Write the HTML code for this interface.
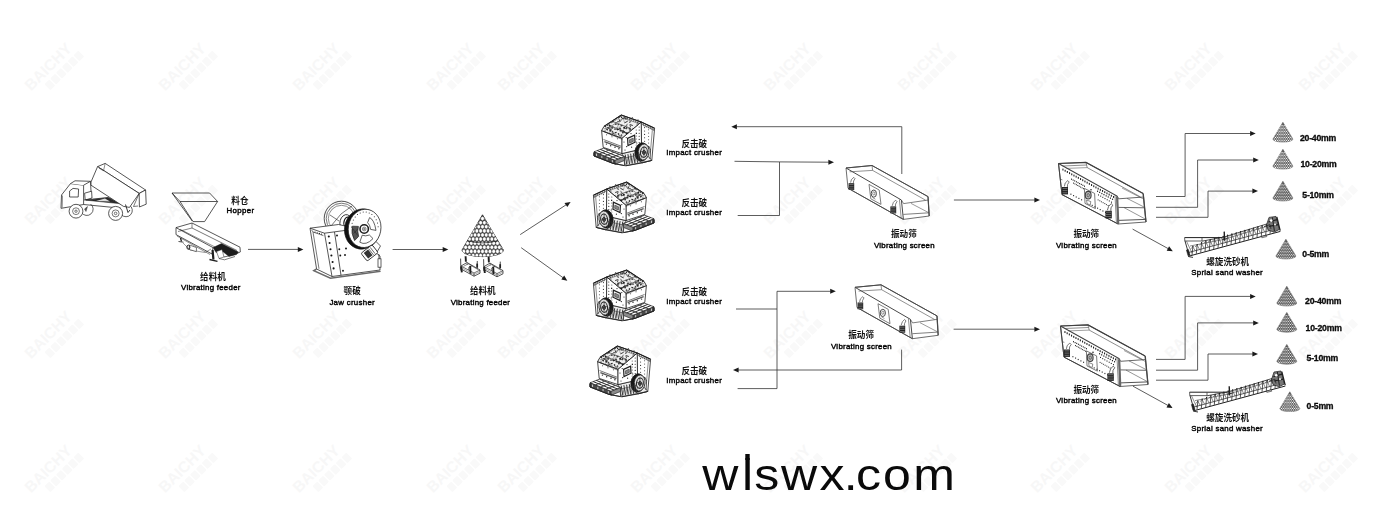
<!DOCTYPE html>
<html><head><meta charset="utf-8"><title>Flow</title>
<style>
html,body{margin:0;padding:0;background:#fff;}
body{width:1400px;height:520px;overflow:hidden;font-family:"Liberation Sans",sans-serif;}
svg{display:block;}
svg text{font-family:"Liberation Sans","Noto Sans CJK SC",sans-serif;fill:#111;}
</style></head><body>
<svg width="1400" height="520" viewBox="0 0 1400 520">
<defs>
</defs>
<g><g transform="translate(54 67) rotate(-45)"><text x="-4" y="1" font-size="15.5" font-weight="700" text-anchor="middle" style="fill:#f7f7f7">BAICHY</text><g fill="#f9f9f9"><rect x="-19.0" y="5.5" width="6.8" height="8.4" rx="1"/><rect x="-10.8" y="5.5" width="6.8" height="8.4" rx="1"/><rect x="-2.6" y="5.5" width="6.8" height="8.4" rx="1"/><rect x="5.6" y="5.5" width="6.8" height="8.4" rx="1"/><rect x="13.8" y="5.5" width="6.8" height="8.4" rx="1"/><rect x="22.0" y="5.5" width="6.8" height="8.4" rx="1"/></g></g><g transform="translate(188 67) rotate(-45)"><text x="-4" y="1" font-size="15.5" font-weight="700" text-anchor="middle" style="fill:#f7f7f7">BAICHY</text><g fill="#f9f9f9"><rect x="-19.0" y="5.5" width="6.8" height="8.4" rx="1"/><rect x="-10.8" y="5.5" width="6.8" height="8.4" rx="1"/><rect x="-2.6" y="5.5" width="6.8" height="8.4" rx="1"/><rect x="5.6" y="5.5" width="6.8" height="8.4" rx="1"/><rect x="13.8" y="5.5" width="6.8" height="8.4" rx="1"/><rect x="22.0" y="5.5" width="6.8" height="8.4" rx="1"/></g></g><g transform="translate(322 67) rotate(-45)"><text x="-4" y="1" font-size="15.5" font-weight="700" text-anchor="middle" style="fill:#f7f7f7">BAICHY</text><g fill="#f9f9f9"><rect x="-19.0" y="5.5" width="6.8" height="8.4" rx="1"/><rect x="-10.8" y="5.5" width="6.8" height="8.4" rx="1"/><rect x="-2.6" y="5.5" width="6.8" height="8.4" rx="1"/><rect x="5.6" y="5.5" width="6.8" height="8.4" rx="1"/><rect x="13.8" y="5.5" width="6.8" height="8.4" rx="1"/><rect x="22.0" y="5.5" width="6.8" height="8.4" rx="1"/></g></g><g transform="translate(456 67) rotate(-45)"><text x="-4" y="1" font-size="15.5" font-weight="700" text-anchor="middle" style="fill:#f7f7f7">BAICHY</text><g fill="#f9f9f9"><rect x="-19.0" y="5.5" width="6.8" height="8.4" rx="1"/><rect x="-10.8" y="5.5" width="6.8" height="8.4" rx="1"/><rect x="-2.6" y="5.5" width="6.8" height="8.4" rx="1"/><rect x="5.6" y="5.5" width="6.8" height="8.4" rx="1"/><rect x="13.8" y="5.5" width="6.8" height="8.4" rx="1"/><rect x="22.0" y="5.5" width="6.8" height="8.4" rx="1"/></g></g><g transform="translate(527 67) rotate(-45)"><text x="-4" y="1" font-size="15.5" font-weight="700" text-anchor="middle" style="fill:#f7f7f7">BAICHY</text><g fill="#f9f9f9"><rect x="-19.0" y="5.5" width="6.8" height="8.4" rx="1"/><rect x="-10.8" y="5.5" width="6.8" height="8.4" rx="1"/><rect x="-2.6" y="5.5" width="6.8" height="8.4" rx="1"/><rect x="5.6" y="5.5" width="6.8" height="8.4" rx="1"/><rect x="13.8" y="5.5" width="6.8" height="8.4" rx="1"/><rect x="22.0" y="5.5" width="6.8" height="8.4" rx="1"/></g></g><g transform="translate(660 67) rotate(-45)"><text x="-4" y="1" font-size="15.5" font-weight="700" text-anchor="middle" style="fill:#f7f7f7">BAICHY</text><g fill="#f9f9f9"><rect x="-19.0" y="5.5" width="6.8" height="8.4" rx="1"/><rect x="-10.8" y="5.5" width="6.8" height="8.4" rx="1"/><rect x="-2.6" y="5.5" width="6.8" height="8.4" rx="1"/><rect x="5.6" y="5.5" width="6.8" height="8.4" rx="1"/><rect x="13.8" y="5.5" width="6.8" height="8.4" rx="1"/><rect x="22.0" y="5.5" width="6.8" height="8.4" rx="1"/></g></g><g transform="translate(793 67) rotate(-45)"><text x="-4" y="1" font-size="15.5" font-weight="700" text-anchor="middle" style="fill:#f7f7f7">BAICHY</text><g fill="#f9f9f9"><rect x="-19.0" y="5.5" width="6.8" height="8.4" rx="1"/><rect x="-10.8" y="5.5" width="6.8" height="8.4" rx="1"/><rect x="-2.6" y="5.5" width="6.8" height="8.4" rx="1"/><rect x="5.6" y="5.5" width="6.8" height="8.4" rx="1"/><rect x="13.8" y="5.5" width="6.8" height="8.4" rx="1"/><rect x="22.0" y="5.5" width="6.8" height="8.4" rx="1"/></g></g><g transform="translate(927 67) rotate(-45)"><text x="-4" y="1" font-size="15.5" font-weight="700" text-anchor="middle" style="fill:#f7f7f7">BAICHY</text><g fill="#f9f9f9"><rect x="-19.0" y="5.5" width="6.8" height="8.4" rx="1"/><rect x="-10.8" y="5.5" width="6.8" height="8.4" rx="1"/><rect x="-2.6" y="5.5" width="6.8" height="8.4" rx="1"/><rect x="5.6" y="5.5" width="6.8" height="8.4" rx="1"/><rect x="13.8" y="5.5" width="6.8" height="8.4" rx="1"/><rect x="22.0" y="5.5" width="6.8" height="8.4" rx="1"/></g></g><g transform="translate(1060 67) rotate(-45)"><text x="-4" y="1" font-size="15.5" font-weight="700" text-anchor="middle" style="fill:#f7f7f7">BAICHY</text><g fill="#f9f9f9"><rect x="-19.0" y="5.5" width="6.8" height="8.4" rx="1"/><rect x="-10.8" y="5.5" width="6.8" height="8.4" rx="1"/><rect x="-2.6" y="5.5" width="6.8" height="8.4" rx="1"/><rect x="5.6" y="5.5" width="6.8" height="8.4" rx="1"/><rect x="13.8" y="5.5" width="6.8" height="8.4" rx="1"/><rect x="22.0" y="5.5" width="6.8" height="8.4" rx="1"/></g></g><g transform="translate(1194 67) rotate(-45)"><text x="-4" y="1" font-size="15.5" font-weight="700" text-anchor="middle" style="fill:#f7f7f7">BAICHY</text><g fill="#f9f9f9"><rect x="-19.0" y="5.5" width="6.8" height="8.4" rx="1"/><rect x="-10.8" y="5.5" width="6.8" height="8.4" rx="1"/><rect x="-2.6" y="5.5" width="6.8" height="8.4" rx="1"/><rect x="5.6" y="5.5" width="6.8" height="8.4" rx="1"/><rect x="13.8" y="5.5" width="6.8" height="8.4" rx="1"/><rect x="22.0" y="5.5" width="6.8" height="8.4" rx="1"/></g></g><g transform="translate(1328 67) rotate(-45)"><text x="-4" y="1" font-size="15.5" font-weight="700" text-anchor="middle" style="fill:#f7f7f7">BAICHY</text><g fill="#f9f9f9"><rect x="-19.0" y="5.5" width="6.8" height="8.4" rx="1"/><rect x="-10.8" y="5.5" width="6.8" height="8.4" rx="1"/><rect x="-2.6" y="5.5" width="6.8" height="8.4" rx="1"/><rect x="5.6" y="5.5" width="6.8" height="8.4" rx="1"/><rect x="13.8" y="5.5" width="6.8" height="8.4" rx="1"/><rect x="22.0" y="5.5" width="6.8" height="8.4" rx="1"/></g></g><g transform="translate(54 201) rotate(-45)"><text x="-4" y="1" font-size="15.5" font-weight="700" text-anchor="middle" style="fill:#f7f7f7">BAICHY</text><g fill="#f9f9f9"><rect x="-19.0" y="5.5" width="6.8" height="8.4" rx="1"/><rect x="-10.8" y="5.5" width="6.8" height="8.4" rx="1"/><rect x="-2.6" y="5.5" width="6.8" height="8.4" rx="1"/><rect x="5.6" y="5.5" width="6.8" height="8.4" rx="1"/><rect x="13.8" y="5.5" width="6.8" height="8.4" rx="1"/><rect x="22.0" y="5.5" width="6.8" height="8.4" rx="1"/></g></g><g transform="translate(188 201) rotate(-45)"><text x="-4" y="1" font-size="15.5" font-weight="700" text-anchor="middle" style="fill:#f7f7f7">BAICHY</text><g fill="#f9f9f9"><rect x="-19.0" y="5.5" width="6.8" height="8.4" rx="1"/><rect x="-10.8" y="5.5" width="6.8" height="8.4" rx="1"/><rect x="-2.6" y="5.5" width="6.8" height="8.4" rx="1"/><rect x="5.6" y="5.5" width="6.8" height="8.4" rx="1"/><rect x="13.8" y="5.5" width="6.8" height="8.4" rx="1"/><rect x="22.0" y="5.5" width="6.8" height="8.4" rx="1"/></g></g><g transform="translate(322 201) rotate(-45)"><text x="-4" y="1" font-size="15.5" font-weight="700" text-anchor="middle" style="fill:#f7f7f7">BAICHY</text><g fill="#f9f9f9"><rect x="-19.0" y="5.5" width="6.8" height="8.4" rx="1"/><rect x="-10.8" y="5.5" width="6.8" height="8.4" rx="1"/><rect x="-2.6" y="5.5" width="6.8" height="8.4" rx="1"/><rect x="5.6" y="5.5" width="6.8" height="8.4" rx="1"/><rect x="13.8" y="5.5" width="6.8" height="8.4" rx="1"/><rect x="22.0" y="5.5" width="6.8" height="8.4" rx="1"/></g></g><g transform="translate(456 201) rotate(-45)"><text x="-4" y="1" font-size="15.5" font-weight="700" text-anchor="middle" style="fill:#f7f7f7">BAICHY</text><g fill="#f9f9f9"><rect x="-19.0" y="5.5" width="6.8" height="8.4" rx="1"/><rect x="-10.8" y="5.5" width="6.8" height="8.4" rx="1"/><rect x="-2.6" y="5.5" width="6.8" height="8.4" rx="1"/><rect x="5.6" y="5.5" width="6.8" height="8.4" rx="1"/><rect x="13.8" y="5.5" width="6.8" height="8.4" rx="1"/><rect x="22.0" y="5.5" width="6.8" height="8.4" rx="1"/></g></g><g transform="translate(527 201) rotate(-45)"><text x="-4" y="1" font-size="15.5" font-weight="700" text-anchor="middle" style="fill:#f7f7f7">BAICHY</text><g fill="#f9f9f9"><rect x="-19.0" y="5.5" width="6.8" height="8.4" rx="1"/><rect x="-10.8" y="5.5" width="6.8" height="8.4" rx="1"/><rect x="-2.6" y="5.5" width="6.8" height="8.4" rx="1"/><rect x="5.6" y="5.5" width="6.8" height="8.4" rx="1"/><rect x="13.8" y="5.5" width="6.8" height="8.4" rx="1"/><rect x="22.0" y="5.5" width="6.8" height="8.4" rx="1"/></g></g><g transform="translate(660 201) rotate(-45)"><text x="-4" y="1" font-size="15.5" font-weight="700" text-anchor="middle" style="fill:#f7f7f7">BAICHY</text><g fill="#f9f9f9"><rect x="-19.0" y="5.5" width="6.8" height="8.4" rx="1"/><rect x="-10.8" y="5.5" width="6.8" height="8.4" rx="1"/><rect x="-2.6" y="5.5" width="6.8" height="8.4" rx="1"/><rect x="5.6" y="5.5" width="6.8" height="8.4" rx="1"/><rect x="13.8" y="5.5" width="6.8" height="8.4" rx="1"/><rect x="22.0" y="5.5" width="6.8" height="8.4" rx="1"/></g></g><g transform="translate(793 201) rotate(-45)"><text x="-4" y="1" font-size="15.5" font-weight="700" text-anchor="middle" style="fill:#f7f7f7">BAICHY</text><g fill="#f9f9f9"><rect x="-19.0" y="5.5" width="6.8" height="8.4" rx="1"/><rect x="-10.8" y="5.5" width="6.8" height="8.4" rx="1"/><rect x="-2.6" y="5.5" width="6.8" height="8.4" rx="1"/><rect x="5.6" y="5.5" width="6.8" height="8.4" rx="1"/><rect x="13.8" y="5.5" width="6.8" height="8.4" rx="1"/><rect x="22.0" y="5.5" width="6.8" height="8.4" rx="1"/></g></g><g transform="translate(927 201) rotate(-45)"><text x="-4" y="1" font-size="15.5" font-weight="700" text-anchor="middle" style="fill:#f7f7f7">BAICHY</text><g fill="#f9f9f9"><rect x="-19.0" y="5.5" width="6.8" height="8.4" rx="1"/><rect x="-10.8" y="5.5" width="6.8" height="8.4" rx="1"/><rect x="-2.6" y="5.5" width="6.8" height="8.4" rx="1"/><rect x="5.6" y="5.5" width="6.8" height="8.4" rx="1"/><rect x="13.8" y="5.5" width="6.8" height="8.4" rx="1"/><rect x="22.0" y="5.5" width="6.8" height="8.4" rx="1"/></g></g><g transform="translate(1060 201) rotate(-45)"><text x="-4" y="1" font-size="15.5" font-weight="700" text-anchor="middle" style="fill:#f7f7f7">BAICHY</text><g fill="#f9f9f9"><rect x="-19.0" y="5.5" width="6.8" height="8.4" rx="1"/><rect x="-10.8" y="5.5" width="6.8" height="8.4" rx="1"/><rect x="-2.6" y="5.5" width="6.8" height="8.4" rx="1"/><rect x="5.6" y="5.5" width="6.8" height="8.4" rx="1"/><rect x="13.8" y="5.5" width="6.8" height="8.4" rx="1"/><rect x="22.0" y="5.5" width="6.8" height="8.4" rx="1"/></g></g><g transform="translate(1194 201) rotate(-45)"><text x="-4" y="1" font-size="15.5" font-weight="700" text-anchor="middle" style="fill:#f7f7f7">BAICHY</text><g fill="#f9f9f9"><rect x="-19.0" y="5.5" width="6.8" height="8.4" rx="1"/><rect x="-10.8" y="5.5" width="6.8" height="8.4" rx="1"/><rect x="-2.6" y="5.5" width="6.8" height="8.4" rx="1"/><rect x="5.6" y="5.5" width="6.8" height="8.4" rx="1"/><rect x="13.8" y="5.5" width="6.8" height="8.4" rx="1"/><rect x="22.0" y="5.5" width="6.8" height="8.4" rx="1"/></g></g><g transform="translate(1328 201) rotate(-45)"><text x="-4" y="1" font-size="15.5" font-weight="700" text-anchor="middle" style="fill:#f7f7f7">BAICHY</text><g fill="#f9f9f9"><rect x="-19.0" y="5.5" width="6.8" height="8.4" rx="1"/><rect x="-10.8" y="5.5" width="6.8" height="8.4" rx="1"/><rect x="-2.6" y="5.5" width="6.8" height="8.4" rx="1"/><rect x="5.6" y="5.5" width="6.8" height="8.4" rx="1"/><rect x="13.8" y="5.5" width="6.8" height="8.4" rx="1"/><rect x="22.0" y="5.5" width="6.8" height="8.4" rx="1"/></g></g><g transform="translate(54 335) rotate(-45)"><text x="-4" y="1" font-size="15.5" font-weight="700" text-anchor="middle" style="fill:#f7f7f7">BAICHY</text><g fill="#f9f9f9"><rect x="-19.0" y="5.5" width="6.8" height="8.4" rx="1"/><rect x="-10.8" y="5.5" width="6.8" height="8.4" rx="1"/><rect x="-2.6" y="5.5" width="6.8" height="8.4" rx="1"/><rect x="5.6" y="5.5" width="6.8" height="8.4" rx="1"/><rect x="13.8" y="5.5" width="6.8" height="8.4" rx="1"/><rect x="22.0" y="5.5" width="6.8" height="8.4" rx="1"/></g></g><g transform="translate(188 335) rotate(-45)"><text x="-4" y="1" font-size="15.5" font-weight="700" text-anchor="middle" style="fill:#f7f7f7">BAICHY</text><g fill="#f9f9f9"><rect x="-19.0" y="5.5" width="6.8" height="8.4" rx="1"/><rect x="-10.8" y="5.5" width="6.8" height="8.4" rx="1"/><rect x="-2.6" y="5.5" width="6.8" height="8.4" rx="1"/><rect x="5.6" y="5.5" width="6.8" height="8.4" rx="1"/><rect x="13.8" y="5.5" width="6.8" height="8.4" rx="1"/><rect x="22.0" y="5.5" width="6.8" height="8.4" rx="1"/></g></g><g transform="translate(322 335) rotate(-45)"><text x="-4" y="1" font-size="15.5" font-weight="700" text-anchor="middle" style="fill:#f7f7f7">BAICHY</text><g fill="#f9f9f9"><rect x="-19.0" y="5.5" width="6.8" height="8.4" rx="1"/><rect x="-10.8" y="5.5" width="6.8" height="8.4" rx="1"/><rect x="-2.6" y="5.5" width="6.8" height="8.4" rx="1"/><rect x="5.6" y="5.5" width="6.8" height="8.4" rx="1"/><rect x="13.8" y="5.5" width="6.8" height="8.4" rx="1"/><rect x="22.0" y="5.5" width="6.8" height="8.4" rx="1"/></g></g><g transform="translate(456 335) rotate(-45)"><text x="-4" y="1" font-size="15.5" font-weight="700" text-anchor="middle" style="fill:#f7f7f7">BAICHY</text><g fill="#f9f9f9"><rect x="-19.0" y="5.5" width="6.8" height="8.4" rx="1"/><rect x="-10.8" y="5.5" width="6.8" height="8.4" rx="1"/><rect x="-2.6" y="5.5" width="6.8" height="8.4" rx="1"/><rect x="5.6" y="5.5" width="6.8" height="8.4" rx="1"/><rect x="13.8" y="5.5" width="6.8" height="8.4" rx="1"/><rect x="22.0" y="5.5" width="6.8" height="8.4" rx="1"/></g></g><g transform="translate(527 335) rotate(-45)"><text x="-4" y="1" font-size="15.5" font-weight="700" text-anchor="middle" style="fill:#f7f7f7">BAICHY</text><g fill="#f9f9f9"><rect x="-19.0" y="5.5" width="6.8" height="8.4" rx="1"/><rect x="-10.8" y="5.5" width="6.8" height="8.4" rx="1"/><rect x="-2.6" y="5.5" width="6.8" height="8.4" rx="1"/><rect x="5.6" y="5.5" width="6.8" height="8.4" rx="1"/><rect x="13.8" y="5.5" width="6.8" height="8.4" rx="1"/><rect x="22.0" y="5.5" width="6.8" height="8.4" rx="1"/></g></g><g transform="translate(660 335) rotate(-45)"><text x="-4" y="1" font-size="15.5" font-weight="700" text-anchor="middle" style="fill:#f7f7f7">BAICHY</text><g fill="#f9f9f9"><rect x="-19.0" y="5.5" width="6.8" height="8.4" rx="1"/><rect x="-10.8" y="5.5" width="6.8" height="8.4" rx="1"/><rect x="-2.6" y="5.5" width="6.8" height="8.4" rx="1"/><rect x="5.6" y="5.5" width="6.8" height="8.4" rx="1"/><rect x="13.8" y="5.5" width="6.8" height="8.4" rx="1"/><rect x="22.0" y="5.5" width="6.8" height="8.4" rx="1"/></g></g><g transform="translate(793 335) rotate(-45)"><text x="-4" y="1" font-size="15.5" font-weight="700" text-anchor="middle" style="fill:#f7f7f7">BAICHY</text><g fill="#f9f9f9"><rect x="-19.0" y="5.5" width="6.8" height="8.4" rx="1"/><rect x="-10.8" y="5.5" width="6.8" height="8.4" rx="1"/><rect x="-2.6" y="5.5" width="6.8" height="8.4" rx="1"/><rect x="5.6" y="5.5" width="6.8" height="8.4" rx="1"/><rect x="13.8" y="5.5" width="6.8" height="8.4" rx="1"/><rect x="22.0" y="5.5" width="6.8" height="8.4" rx="1"/></g></g><g transform="translate(927 335) rotate(-45)"><text x="-4" y="1" font-size="15.5" font-weight="700" text-anchor="middle" style="fill:#f7f7f7">BAICHY</text><g fill="#f9f9f9"><rect x="-19.0" y="5.5" width="6.8" height="8.4" rx="1"/><rect x="-10.8" y="5.5" width="6.8" height="8.4" rx="1"/><rect x="-2.6" y="5.5" width="6.8" height="8.4" rx="1"/><rect x="5.6" y="5.5" width="6.8" height="8.4" rx="1"/><rect x="13.8" y="5.5" width="6.8" height="8.4" rx="1"/><rect x="22.0" y="5.5" width="6.8" height="8.4" rx="1"/></g></g><g transform="translate(1060 335) rotate(-45)"><text x="-4" y="1" font-size="15.5" font-weight="700" text-anchor="middle" style="fill:#f7f7f7">BAICHY</text><g fill="#f9f9f9"><rect x="-19.0" y="5.5" width="6.8" height="8.4" rx="1"/><rect x="-10.8" y="5.5" width="6.8" height="8.4" rx="1"/><rect x="-2.6" y="5.5" width="6.8" height="8.4" rx="1"/><rect x="5.6" y="5.5" width="6.8" height="8.4" rx="1"/><rect x="13.8" y="5.5" width="6.8" height="8.4" rx="1"/><rect x="22.0" y="5.5" width="6.8" height="8.4" rx="1"/></g></g><g transform="translate(1194 335) rotate(-45)"><text x="-4" y="1" font-size="15.5" font-weight="700" text-anchor="middle" style="fill:#f7f7f7">BAICHY</text><g fill="#f9f9f9"><rect x="-19.0" y="5.5" width="6.8" height="8.4" rx="1"/><rect x="-10.8" y="5.5" width="6.8" height="8.4" rx="1"/><rect x="-2.6" y="5.5" width="6.8" height="8.4" rx="1"/><rect x="5.6" y="5.5" width="6.8" height="8.4" rx="1"/><rect x="13.8" y="5.5" width="6.8" height="8.4" rx="1"/><rect x="22.0" y="5.5" width="6.8" height="8.4" rx="1"/></g></g><g transform="translate(1328 335) rotate(-45)"><text x="-4" y="1" font-size="15.5" font-weight="700" text-anchor="middle" style="fill:#f7f7f7">BAICHY</text><g fill="#f9f9f9"><rect x="-19.0" y="5.5" width="6.8" height="8.4" rx="1"/><rect x="-10.8" y="5.5" width="6.8" height="8.4" rx="1"/><rect x="-2.6" y="5.5" width="6.8" height="8.4" rx="1"/><rect x="5.6" y="5.5" width="6.8" height="8.4" rx="1"/><rect x="13.8" y="5.5" width="6.8" height="8.4" rx="1"/><rect x="22.0" y="5.5" width="6.8" height="8.4" rx="1"/></g></g><g transform="translate(54 469) rotate(-45)"><text x="-4" y="1" font-size="15.5" font-weight="700" text-anchor="middle" style="fill:#f7f7f7">BAICHY</text><g fill="#f9f9f9"><rect x="-19.0" y="5.5" width="6.8" height="8.4" rx="1"/><rect x="-10.8" y="5.5" width="6.8" height="8.4" rx="1"/><rect x="-2.6" y="5.5" width="6.8" height="8.4" rx="1"/><rect x="5.6" y="5.5" width="6.8" height="8.4" rx="1"/><rect x="13.8" y="5.5" width="6.8" height="8.4" rx="1"/><rect x="22.0" y="5.5" width="6.8" height="8.4" rx="1"/></g></g><g transform="translate(188 469) rotate(-45)"><text x="-4" y="1" font-size="15.5" font-weight="700" text-anchor="middle" style="fill:#f7f7f7">BAICHY</text><g fill="#f9f9f9"><rect x="-19.0" y="5.5" width="6.8" height="8.4" rx="1"/><rect x="-10.8" y="5.5" width="6.8" height="8.4" rx="1"/><rect x="-2.6" y="5.5" width="6.8" height="8.4" rx="1"/><rect x="5.6" y="5.5" width="6.8" height="8.4" rx="1"/><rect x="13.8" y="5.5" width="6.8" height="8.4" rx="1"/><rect x="22.0" y="5.5" width="6.8" height="8.4" rx="1"/></g></g><g transform="translate(322 469) rotate(-45)"><text x="-4" y="1" font-size="15.5" font-weight="700" text-anchor="middle" style="fill:#f7f7f7">BAICHY</text><g fill="#f9f9f9"><rect x="-19.0" y="5.5" width="6.8" height="8.4" rx="1"/><rect x="-10.8" y="5.5" width="6.8" height="8.4" rx="1"/><rect x="-2.6" y="5.5" width="6.8" height="8.4" rx="1"/><rect x="5.6" y="5.5" width="6.8" height="8.4" rx="1"/><rect x="13.8" y="5.5" width="6.8" height="8.4" rx="1"/><rect x="22.0" y="5.5" width="6.8" height="8.4" rx="1"/></g></g><g transform="translate(456 469) rotate(-45)"><text x="-4" y="1" font-size="15.5" font-weight="700" text-anchor="middle" style="fill:#f7f7f7">BAICHY</text><g fill="#f9f9f9"><rect x="-19.0" y="5.5" width="6.8" height="8.4" rx="1"/><rect x="-10.8" y="5.5" width="6.8" height="8.4" rx="1"/><rect x="-2.6" y="5.5" width="6.8" height="8.4" rx="1"/><rect x="5.6" y="5.5" width="6.8" height="8.4" rx="1"/><rect x="13.8" y="5.5" width="6.8" height="8.4" rx="1"/><rect x="22.0" y="5.5" width="6.8" height="8.4" rx="1"/></g></g><g transform="translate(527 469) rotate(-45)"><text x="-4" y="1" font-size="15.5" font-weight="700" text-anchor="middle" style="fill:#f7f7f7">BAICHY</text><g fill="#f9f9f9"><rect x="-19.0" y="5.5" width="6.8" height="8.4" rx="1"/><rect x="-10.8" y="5.5" width="6.8" height="8.4" rx="1"/><rect x="-2.6" y="5.5" width="6.8" height="8.4" rx="1"/><rect x="5.6" y="5.5" width="6.8" height="8.4" rx="1"/><rect x="13.8" y="5.5" width="6.8" height="8.4" rx="1"/><rect x="22.0" y="5.5" width="6.8" height="8.4" rx="1"/></g></g><g transform="translate(660 469) rotate(-45)"><text x="-4" y="1" font-size="15.5" font-weight="700" text-anchor="middle" style="fill:#f7f7f7">BAICHY</text><g fill="#f9f9f9"><rect x="-19.0" y="5.5" width="6.8" height="8.4" rx="1"/><rect x="-10.8" y="5.5" width="6.8" height="8.4" rx="1"/><rect x="-2.6" y="5.5" width="6.8" height="8.4" rx="1"/><rect x="5.6" y="5.5" width="6.8" height="8.4" rx="1"/><rect x="13.8" y="5.5" width="6.8" height="8.4" rx="1"/><rect x="22.0" y="5.5" width="6.8" height="8.4" rx="1"/></g></g><g transform="translate(793 469) rotate(-45)"><text x="-4" y="1" font-size="15.5" font-weight="700" text-anchor="middle" style="fill:#f7f7f7">BAICHY</text><g fill="#f9f9f9"><rect x="-19.0" y="5.5" width="6.8" height="8.4" rx="1"/><rect x="-10.8" y="5.5" width="6.8" height="8.4" rx="1"/><rect x="-2.6" y="5.5" width="6.8" height="8.4" rx="1"/><rect x="5.6" y="5.5" width="6.8" height="8.4" rx="1"/><rect x="13.8" y="5.5" width="6.8" height="8.4" rx="1"/><rect x="22.0" y="5.5" width="6.8" height="8.4" rx="1"/></g></g><g transform="translate(927 469) rotate(-45)"><text x="-4" y="1" font-size="15.5" font-weight="700" text-anchor="middle" style="fill:#f7f7f7">BAICHY</text><g fill="#f9f9f9"><rect x="-19.0" y="5.5" width="6.8" height="8.4" rx="1"/><rect x="-10.8" y="5.5" width="6.8" height="8.4" rx="1"/><rect x="-2.6" y="5.5" width="6.8" height="8.4" rx="1"/><rect x="5.6" y="5.5" width="6.8" height="8.4" rx="1"/><rect x="13.8" y="5.5" width="6.8" height="8.4" rx="1"/><rect x="22.0" y="5.5" width="6.8" height="8.4" rx="1"/></g></g><g transform="translate(1060 469) rotate(-45)"><text x="-4" y="1" font-size="15.5" font-weight="700" text-anchor="middle" style="fill:#f7f7f7">BAICHY</text><g fill="#f9f9f9"><rect x="-19.0" y="5.5" width="6.8" height="8.4" rx="1"/><rect x="-10.8" y="5.5" width="6.8" height="8.4" rx="1"/><rect x="-2.6" y="5.5" width="6.8" height="8.4" rx="1"/><rect x="5.6" y="5.5" width="6.8" height="8.4" rx="1"/><rect x="13.8" y="5.5" width="6.8" height="8.4" rx="1"/><rect x="22.0" y="5.5" width="6.8" height="8.4" rx="1"/></g></g><g transform="translate(1194 469) rotate(-45)"><text x="-4" y="1" font-size="15.5" font-weight="700" text-anchor="middle" style="fill:#f7f7f7">BAICHY</text><g fill="#f9f9f9"><rect x="-19.0" y="5.5" width="6.8" height="8.4" rx="1"/><rect x="-10.8" y="5.5" width="6.8" height="8.4" rx="1"/><rect x="-2.6" y="5.5" width="6.8" height="8.4" rx="1"/><rect x="5.6" y="5.5" width="6.8" height="8.4" rx="1"/><rect x="13.8" y="5.5" width="6.8" height="8.4" rx="1"/><rect x="22.0" y="5.5" width="6.8" height="8.4" rx="1"/></g></g><g transform="translate(1328 469) rotate(-45)"><text x="-4" y="1" font-size="15.5" font-weight="700" text-anchor="middle" style="fill:#f7f7f7">BAICHY</text><g fill="#f9f9f9"><rect x="-19.0" y="5.5" width="6.8" height="8.4" rx="1"/><rect x="-10.8" y="5.5" width="6.8" height="8.4" rx="1"/><rect x="-2.6" y="5.5" width="6.8" height="8.4" rx="1"/><rect x="5.6" y="5.5" width="6.8" height="8.4" rx="1"/><rect x="13.8" y="5.5" width="6.8" height="8.4" rx="1"/><rect x="22.0" y="5.5" width="6.8" height="8.4" rx="1"/></g></g></g>
<g id="arrows">
<path d="M248.0 249.4 L298.3 249.4" fill="none" stroke="#333" stroke-width="0.8" stroke-linejoin="miter"/><path d="M303.4 249.4 L297.8 251.9 L297.8 246.9 Z" fill="#1a1a1a"/>
<path d="M392.6 249.5 L443.2 249.5" fill="none" stroke="#333" stroke-width="0.8" stroke-linejoin="miter"/><path d="M448.3 249.5 L442.7 252.0 L442.7 247.0 Z" fill="#1a1a1a"/>
<path d="M520.2 234.6 L566.3 204.7" fill="none" stroke="#333" stroke-width="0.8" stroke-linejoin="miter"/><path d="M570.6 201.9 L567.3 207.0 L564.5 202.9 Z" fill="#1a1a1a"/>
<path d="M521.2 247.7 L563.2 277.8" fill="none" stroke="#333" stroke-width="0.8" stroke-linejoin="miter"/><path d="M567.3 280.8 L561.3 279.6 L564.2 275.5 Z" fill="#1a1a1a"/>
<path d="M734.5 161.3 L779.5 161.9 L828.9 162.2" fill="none" stroke="#333" stroke-width="0.8" stroke-linejoin="miter"/><path d="M834.0 162.2 L828.4 164.7 L828.4 159.7 Z" fill="#1a1a1a"/>
<path d="M737.7 215.5 L779.5 215.5 L779.5 161.9" fill="none" stroke="#333" stroke-width="0.8" stroke-linejoin="miter"/>
<path d="M901.8 174.0 L901.8 126.7 L736.4 126.7" fill="none" stroke="#333" stroke-width="0.8" stroke-linejoin="miter"/><path d="M731.3 126.7 L736.9 124.2 L736.9 129.2 Z" fill="#1a1a1a"/>
<path d="M736.0 309.0 L777.0 309.0" fill="none" stroke="#333" stroke-width="0.8" stroke-linejoin="miter"/>
<path d="M737.6 388.6 L777.0 388.6 L777.0 291.3 L830.7 291.3" fill="none" stroke="#333" stroke-width="0.8" stroke-linejoin="miter"/><path d="M835.8 291.3 L830.2 293.8 L830.2 288.8 Z" fill="#1a1a1a"/>
<path d="M901.6 349.6 L901.6 370.0 L738.1 370.0" fill="none" stroke="#333" stroke-width="0.8" stroke-linejoin="miter"/><path d="M733.0 370.0 L738.6 367.5 L738.6 372.5 Z" fill="#1a1a1a"/>
<path d="M953.9 200.0 L1034.9 200.0" fill="none" stroke="#333" stroke-width="0.8" stroke-linejoin="miter"/><path d="M1040.0 200.0 L1034.4 202.5 L1034.4 197.5 Z" fill="#1a1a1a"/>
<path d="M953.6 329.2 L1034.9 329.2" fill="none" stroke="#333" stroke-width="0.8" stroke-linejoin="miter"/><path d="M1040.0 329.2 L1034.4 331.7 L1034.4 326.7 Z" fill="#1a1a1a"/>
<path d="M1156.0 196.5 L1185.1 196.5 L1185.1 133.5 L1250.6 133.5" fill="none" stroke="#333" stroke-width="0.8" stroke-linejoin="miter"/><path d="M1255.7 133.5 L1250.1 136.0 L1250.1 131.0 Z" fill="#1a1a1a"/>
<path d="M1156.0 207.3 L1197.6 207.3 L1197.6 160.0 L1253.7 160.0" fill="none" stroke="#333" stroke-width="0.8" stroke-linejoin="miter"/><path d="M1258.8 160.0 L1253.2 162.5 L1253.2 157.5 Z" fill="#1a1a1a"/>
<path d="M1156.0 217.3 L1208.0 217.3 L1208.0 191.1 L1252.9 191.1" fill="none" stroke="#333" stroke-width="0.8" stroke-linejoin="miter"/><path d="M1258.0 191.1 L1252.4 193.6 L1252.4 188.6 Z" fill="#1a1a1a"/>
<path d="M1156.0 359.4 L1185.1 359.4 L1185.1 296.4 L1250.6 296.4" fill="none" stroke="#333" stroke-width="0.8" stroke-linejoin="miter"/><path d="M1255.7 296.4 L1250.1 298.9 L1250.1 293.9 Z" fill="#1a1a1a"/>
<path d="M1156.0 370.2 L1197.6 370.2 L1197.6 322.9 L1253.7 322.9" fill="none" stroke="#333" stroke-width="0.8" stroke-linejoin="miter"/><path d="M1258.8 322.9 L1253.2 325.4 L1253.2 320.4 Z" fill="#1a1a1a"/>
<path d="M1156.0 380.2 L1208.0 380.2 L1208.0 354.0 L1252.9 354.0" fill="none" stroke="#333" stroke-width="0.8" stroke-linejoin="miter"/><path d="M1258.0 354.0 L1252.4 356.5 L1252.4 351.5 Z" fill="#1a1a1a"/>
<path d="M1132.6 229.1 L1168.3 248.7" fill="none" stroke="#333" stroke-width="0.8" stroke-linejoin="miter"/><path d="M1172.8 251.2 L1166.7 250.7 L1169.1 246.3 Z" fill="#1a1a1a"/>
<path d="M1133.0 386.2 L1168.1 405.5" fill="none" stroke="#333" stroke-width="0.8" stroke-linejoin="miter"/><path d="M1172.6 408.0 L1166.5 407.5 L1168.9 403.1 Z" fill="#1a1a1a"/>
</g>
<g id="labels" style="opacity:0.999">
<text x="231.3" y="204.4" font-size="8.6" font-weight="700">料仓</text>
<text x="226.5" y="213.2" font-size="7.9" stroke="#000" stroke-width="0.42" textLength="27.6" lengthAdjust="spacing">Hopper</text>
<text x="200.1" y="280.4" font-size="8.6" font-weight="700">给料机</text>
<text x="181.1" y="290.0" font-size="7.9" stroke="#000" stroke-width="0.42" textLength="59.3" lengthAdjust="spacing">Vibrating feeder</text>
<text x="343.6" y="294.2" font-size="8.6" font-weight="700">颚破</text>
<text x="329.4" y="305.2" font-size="7.9" stroke="#000" stroke-width="0.42" textLength="45.3" lengthAdjust="spacing">Jaw crusher</text>
<text x="469.9" y="294.2" font-size="8.6" font-weight="700">给料机</text>
<text x="450.7" y="305.2" font-size="7.9" stroke="#000" stroke-width="0.42" textLength="59.3" lengthAdjust="spacing">Vibrating feeder</text>
<text x="681.4" y="146.6" font-size="8.6" font-weight="700">反击破</text>
<text x="666.2" y="155.0" font-size="7.9" stroke="#000" stroke-width="0.42" textLength="55.6" lengthAdjust="spacing">Impact crusher</text>
<text x="681.4" y="205.6" font-size="8.6" font-weight="700">反击破</text>
<text x="666.2" y="214.5" font-size="7.9" stroke="#000" stroke-width="0.42" textLength="55.6" lengthAdjust="spacing">Impact crusher</text>
<text x="681.4" y="294.6" font-size="8.6" font-weight="700">反击破</text>
<text x="666.2" y="303.5" font-size="7.9" stroke="#000" stroke-width="0.42" textLength="55.6" lengthAdjust="spacing">Impact crusher</text>
<text x="681.4" y="373.6" font-size="8.6" font-weight="700">反击破</text>
<text x="666.2" y="382.5" font-size="7.9" stroke="#000" stroke-width="0.42" textLength="55.6" lengthAdjust="spacing">Impact crusher</text>
<text x="891.0" y="237.0" font-size="8.6" font-weight="700">振动筛</text>
<text x="873.9" y="248.0" font-size="7.9" stroke="#000" stroke-width="0.42" textLength="60.7" lengthAdjust="spacing">Vibrating screen</text>
<text x="848.2" y="338.2" font-size="8.6" font-weight="700">振动筛</text>
<text x="831.0" y="349.0" font-size="7.9" stroke="#000" stroke-width="0.42" textLength="60.7" lengthAdjust="spacing">Vibrating screen</text>
<text x="1073.4" y="237.4" font-size="8.6" font-weight="700">振动筛</text>
<text x="1056.0" y="247.5" font-size="7.9" stroke="#000" stroke-width="0.42" textLength="60.7" lengthAdjust="spacing">Vibrating screen</text>
<text x="1073.4" y="392.6" font-size="8.6" font-weight="700">振动筛</text>
<text x="1056.0" y="403.2" font-size="7.9" stroke="#000" stroke-width="0.42" textLength="60.7" lengthAdjust="spacing">Vibrating screen</text>
<text x="1206.2" y="265.4" font-size="8.6" font-weight="700">螺旋洗砂机</text>
<text x="1191.3" y="274.6" font-size="7.9" stroke="#000" stroke-width="0.42" textLength="71.4" lengthAdjust="spacing">Sprial sand washer</text>
<text x="1206.2" y="420.8" font-size="8.6" font-weight="700">螺旋洗砂机</text>
<text x="1191.3" y="430.5" font-size="7.9" stroke="#000" stroke-width="0.42" textLength="71.4" lengthAdjust="spacing">Sprial sand washer</text>
<text x="1300.0" y="141.1" font-size="8.7" font-weight="700" stroke="#000" stroke-width="0.3" textLength="36.3" lengthAdjust="spacing">20-40mm</text>
<text x="1300.5" y="166.7" font-size="8.7" font-weight="700" stroke="#000" stroke-width="0.3" textLength="36.3" lengthAdjust="spacing">10-20mm</text>
<text x="1302.3" y="198.0" font-size="8.7" font-weight="700" stroke="#000" stroke-width="0.3" textLength="31.6" lengthAdjust="spacing">5-10mm</text>
<text x="1302.3" y="256.5" font-size="8.7" font-weight="700" stroke="#000" stroke-width="0.3" textLength="27.0" lengthAdjust="spacing">0-5mm</text>
<text x="1305.1" y="303.9" font-size="8.7" font-weight="700" stroke="#000" stroke-width="0.3" textLength="36.3" lengthAdjust="spacing">20-40mm</text>
<text x="1305.6" y="331.0" font-size="8.7" font-weight="700" stroke="#000" stroke-width="0.3" textLength="36.3" lengthAdjust="spacing">10-20mm</text>
<text x="1306.6" y="360.6" font-size="8.7" font-weight="700" stroke="#000" stroke-width="0.3" textLength="31.6" lengthAdjust="spacing">5-10mm</text>
<text x="1306.6" y="409.4" font-size="8.7" font-weight="700" stroke="#000" stroke-width="0.3" textLength="27.0" lengthAdjust="spacing">0-5mm</text>
<text transform="translate(0 489.5) scale(1 0.87)" x="702.2 741.9 754.2 780.9 819.5 843.8 856.1 883.1 913.2" y="0" font-size="50" style="fill:#0a0a0a">wlswx.com</text>
<rect x="745.3" y="454" width="4.4" height="6" fill="#0a0a0a"/>
</g>
<g id="truck">
<path d="M90.6 204.1 A6.3 6.3 0 1 1 81.5 212.5" fill="none" stroke="#1f1f1f" stroke-width="0.7"/>
<path d="M129.2 205.0 A6.3 6.3 0 1 1 121.2 214.5" fill="none" stroke="#1f1f1f" stroke-width="0.7"/>
<path d="M61.0 208.3 L61.5 195.0 L70.5 183.6 L83.6 185.2 L83.6 204.5 L61.0 208.3" fill="#fff" stroke="#1f1f1f" stroke-width="0.75" />
<path d="M70.5 183.6 L75.0 180.8 L90.5 181.3 L83.6 185.2" fill="#fff" stroke="#1f1f1f" stroke-width="0.75" />
<path d="M90.5 181.3 L91.0 191.5" fill="none" stroke="#1f1f1f" stroke-width="0.75" />
<path d="M69.6 191.0 L73.0 188.4 L78.6 189.0 L78.2 197.0 L69.6 197.0 Z" fill="none" stroke="#1f1f1f" stroke-width="0.75" />
<path d="M62.5 195.5 L62.2 207.5" fill="none" stroke="#1f1f1f" stroke-width="0.5" />
<path d="M84.6 193.2 L91.6 191.2 L92.0 198.0 L85.2 200.0 Z" fill="#fff" stroke="#1f1f1f" stroke-width="0.75" />
<path d="M84.0 200.0 L108.0 197.5 L126.5 205.5" fill="none" stroke="#1f1f1f" stroke-width="0.75" />
<path d="M83.6 204.5 L121.0 208.2" fill="none" stroke="#1f1f1f" stroke-width="0.75" />
<path d="M86.0 200.2 L108.0 197.8 L121.0 203.8 Z" fill="#2a2a2a" stroke="#1f1f1f" stroke-width="0.5" />
<path d="M96.0 201.0 L105.0 198.5 L110.0 201.5 Z" fill="#ddd" stroke="none" stroke-width="0" />
<path d="M97.6 166.6 L105.2 163.4 L145.6 190.0 L139.2 193.4 L97.6 166.6" fill="#fff" stroke="#1f1f1f" stroke-width="0.75" />
<path d="M97.6 166.6 L91.0 182.0 L91.0 185.2 L123.5 206.4 L129.5 207.4 L139.2 193.4 L97.6 166.6" fill="#fff" stroke="#1f1f1f" stroke-width="0.75" />
<path d="M99.0 168.2 L103.5 170.8 L105.2 163.4" fill="none" stroke="#1f1f1f" stroke-width="0.5" />
<path d="M139.2 193.4 L145.6 190.0 L146.2 204.2 L139.4 207.0 L139.2 193.4" fill="#fff" stroke="#1f1f1f" stroke-width="0.75" />
<path d="M139.2 193.4 L133.5 206.5 L138.0 206.0" fill="none" stroke="#1f1f1f" stroke-width="0.6" />
<path d="M125.5 204.5 L128.0 212.5 L130.0 210.0" fill="none" stroke="#1f1f1f" stroke-width="0.9" />
<circle cx="76.0" cy="211.2" r="6.9" fill="#fff" stroke="#1f1f1f" stroke-width="0.75"/>
<circle cx="76.0" cy="211.2" r="3.4" fill="none" stroke="#1f1f1f" stroke-width="0.6"/>
<circle cx="76.0" cy="211.2" r="1.2" fill="none" stroke="#1f1f1f" stroke-width="0.6"/>
<circle cx="115.6" cy="213.4" r="7" fill="#fff" stroke="#1f1f1f" stroke-width="0.75"/>
<circle cx="115.6" cy="213.4" r="3.5" fill="none" stroke="#1f1f1f" stroke-width="0.6"/>
<circle cx="115.6" cy="213.4" r="1.3" fill="none" stroke="#1f1f1f" stroke-width="0.6"/>
<path d="M84.5 209.0 L87.5 206.5 L86.0 211.5 Z" fill="#555" stroke="#1f1f1f" stroke-width="0.4" />
</g>
<g id="hopper">
<path d="M172.0 193.0 L209.6 193.0 L217.6 201.5 L180.0 201.5 Z" fill="none" stroke="#1f1f1f" stroke-width="0.75" />
<path d="M180.0 201.5 L193.0 221.6 L204.6 221.6 L217.6 201.5" fill="none" stroke="#1f1f1f" stroke-width="0.75" />
<path d="M172.0 193.0 L192.2 221.0" fill="none" stroke="#1f1f1f" stroke-width="0.75" />
</g>
<g id="feeder1">
<path d="M176.0 227.6 L192.0 223.0 L240.0 247.2 L240.3 252.0" fill="none" stroke="#1f1f1f" stroke-width="0.75" />
<path d="M176.0 227.6 L176.0 234.6 L212.0 254.0 L213.0 247.6 L176.0 227.6" fill="none" stroke="#1f1f1f" stroke-width="0.75" />
<path d="M192.0 223.0 L192.0 228.0 L178.0 231.5" fill="none" stroke="#1f1f1f" stroke-width="0.55" />
<path d="M192.0 228.0 L237.0 250.5" fill="none" stroke="#1f1f1f" stroke-width="0.6" />
<path d="M180.0 229.2 L215.0 247.0" fill="none" stroke="#1f1f1f" stroke-width="0.5" />
<path d="M177.0 236.0 L210.0 254.5" fill="none" stroke="#1f1f1f" stroke-width="0.5" />
<path d="M213.0 247.6 L221.5 243.6 L238.5 252.0 L236.5 254.5 L229.0 256.5 L222.0 251.0 L216.0 252.5 Z" fill="#1c1c1c" stroke="#1f1f1f" stroke-width="0.4" />
<path d="M216.5 251.5 L222.0 249.5 L224.0 257.0 L219.0 258.5 Z" fill="#fff" stroke="#1f1f1f" stroke-width="0.5" />
<path d="M224.0 257.0 L234.5 254.5 L240.3 252.0" fill="none" stroke="#1f1f1f" stroke-width="0.7" />
<path d="M219.0 258.5 L224.5 259.8 L235.0 256.5" fill="none" stroke="#1f1f1f" stroke-width="0.6" />
<path d="M180.5 238.0 L181.5 241.5" fill="none" stroke="#1f1f1f" stroke-width="1.3" />
<path d="M178.5 241.5 L183.5 242.2" fill="none" stroke="#1f1f1f" stroke-width="0.8" />
<path d="M212.6 250.0 L213.4 259.5" fill="none" stroke="#1f1f1f" stroke-width="2.2" />
<path d="M209.5 259.5 L217.5 261.3" fill="none" stroke="#1f1f1f" stroke-width="1.3" />
<path d="M183.0 243.0 L190.0 250.0 L205.0 252.5 L211.0 249.0" fill="none" stroke="#1f1f1f" stroke-width="0.45" />
<path d="M189.5 245.0 L196.5 247.6 L196.3 251.6 L189.0 249.4 Z" fill="#fff" stroke="#1f1f1f" stroke-width="0.6" />
<ellipse cx="188.4" cy="247.2" rx="1.5" ry="2.1" fill="none" stroke="#1f1f1f" stroke-width="1.0"/>
</g>
<g id="jaw">
<circle cx="341.5" cy="218.5" r="17.3" fill="none" stroke="#1f1f1f" stroke-width="0.8"/>
<circle cx="341.5" cy="218.5" r="15.3" fill="none" stroke="#1f1f1f" stroke-width="0.6"/>
<circle cx="341.5" cy="218.5" r="13.2" fill="none" stroke="#1f1f1f" stroke-width="0.5"/>
<path d="M331.0 226.0 L341.0 214.0 L352.0 206.0" fill="none" stroke="#1f1f1f" stroke-width="0.6" />
<path d="M330.0 215.0 L339.0 221.0" fill="none" stroke="#1f1f1f" stroke-width="0.6" />
<ellipse cx="345.5" cy="222.0" rx="5.5" ry="7.5" fill="#fff" stroke="#1f1f1f" stroke-width="0.8" transform="rotate(15 345.5 222.0)"/>
<ellipse cx="347.0" cy="222.0" rx="3" ry="5" fill="none" stroke="#1f1f1f" stroke-width="1.2" transform="rotate(15 347.0 222.0)"/>
<path d="M310.0 228.2 L338.5 224.5 L352.0 227.5 L352.0 233.0 L380.0 256.0 L380.0 270.0 L332.0 276.5 L316.6 269.0 L310.0 228.2" fill="#fff" stroke="#1f1f1f" stroke-width="0.75" />
<path d="M310.0 228.2 L324.5 233.2 L352.0 229.5" fill="none" stroke="#1f1f1f" stroke-width="0.75" />
<path d="M311.5 229.8 L313.0 232.0 L323.4 235.6" fill="none" stroke="#1f1f1f" stroke-width="0.6" />
<path d="M313.0 232.0 L319.0 268.8" fill="none" stroke="#1f1f1f" stroke-width="0.6" />
<path d="M324.5 233.2 L332.0 276.5" fill="none" stroke="#1f1f1f" stroke-width="0.75" />
<path d="M334.5 232.0 L341.0 275.2" fill="none" stroke="#1f1f1f" stroke-width="0.75" />
<path d="M316.6 269.0 L313.8 270.6 L330.5 278.2 L380.6 271.2" fill="none" stroke="#6a6a6a" stroke-width="1.5" />
<circle cx="328.8" cy="236.5" r="1.05" fill="#111" stroke="none" stroke-width="0"/>
<circle cx="329.6" cy="243.0" r="1.05" fill="#111" stroke="none" stroke-width="0"/>
<circle cx="330.5" cy="249.2" r="1.05" fill="#111" stroke="none" stroke-width="0"/>
<circle cx="331.4" cy="255.5" r="1.05" fill="#111" stroke="none" stroke-width="0"/>
<circle cx="332.6" cy="262.0" r="1.05" fill="#111" stroke="none" stroke-width="0"/>
<circle cx="333.6" cy="268.4" r="1.05" fill="#111" stroke="none" stroke-width="0"/>
<circle cx="337.0" cy="235.5" r="0.95" fill="#111" stroke="none" stroke-width="0"/>
<circle cx="339.3" cy="249.2" r="0.95" fill="#111" stroke="none" stroke-width="0"/>
<circle cx="346.0" cy="248.5" r="0.95" fill="#111" stroke="none" stroke-width="0"/>
<circle cx="340.3" cy="255.5" r="0.95" fill="#111" stroke="none" stroke-width="0"/>
<circle cx="345.0" cy="255.0" r="0.95" fill="#111" stroke="none" stroke-width="0"/>
<circle cx="343.0" cy="270.8" r="0.95" fill="#111" stroke="none" stroke-width="0"/>
<circle cx="315.0" cy="232.0" r="0.55" fill="#111" stroke="none" stroke-width="0"/>
<circle cx="317.2" cy="232.7" r="0.55" fill="#111" stroke="none" stroke-width="0"/>
<circle cx="319.4" cy="233.4" r="0.55" fill="#111" stroke="none" stroke-width="0"/>
<circle cx="321.6" cy="234.1" r="0.55" fill="#111" stroke="none" stroke-width="0"/>
<ellipse cx="362.3" cy="229.0" rx="17.8" ry="20.2" fill="#111" stroke="#111" stroke-width="0.6" transform="rotate(10 362.3 229.0)"/>
<ellipse cx="364.6" cy="228.4" rx="16.3" ry="19.2" fill="#fff" stroke="#1f1f1f" stroke-width="0.7" transform="rotate(10 364.6 228.4)"/>
<ellipse cx="364.9" cy="228.4" rx="13.6" ry="16.4" fill="none" stroke="none" stroke-width="0.0" transform="rotate(10 364.9 228.4)"/>
<circle cx="364.2" cy="229.0" r="4.2" fill="none" stroke="#1f1f1f" stroke-width="1.6"/>
<circle cx="364.2" cy="229.0" r="1.9" fill="none" stroke="#1f1f1f" stroke-width="0.5"/>
<path d="M362.9 229.0 L365.5 229.0" stroke="#1f1f1f" stroke-width="0.5" fill="none"/>
<path d="M364.2 227.7 L364.2 230.3" stroke="#1f1f1f" stroke-width="0.5" fill="none"/>
<path d="M352.4 226.2 Q350.6 233 354.6 240.6 L358.6 236.4 Q357 231 358.4 226.4 Z" fill="#555" stroke="#1f1f1f" stroke-width="0.7"/>
<path d="M353.0 229.0 L357.6 235.4" stroke="#1f1f1f" stroke-width="0.5" fill="none"/>
<path d="M353.6 233.6 L357.4 229.2" stroke="#1f1f1f" stroke-width="0.5" fill="none"/>
<path d="M369.6 217.6 Q374.2 219.6 376 230.4 L370.6 229.4 Q370.2 225.2 367.6 222.6 Z" fill="#fff" stroke="#1f1f1f" stroke-width="0.7"/>
<path d="M359.8 242.2 Q366 246 373 238.6 L369.4 235 Q365.6 236.6 362.2 235.2 Z" fill="#fff" stroke="#1f1f1f" stroke-width="0.7"/>
<circle cx="351.5" cy="227.0" r="0.5" fill="#111" stroke="none" stroke-width="0"/>
<circle cx="352.1" cy="223.3" r="0.5" fill="#111" stroke="none" stroke-width="0"/>
<circle cx="353.3" cy="220.0" r="0.5" fill="#111" stroke="none" stroke-width="0"/>
<circle cx="355.2" cy="217.0" r="0.5" fill="#111" stroke="none" stroke-width="0"/>
<circle cx="357.5" cy="214.6" r="0.5" fill="#111" stroke="none" stroke-width="0"/>
<circle cx="360.2" cy="213.0" r="0.5" fill="#111" stroke="none" stroke-width="0"/>
<circle cx="363.2" cy="212.1" r="0.5" fill="#111" stroke="none" stroke-width="0"/>
<circle cx="366.2" cy="212.1" r="0.5" fill="#111" stroke="none" stroke-width="0"/>
<circle cx="369.2" cy="212.9" r="0.5" fill="#111" stroke="none" stroke-width="0"/>
<circle cx="371.9" cy="214.5" r="0.5" fill="#111" stroke="none" stroke-width="0"/>
<circle cx="374.3" cy="216.8" r="0.5" fill="#111" stroke="none" stroke-width="0"/>
<circle cx="376.2" cy="219.7" r="0.5" fill="#111" stroke="none" stroke-width="0"/>
<circle cx="377.5" cy="223.1" r="0.5" fill="#111" stroke="none" stroke-width="0"/>
<circle cx="378.1" cy="226.7" r="0.5" fill="#111" stroke="none" stroke-width="0"/>
<g transform="rotate(-38 369.5 253)"><rect x="362.6" y="248" width="14" height="10" rx="1.6" fill="#fff" stroke="#1f1f1f" stroke-width="0.8"/><rect x="365" y="249.4" width="5.5" height="7.2" fill="#333"/><path d="M371.5 249 V257 M373.5 249 V257" stroke="#1f1f1f" stroke-width="0.6"/></g>
<path d="M376.0 241.5 L380.5 246.0 L377.0 252.0" fill="none" stroke="#1f1f1f" stroke-width="0.7" />
<rect x="378" y="258.8" width="3" height="8.4" fill="#fff" stroke="#1f1f1f" stroke-width="0.7"/>
<path d="M378.8 254.0 L379.0 258.8" fill="none" stroke="#1f1f1f" stroke-width="0.7" />
</g>
<g id="pile">
<clipPath id="pileclip"><path d="M482.5 214.8 L462 250 A20.6 6.6 0 0 0 503.4 250 Z"/></clipPath>
<path d="M482.5 214.8 L462 250 A20.6 6.6 0 0 0 503.4 250 Z" fill="#4a4a4a" stroke="#1f1f1f" stroke-width="0.8" stroke-linejoin="round"/>
<g clip-path="url(#pileclip)" fill="#fff" stroke="#1a1a1a" stroke-width="0.35"><ellipse cx="478.76" cy="218.60" rx="1.78" ry="2.06"/><ellipse cx="482.50" cy="218.60" rx="1.78" ry="2.06"/><ellipse cx="486.24" cy="218.60" rx="1.78" ry="2.06"/><ellipse cx="476.89" cy="222.70" rx="1.78" ry="2.06"/><ellipse cx="480.63" cy="222.70" rx="1.78" ry="2.06"/><ellipse cx="484.37" cy="222.70" rx="1.78" ry="2.06"/><ellipse cx="488.11" cy="222.70" rx="1.78" ry="2.06"/><ellipse cx="475.02" cy="226.80" rx="1.78" ry="2.06"/><ellipse cx="478.76" cy="226.80" rx="1.78" ry="2.06"/><ellipse cx="482.50" cy="226.80" rx="1.78" ry="2.06"/><ellipse cx="486.24" cy="226.80" rx="1.78" ry="2.06"/><ellipse cx="489.98" cy="226.80" rx="1.78" ry="2.06"/><ellipse cx="473.15" cy="230.90" rx="1.78" ry="2.06"/><ellipse cx="476.89" cy="230.90" rx="1.78" ry="2.06"/><ellipse cx="480.63" cy="230.90" rx="1.78" ry="2.06"/><ellipse cx="484.37" cy="230.90" rx="1.78" ry="2.06"/><ellipse cx="488.11" cy="230.90" rx="1.78" ry="2.06"/><ellipse cx="491.85" cy="230.90" rx="1.78" ry="2.06"/><ellipse cx="471.28" cy="235.00" rx="1.78" ry="2.06"/><ellipse cx="475.02" cy="235.00" rx="1.78" ry="2.06"/><ellipse cx="478.76" cy="235.00" rx="1.78" ry="2.06"/><ellipse cx="482.50" cy="235.00" rx="1.78" ry="2.06"/><ellipse cx="486.24" cy="235.00" rx="1.78" ry="2.06"/><ellipse cx="489.98" cy="235.00" rx="1.78" ry="2.06"/><ellipse cx="493.72" cy="235.00" rx="1.78" ry="2.06"/><ellipse cx="465.67" cy="239.10" rx="1.78" ry="2.06"/><ellipse cx="469.41" cy="239.10" rx="1.78" ry="2.06"/><ellipse cx="473.15" cy="239.10" rx="1.78" ry="2.06"/><ellipse cx="476.89" cy="239.10" rx="1.78" ry="2.06"/><ellipse cx="480.63" cy="239.10" rx="1.78" ry="2.06"/><ellipse cx="484.37" cy="239.10" rx="1.78" ry="2.06"/><ellipse cx="488.11" cy="239.10" rx="1.78" ry="2.06"/><ellipse cx="491.85" cy="239.10" rx="1.78" ry="2.06"/><ellipse cx="495.59" cy="239.10" rx="1.78" ry="2.06"/><ellipse cx="499.33" cy="239.10" rx="1.78" ry="2.06"/><ellipse cx="463.80" cy="243.20" rx="1.78" ry="2.06"/><ellipse cx="467.54" cy="243.20" rx="1.78" ry="2.06"/><ellipse cx="471.28" cy="243.20" rx="1.78" ry="2.06"/><ellipse cx="475.02" cy="243.20" rx="1.78" ry="2.06"/><ellipse cx="478.76" cy="243.20" rx="1.78" ry="2.06"/><ellipse cx="482.50" cy="243.20" rx="1.78" ry="2.06"/><ellipse cx="486.24" cy="243.20" rx="1.78" ry="2.06"/><ellipse cx="489.98" cy="243.20" rx="1.78" ry="2.06"/><ellipse cx="493.72" cy="243.20" rx="1.78" ry="2.06"/><ellipse cx="497.46" cy="243.20" rx="1.78" ry="2.06"/><ellipse cx="501.20" cy="243.20" rx="1.78" ry="2.06"/><ellipse cx="461.93" cy="247.30" rx="1.78" ry="2.06"/><ellipse cx="465.67" cy="247.30" rx="1.78" ry="2.06"/><ellipse cx="469.41" cy="247.30" rx="1.78" ry="2.06"/><ellipse cx="473.15" cy="247.30" rx="1.78" ry="2.06"/><ellipse cx="476.89" cy="247.30" rx="1.78" ry="2.06"/><ellipse cx="480.63" cy="247.30" rx="1.78" ry="2.06"/><ellipse cx="484.37" cy="247.30" rx="1.78" ry="2.06"/><ellipse cx="488.11" cy="247.30" rx="1.78" ry="2.06"/><ellipse cx="491.85" cy="247.30" rx="1.78" ry="2.06"/><ellipse cx="495.59" cy="247.30" rx="1.78" ry="2.06"/><ellipse cx="499.33" cy="247.30" rx="1.78" ry="2.06"/><ellipse cx="503.07" cy="247.30" rx="1.78" ry="2.06"/><ellipse cx="460.06" cy="251.40" rx="1.78" ry="2.06"/><ellipse cx="463.80" cy="251.40" rx="1.78" ry="2.06"/><ellipse cx="467.54" cy="251.40" rx="1.78" ry="2.06"/><ellipse cx="471.28" cy="251.40" rx="1.78" ry="2.06"/><ellipse cx="475.02" cy="251.40" rx="1.78" ry="2.06"/><ellipse cx="478.76" cy="251.40" rx="1.78" ry="2.06"/><ellipse cx="482.50" cy="251.40" rx="1.78" ry="2.06"/><ellipse cx="486.24" cy="251.40" rx="1.78" ry="2.06"/><ellipse cx="489.98" cy="251.40" rx="1.78" ry="2.06"/><ellipse cx="493.72" cy="251.40" rx="1.78" ry="2.06"/><ellipse cx="497.46" cy="251.40" rx="1.78" ry="2.06"/><ellipse cx="501.20" cy="251.40" rx="1.78" ry="2.06"/><ellipse cx="504.94" cy="251.40" rx="1.78" ry="2.06"/><ellipse cx="458.19" cy="255.50" rx="1.78" ry="2.06"/><ellipse cx="461.93" cy="255.50" rx="1.78" ry="2.06"/><ellipse cx="465.67" cy="255.50" rx="1.78" ry="2.06"/><ellipse cx="469.41" cy="255.50" rx="1.78" ry="2.06"/><ellipse cx="473.15" cy="255.50" rx="1.78" ry="2.06"/><ellipse cx="476.89" cy="255.50" rx="1.78" ry="2.06"/><ellipse cx="480.63" cy="255.50" rx="1.78" ry="2.06"/><ellipse cx="484.37" cy="255.50" rx="1.78" ry="2.06"/><ellipse cx="488.11" cy="255.50" rx="1.78" ry="2.06"/><ellipse cx="491.85" cy="255.50" rx="1.78" ry="2.06"/><ellipse cx="495.59" cy="255.50" rx="1.78" ry="2.06"/><ellipse cx="499.33" cy="255.50" rx="1.78" ry="2.06"/><ellipse cx="503.07" cy="255.50" rx="1.78" ry="2.06"/><ellipse cx="506.81" cy="255.50" rx="1.78" ry="2.06"/></g>
<path d="M467.5 240.8 Q482.5 245 497.5 240.8" fill="none" stroke="#1f1f1f" stroke-width="0.7"/>
</g>
<g transform="translate(460 258)"><path d="M1.0 8.0 L7.0 4.5 L20.0 12.0 L20.0 15.2 L14.0 18.2 L1.0 11.0 Z" fill="#fff" stroke="#1f1f1f" stroke-width="0.75" /><path d="M1.0 8.0 L14.0 15.0 L20.0 12.0" fill="none" stroke="#1f1f1f" stroke-width="0.65" /><path d="M14.0 15.0 L14.0 18.2" fill="none" stroke="#1f1f1f" stroke-width="0.65" /><path d="M3.4 8.4 L8.2 5.9 L18.0 11.6" fill="none" stroke="#1f1f1f" stroke-width="0.5" /><path d="M1.2 9.6 L14.0 16.6 L19.8 13.6" fill="none" stroke="#444" stroke-width="0.45" /><path d="M7.0 4.5 L7.2 7.0" fill="none" stroke="#1f1f1f" stroke-width="0.5" /><path d="M8.6 9.4 L12.2 7.6" fill="none" stroke="#1f1f1f" stroke-width="0.5" /><path d="M8.6 12.2 L8.6 9.4" fill="none" stroke="#1f1f1f" stroke-width="0.5" /><path d="M5.6 -1.8 L5.9 3.8" stroke="#1f1f1f" stroke-width="1.9" fill="none"/><path d="M0.6 0.6 L0.9 12.5" stroke="#1f1f1f" stroke-width="0.8" fill="none"/><path d="M1.3 8.6 L1.8 14.4" stroke="#1f1f1f" stroke-width="1.9" fill="none"/><path d="M17.3 3.0 L17.1 9.2" stroke="#1f1f1f" stroke-width="0.8" fill="none"/><path d="M17.2 5.6 L17.2 9.8" stroke="#1f1f1f" stroke-width="1.7" fill="none"/><path d="M10.2 8.0 L10.5 15.8" stroke="#1f1f1f" stroke-width="1.9" fill="none"/></g>
<g transform="translate(483 258.6)"><path d="M1.0 8.0 L7.0 4.5 L20.0 12.0 L20.0 15.2 L14.0 18.2 L1.0 11.0 Z" fill="#fff" stroke="#1f1f1f" stroke-width="0.75" /><path d="M1.0 8.0 L14.0 15.0 L20.0 12.0" fill="none" stroke="#1f1f1f" stroke-width="0.65" /><path d="M14.0 15.0 L14.0 18.2" fill="none" stroke="#1f1f1f" stroke-width="0.65" /><path d="M3.4 8.4 L8.2 5.9 L18.0 11.6" fill="none" stroke="#1f1f1f" stroke-width="0.5" /><path d="M1.2 9.6 L14.0 16.6 L19.8 13.6" fill="none" stroke="#444" stroke-width="0.45" /><path d="M7.0 4.5 L7.2 7.0" fill="none" stroke="#1f1f1f" stroke-width="0.5" /><path d="M8.6 9.4 L12.2 7.6" fill="none" stroke="#1f1f1f" stroke-width="0.5" /><path d="M8.6 12.2 L8.6 9.4" fill="none" stroke="#1f1f1f" stroke-width="0.5" /><path d="M5.6 -1.8 L5.9 3.8" stroke="#1f1f1f" stroke-width="1.9" fill="none"/><path d="M0.6 0.6 L0.9 12.5" stroke="#1f1f1f" stroke-width="0.8" fill="none"/><path d="M1.3 8.6 L1.8 14.4" stroke="#1f1f1f" stroke-width="1.9" fill="none"/><path d="M17.3 3.0 L17.1 9.2" stroke="#1f1f1f" stroke-width="0.8" fill="none"/><path d="M17.2 5.6 L17.2 9.8" stroke="#1f1f1f" stroke-width="1.7" fill="none"/><path d="M10.2 8.0 L10.5 15.8" stroke="#1f1f1f" stroke-width="1.9" fill="none"/></g>
<g><path d="M641.2 122.0 L654.6 128.2 L651.8 160.4 L641.6 163.0 Z" fill="#fff" stroke="#1f1f1f" stroke-width="0.8" /><path d="M622.0 153.6 L641.6 149.0 L651.8 160.4 L625.6 165.8 Z" fill="#ececec" stroke="#1f1f1f" stroke-width="0.7" /><path d="M594.0 152.6 L604.4 148.6 L624.0 156.2 L624.6 165.6 L613.0 163.4 L594.0 156.0 Z" fill="#fff" stroke="#1f1f1f" stroke-width="0.8" /><path d="M601.6 130.6 L622.0 138.2 L622.0 153.6 L603.2 147.4 Z" fill="#fff" stroke="#1f1f1f" stroke-width="0.8" /><path d="M622.0 138.2 L641.2 122.0 L641.6 149.0 L622.0 153.6 Z" fill="#fff" stroke="#1f1f1f" stroke-width="0.8" /><path d="M604.0 126.4 L621.3 115.0 L641.2 122.0 L622.0 138.2 L601.6 130.6 Z" fill="#f0f0f0" stroke="#1f1f1f" stroke-width="0.9" /><path d="M604.0 126.4 L621.3 115.0 L641.2 122.0 L654.6 128.2" fill="none" stroke="#1f1f1f" stroke-width="1.1" /><path d="M619.2 128.3 L621.2 129.0" stroke="#222" stroke-width="1.0" fill="none"/><path d="M609.0 127.3 L609.9 129.5" stroke="#222" stroke-width="0.6" fill="none"/><path d="M619.0 119.1 L620.0 121.7" stroke="#555" stroke-width="1.0" fill="none"/><path d="M625.4 119.5 L627.8 117.9" stroke="#222" stroke-width="0.6" fill="none"/><path d="M624.8 133.1 L626.8 133.8" stroke="#555" stroke-width="0.6" fill="none"/><path d="M610.9 122.5 L613.0 121.1" stroke="#555" stroke-width="0.8" fill="none"/><path d="M628.9 122.9 L630.8 121.7" stroke="#222" stroke-width="0.6" fill="none"/><path d="M623.4 118.4 L625.8 116.8" stroke="#222" stroke-width="0.8" fill="none"/><path d="M604.8 129.8 L605.4 131.5" stroke="#333" stroke-width="0.6" fill="none"/><path d="M630.8 118.6 L633.0 117.2" stroke="#222" stroke-width="0.6" fill="none"/><path d="M619.7 126.7 L620.5 128.9" stroke="#555" stroke-width="0.8" fill="none"/><path d="M609.2 132.1 L611.0 131.0" stroke="#222" stroke-width="0.8" fill="none"/><path d="M624.9 128.7 L627.5 127.0" stroke="#333" stroke-width="0.6" fill="none"/><path d="M611.8 133.0 L614.5 133.9" stroke="#222" stroke-width="0.8" fill="none"/><path d="M616.0 129.7 L618.6 128.0" stroke="#555" stroke-width="0.8" fill="none"/><path d="M607.2 124.5 L607.7 125.9" stroke="#555" stroke-width="0.6" fill="none"/><path d="M618.0 118.3 L619.9 117.1" stroke="#222" stroke-width="0.8" fill="none"/><path d="M630.1 124.6 L632.8 125.5" stroke="#333" stroke-width="1.0" fill="none"/><path d="M610.7 128.3 L611.6 130.6" stroke="#222" stroke-width="0.8" fill="none"/><path d="M636.9 120.5 L638.0 119.8" stroke="#333" stroke-width="0.8" fill="none"/><path d="M612.7 127.7 L613.9 126.9" stroke="#333" stroke-width="0.6" fill="none"/><path d="M628.3 128.9 L630.3 127.6" stroke="#333" stroke-width="0.6" fill="none"/><path d="M626.2 126.6 L626.8 128.3" stroke="#222" stroke-width="0.6" fill="none"/><path d="M604.9 128.0 L605.3 129.2" stroke="#555" stroke-width="1.0" fill="none"/><path d="M636.8 123.7 L637.5 125.7" stroke="#333" stroke-width="0.6" fill="none"/><path d="M621.0 116.3 L621.7 118.2" stroke="#222" stroke-width="1.0" fill="none"/><path d="M625.1 117.8 L625.7 119.1" stroke="#333" stroke-width="0.8" fill="none"/><path d="M629.7 124.5 L630.6 127.0" stroke="#333" stroke-width="0.8" fill="none"/><path d="M619.6 127.9 L620.6 130.4" stroke="#333" stroke-width="0.6" fill="none"/><path d="M624.8 126.6 L627.5 124.9" stroke="#333" stroke-width="0.6" fill="none"/><path d="M620.5 135.7 L622.2 136.3" stroke="#555" stroke-width="1.0" fill="none"/><path d="M618.8 135.6 L620.7 136.3" stroke="#222" stroke-width="0.8" fill="none"/><path d="M626.1 133.7 L628.6 132.1" stroke="#222" stroke-width="0.8" fill="none"/><path d="M624.2 123.0 L625.4 122.2" stroke="#222" stroke-width="0.8" fill="none"/><path d="M619.1 122.1 L621.5 120.5" stroke="#555" stroke-width="0.8" fill="none"/><path d="M621.8 130.8 L622.8 133.5" stroke="#333" stroke-width="1.0" fill="none"/><path d="M614.2 134.2 L617.0 135.2" stroke="#555" stroke-width="0.6" fill="none"/><path d="M628.9 128.6 L631.3 129.4" stroke="#222" stroke-width="1.0" fill="none"/><path d="M626.4 124.9 L627.4 124.2" stroke="#222" stroke-width="0.8" fill="none"/><path d="M606.1 127.8 L607.2 130.4" stroke="#555" stroke-width="0.6" fill="none"/><path d="M611.7 131.7 L613.9 132.4" stroke="#222" stroke-width="0.6" fill="none"/><path d="M610.6 133.1 L611.5 135.5" stroke="#555" stroke-width="1.0" fill="none"/><path d="M625.3 132.6 L628.1 133.6" stroke="#222" stroke-width="1.0" fill="none"/><path d="M629.5 118.9 L631.0 119.4" stroke="#333" stroke-width="0.6" fill="none"/><path d="M622.9 130.4 L623.9 133.0" stroke="#333" stroke-width="0.8" fill="none"/><path d="M637.4 121.8 L638.5 124.5" stroke="#555" stroke-width="0.8" fill="none"/><path d="M605.1 125.7 L605.9 127.6" stroke="#333" stroke-width="0.8" fill="none"/><path d="M637.0 120.8 L638.7 119.7" stroke="#222" stroke-width="0.6" fill="none"/><path d="M622.3 131.1 L624.0 129.9" stroke="#555" stroke-width="1.0" fill="none"/><path d="M621.7 130.9 L624.6 131.9" stroke="#555" stroke-width="0.8" fill="none"/><path d="M610.4 127.6 L613.1 128.5" stroke="#555" stroke-width="1.0" fill="none"/><path d="M608.2 127.3 L608.9 128.9" stroke="#333" stroke-width="1.0" fill="none"/><path d="M625.2 122.7 L627.8 121.0" stroke="#333" stroke-width="1.0" fill="none"/><path d="M623.8 120.4 L624.3 121.8" stroke="#555" stroke-width="0.6" fill="none"/><path d="M616.3 127.8 L618.2 126.6" stroke="#555" stroke-width="0.8" fill="none"/><path d="M632.4 128.4 L633.8 128.8" stroke="#222" stroke-width="0.6" fill="none"/><path d="M617.4 121.4 L618.7 121.9" stroke="#333" stroke-width="0.8" fill="none"/><path d="M621.9 118.4 L624.3 119.2" stroke="#222" stroke-width="0.8" fill="none"/><path d="M629.5 121.4 L630.8 121.8" stroke="#555" stroke-width="1.0" fill="none"/><path d="M606.7 127.2 L609.2 128.1" stroke="#555" stroke-width="1.0" fill="none"/><path d="M608.9 125.7 L610.4 125.9" stroke="#1a1a1a" stroke-width="1.8" fill="none"/><path d="M611.4 127.8 L612.9 127.1" stroke="#444" stroke-width="1.2" fill="none"/><path d="M614.4 129.1 L615.6 129.2" stroke="#1a1a1a" stroke-width="1.5" fill="none"/><path d="M617.0 129.9 L618.8 129.2" stroke="#1a1a1a" stroke-width="1.2" fill="none"/><path d="M619.7 131.1 L621.4 130.4" stroke="#2a2a2a" stroke-width="1.2" fill="none"/><path d="M623.3 132.5 L625.0 131.7" stroke="#444" stroke-width="1.5" fill="none"/><path d="M626.1 133.4 L627.3 133.4" stroke="#1a1a1a" stroke-width="1.5" fill="none"/><path d="M606.6 129.5 L607.9 129.9" stroke="#1a1a1a" stroke-width="1.2" fill="none"/><path d="M609.3 130.2 L611.0 130.1" stroke="#2a2a2a" stroke-width="1.8" fill="none"/><path d="M611.8 131.6 L613.0 131.8" stroke="#444" stroke-width="1.5" fill="none"/><path d="M614.7 132.8 L616.6 132.4" stroke="#2a2a2a" stroke-width="1.2" fill="none"/><path d="M617.9 134.4 L619.2 133.7" stroke="#1a1a1a" stroke-width="1.5" fill="none"/><path d="M621.0 135.3 L622.2 134.9" stroke="#444" stroke-width="1.5" fill="none"/><path d="M611.7 122.2 L613.4 121.6" stroke="#444" stroke-width="1.2" fill="none"/><path d="M614.9 124.3 L616.7 124.1" stroke="#444" stroke-width="1.2" fill="none"/><path d="M617.5 125.0 L619.2 124.4" stroke="#444" stroke-width="1.2" fill="none"/><path d="M620.5 126.1 L622.4 125.3" stroke="#444" stroke-width="1.5" fill="none"/><path d="M623.4 128.0 L625.1 127.6" stroke="#1a1a1a" stroke-width="1.8" fill="none"/><path d="M625.7 128.8 L627.1 127.9" stroke="#444" stroke-width="1.5" fill="none"/><path d="M629.4 129.8 L630.6 130.2" stroke="#2a2a2a" stroke-width="1.5" fill="none"/><circle cx="605.4" cy="126.6" r="0.5" fill="#222" stroke="none" stroke-width="0"/><circle cx="623.0" cy="117.0" r="0.5" fill="#222" stroke="none" stroke-width="0"/><circle cx="607.3" cy="125.3" r="0.5" fill="#222" stroke="none" stroke-width="0"/><circle cx="625.1" cy="117.8" r="0.5" fill="#222" stroke="none" stroke-width="0"/><circle cx="609.2" cy="124.0" r="0.5" fill="#222" stroke="none" stroke-width="0"/><circle cx="627.2" cy="118.5" r="0.5" fill="#222" stroke="none" stroke-width="0"/><circle cx="611.2" cy="122.8" r="0.5" fill="#222" stroke="none" stroke-width="0"/><circle cx="629.4" cy="119.2" r="0.5" fill="#222" stroke="none" stroke-width="0"/><circle cx="613.1" cy="121.5" r="0.5" fill="#222" stroke="none" stroke-width="0"/><circle cx="631.5" cy="120.0" r="0.5" fill="#222" stroke="none" stroke-width="0"/><circle cx="615.0" cy="120.2" r="0.5" fill="#222" stroke="none" stroke-width="0"/><circle cx="633.6" cy="120.8" r="0.5" fill="#222" stroke="none" stroke-width="0"/><circle cx="616.9" cy="118.9" r="0.5" fill="#222" stroke="none" stroke-width="0"/><circle cx="635.8" cy="121.5" r="0.5" fill="#222" stroke="none" stroke-width="0"/><circle cx="618.9" cy="117.7" r="0.5" fill="#222" stroke="none" stroke-width="0"/><circle cx="637.9" cy="122.2" r="0.5" fill="#222" stroke="none" stroke-width="0"/><circle cx="620.8" cy="116.4" r="0.5" fill="#222" stroke="none" stroke-width="0"/><circle cx="640.0" cy="123.0" r="0.5" fill="#222" stroke="none" stroke-width="0"/><path d="M606.0 129.5 L623.5 118.2 L638.5 123.4" fill="none" stroke="#1f1f1f" stroke-width="0.5" /><path d="M603.5 131.6 L622.3 139.4" fill="none" stroke="#1f1f1f" stroke-width="0.5" /><path d="M612.0 121.2 L631.0 128.6" fill="none" stroke="#1f1f1f" stroke-width="0.6" /><path d="M608.0 124.6 L626.5 132.8" fill="none" stroke="#1f1f1f" stroke-width="0.6" /><path d="M603.5 139.5 L621.0 146.2" fill="none" stroke="#1f1f1f" stroke-width="0.6" /><path d="M604.4 141.6 L620.4 147.6" fill="none" stroke="#555" stroke-width="1.3" /><circle cx="606.4" cy="144.1" r="0.7" fill="#222" stroke="none" stroke-width="0"/><circle cx="610.7" cy="145.7" r="0.7" fill="#222" stroke="none" stroke-width="0"/><circle cx="615.0" cy="147.2" r="0.7" fill="#222" stroke="none" stroke-width="0"/><circle cx="618.9" cy="148.7" r="0.7" fill="#222" stroke="none" stroke-width="0"/><circle cx="606.6" cy="134.7" r="0.55" fill="#333" stroke="none" stroke-width="0"/><circle cx="612.0" cy="136.7" r="0.55" fill="#333" stroke="none" stroke-width="0"/><circle cx="617.4" cy="138.7" r="0.55" fill="#333" stroke="none" stroke-width="0"/><circle cx="639.2" cy="127.0" r="0.55" fill="#222" stroke="none" stroke-width="0"/><circle cx="636.2" cy="130.0" r="0.5" fill="#333" stroke="none" stroke-width="0"/><circle cx="639.2" cy="130.1" r="0.55" fill="#222" stroke="none" stroke-width="0"/><circle cx="636.2" cy="133.0" r="0.5" fill="#333" stroke="none" stroke-width="0"/><circle cx="639.2" cy="133.2" r="0.55" fill="#222" stroke="none" stroke-width="0"/><circle cx="636.2" cy="136.0" r="0.5" fill="#333" stroke="none" stroke-width="0"/><circle cx="639.2" cy="136.3" r="0.55" fill="#222" stroke="none" stroke-width="0"/><circle cx="636.2" cy="139.0" r="0.5" fill="#333" stroke="none" stroke-width="0"/><circle cx="639.2" cy="139.4" r="0.55" fill="#222" stroke="none" stroke-width="0"/><circle cx="636.2" cy="142.0" r="0.5" fill="#333" stroke="none" stroke-width="0"/><circle cx="639.2" cy="142.5" r="0.55" fill="#222" stroke="none" stroke-width="0"/><circle cx="636.2" cy="145.0" r="0.5" fill="#333" stroke="none" stroke-width="0"/><circle cx="639.2" cy="145.6" r="0.55" fill="#222" stroke="none" stroke-width="0"/><path d="M627.6 138.4 L634.6 135.2 L635.0 142.2 L628.0 145.6 Z" fill="none" stroke="#1f1f1f" stroke-width="1.2" /><path d="M629.4 139.8 L633.2 138.0 L633.4 141.4 L629.6 143.2 Z" fill="#888" stroke="#1f1f1f" stroke-width="0.5" /><circle cx="626.2" cy="137.6" r="0.6" fill="#222" stroke="none" stroke-width="0"/><circle cx="636.4" cy="133.4" r="0.6" fill="#222" stroke="none" stroke-width="0"/><circle cx="626.6" cy="146.6" r="0.6" fill="#222" stroke="none" stroke-width="0"/><circle cx="636.8" cy="143.0" r="0.6" fill="#222" stroke="none" stroke-width="0"/><circle cx="624.0" cy="142.0" r="0.6" fill="#222" stroke="none" stroke-width="0"/><circle cx="631.0" cy="133.6" r="0.6" fill="#222" stroke="none" stroke-width="0"/><circle cx="631.6" cy="147.2" r="0.6" fill="#222" stroke="none" stroke-width="0"/><circle cx="625.0" cy="150.0" r="0.6" fill="#222" stroke="none" stroke-width="0"/><circle cx="644.6" cy="127.6" r="0.55" fill="#222" stroke="none" stroke-width="0"/><circle cx="648.6" cy="129.8" r="0.5" fill="#333" stroke="none" stroke-width="0"/><circle cx="644.6" cy="131.0" r="0.55" fill="#222" stroke="none" stroke-width="0"/><circle cx="648.6" cy="133.1" r="0.5" fill="#333" stroke="none" stroke-width="0"/><circle cx="644.6" cy="134.4" r="0.55" fill="#222" stroke="none" stroke-width="0"/><circle cx="648.6" cy="136.4" r="0.5" fill="#333" stroke="none" stroke-width="0"/><circle cx="644.6" cy="137.8" r="0.55" fill="#222" stroke="none" stroke-width="0"/><circle cx="648.6" cy="139.7" r="0.5" fill="#333" stroke="none" stroke-width="0"/><circle cx="644.6" cy="141.2" r="0.55" fill="#222" stroke="none" stroke-width="0"/><circle cx="648.6" cy="143.0" r="0.5" fill="#333" stroke="none" stroke-width="0"/><circle cx="644.6" cy="144.6" r="0.55" fill="#222" stroke="none" stroke-width="0"/><circle cx="648.6" cy="146.3" r="0.5" fill="#333" stroke="none" stroke-width="0"/><path d="M642.0 124.4 L653.6 129.8" fill="none" stroke="#1f1f1f" stroke-width="0.5" /><path d="M652.4 129.4 L650.6 150.0" fill="none" stroke="#1f1f1f" stroke-width="0.5" /><path d="M643.0 123.6 L644.2 126.4" stroke="#1f1f1f" stroke-width="0.6" fill="none"/><path d="M645.4 124.7 L646.6 127.5" stroke="#1f1f1f" stroke-width="0.6" fill="none"/><path d="M647.8 125.8 L649.0 128.6" stroke="#1f1f1f" stroke-width="0.6" fill="none"/><path d="M650.2 126.9 L651.4 129.7" stroke="#1f1f1f" stroke-width="0.6" fill="none"/><path d="M652.6 128.0 L653.8 130.8" stroke="#1f1f1f" stroke-width="0.6" fill="none"/><ellipse cx="641.8" cy="152.0" rx="6.9" ry="9.2" fill="#161616" stroke="#161616" stroke-width="0.8" transform="rotate(8 641.8 152.0)"/><ellipse cx="643.6" cy="152.0" rx="5.4" ry="8.0" fill="#ddd" stroke="#1f1f1f" stroke-width="0.7" transform="rotate(8 643.6 152.0)"/><ellipse cx="643.9" cy="152.2" rx="3.4" ry="5.2" fill="none" stroke="#1f1f1f" stroke-width="1.0" transform="rotate(8 643.9 152.2)"/><ellipse cx="644.0" cy="152.4" rx="1.4" ry="2.1" fill="#777" stroke="#1f1f1f" stroke-width="0.9" transform="rotate(8 644.0 152.4)"/><path d="M643.8 146.8 L644.0 157.6" stroke="#1f1f1f" stroke-width="0.6" fill="none"/><path d="M640.6 151.4 L647.2 153.2" stroke="#1f1f1f" stroke-width="0.6" fill="none"/><path d="M648.6 146.0 L650.6 150.0 L650.0 159.0" fill="none" stroke="#1f1f1f" stroke-width="0.8" /><path d="M625.2 154.6 L626.8 164.6" stroke="#222" stroke-width="0.9" fill="none"/><path d="M626.8 164.6 L628.1 157.0" stroke="#444" stroke-width="0.6" fill="none"/><path d="M627.9 154.2 L629.5 164.1" stroke="#222" stroke-width="0.9" fill="none"/><path d="M629.5 164.1 L630.8 156.6" stroke="#444" stroke-width="0.6" fill="none"/><path d="M630.6 153.7 L632.2 163.6" stroke="#222" stroke-width="0.9" fill="none"/><path d="M632.2 163.6 L633.5 156.1" stroke="#444" stroke-width="0.6" fill="none"/><path d="M633.3 153.2 L634.9 163.1" stroke="#222" stroke-width="0.9" fill="none"/><path d="M634.9 163.1 L636.2 155.7" stroke="#444" stroke-width="0.6" fill="none"/><path d="M636.0 152.8 L637.6 162.6" stroke="#222" stroke-width="0.9" fill="none"/><path d="M637.6 162.6 L638.9 155.2" stroke="#444" stroke-width="0.6" fill="none"/><path d="M638.7 152.3 L640.3 162.1" stroke="#222" stroke-width="0.9" fill="none"/><path d="M640.3 162.1 L641.6 154.8" stroke="#444" stroke-width="0.6" fill="none"/><path d="M622.4 158.6 L640.0 154.4" fill="none" stroke="#333" stroke-width="0.6" /><path d="M594.0 151.8 L603.4 148.2 L624.4 156.6 L615.0 160.4 Z" fill="#fff" stroke="#1f1f1f" stroke-width="0.7" /><path d="M594.0 151.8 L615.0 160.4 L615.4 164.2 L594.0 155.6 Z" fill="#4a4a4a" stroke="#1f1f1f" stroke-width="0.6" /><path d="M615.0 160.4 L624.4 156.6 L624.6 160.4 L615.4 164.2 Z" fill="#8a8a8a" stroke="#1f1f1f" stroke-width="0.6" /><path d="M597.2 150.6 L618.2 159.1" fill="none" stroke="#2a2a2a" stroke-width="1.0" /><path d="M600.3 149.4 L621.3 157.9" fill="none" stroke="#2a2a2a" stroke-width="1.0" /><path d="M599.2 154.0 L608.6 150.3" fill="none" stroke="#333" stroke-width="0.9" /><path d="M604.5 156.1 L613.9 152.4" fill="none" stroke="#333" stroke-width="0.9" /><path d="M609.8 158.2 L619.1 154.5" fill="none" stroke="#333" stroke-width="0.9" /><path d="M596.5 153.6 L596.6 156.0" fill="none" stroke="#ddd" stroke-width="0.9" /><path d="M601.8 155.8 L601.9 158.2" fill="none" stroke="#ddd" stroke-width="0.9" /><path d="M607.0 157.9 L607.1 160.3" fill="none" stroke="#ddd" stroke-width="0.9" /><path d="M612.3 160.1 L612.4 162.5" fill="none" stroke="#ddd" stroke-width="0.9" /><path d="M594.0 152.6 L594.0 156.0 L613.0 163.4 L624.6 165.6" fill="none" stroke="#1f1f1f" stroke-width="0.9" /><path d="M651.8 160.4 L641.6 163.0 L625.6 165.8" fill="none" stroke="#1f1f1f" stroke-width="0.9" /></g>
<g transform="translate(1248 67) scale(-1 1)"><path d="M641.2 122.0 L654.6 128.2 L651.8 160.4 L641.6 163.0 Z" fill="#fff" stroke="#1f1f1f" stroke-width="0.8" /><path d="M622.0 153.6 L641.6 149.0 L651.8 160.4 L625.6 165.8 Z" fill="#ececec" stroke="#1f1f1f" stroke-width="0.7" /><path d="M594.0 152.6 L604.4 148.6 L624.0 156.2 L624.6 165.6 L613.0 163.4 L594.0 156.0 Z" fill="#fff" stroke="#1f1f1f" stroke-width="0.8" /><path d="M601.6 130.6 L622.0 138.2 L622.0 153.6 L603.2 147.4 Z" fill="#fff" stroke="#1f1f1f" stroke-width="0.8" /><path d="M622.0 138.2 L641.2 122.0 L641.6 149.0 L622.0 153.6 Z" fill="#fff" stroke="#1f1f1f" stroke-width="0.8" /><path d="M604.0 126.4 L621.3 115.0 L641.2 122.0 L622.0 138.2 L601.6 130.6 Z" fill="#f0f0f0" stroke="#1f1f1f" stroke-width="0.9" /><path d="M604.0 126.4 L621.3 115.0 L641.2 122.0 L654.6 128.2" fill="none" stroke="#1f1f1f" stroke-width="1.1" /><path d="M619.2 128.3 L621.2 129.0" stroke="#222" stroke-width="1.0" fill="none"/><path d="M609.0 127.3 L609.9 129.5" stroke="#222" stroke-width="0.6" fill="none"/><path d="M619.0 119.1 L620.0 121.7" stroke="#555" stroke-width="1.0" fill="none"/><path d="M625.4 119.5 L627.8 117.9" stroke="#222" stroke-width="0.6" fill="none"/><path d="M624.8 133.1 L626.8 133.8" stroke="#555" stroke-width="0.6" fill="none"/><path d="M610.9 122.5 L613.0 121.1" stroke="#555" stroke-width="0.8" fill="none"/><path d="M628.9 122.9 L630.8 121.7" stroke="#222" stroke-width="0.6" fill="none"/><path d="M623.4 118.4 L625.8 116.8" stroke="#222" stroke-width="0.8" fill="none"/><path d="M604.8 129.8 L605.4 131.5" stroke="#333" stroke-width="0.6" fill="none"/><path d="M630.8 118.6 L633.0 117.2" stroke="#222" stroke-width="0.6" fill="none"/><path d="M619.7 126.7 L620.5 128.9" stroke="#555" stroke-width="0.8" fill="none"/><path d="M609.2 132.1 L611.0 131.0" stroke="#222" stroke-width="0.8" fill="none"/><path d="M624.9 128.7 L627.5 127.0" stroke="#333" stroke-width="0.6" fill="none"/><path d="M611.8 133.0 L614.5 133.9" stroke="#222" stroke-width="0.8" fill="none"/><path d="M616.0 129.7 L618.6 128.0" stroke="#555" stroke-width="0.8" fill="none"/><path d="M607.2 124.5 L607.7 125.9" stroke="#555" stroke-width="0.6" fill="none"/><path d="M618.0 118.3 L619.9 117.1" stroke="#222" stroke-width="0.8" fill="none"/><path d="M630.1 124.6 L632.8 125.5" stroke="#333" stroke-width="1.0" fill="none"/><path d="M610.7 128.3 L611.6 130.6" stroke="#222" stroke-width="0.8" fill="none"/><path d="M636.9 120.5 L638.0 119.8" stroke="#333" stroke-width="0.8" fill="none"/><path d="M612.7 127.7 L613.9 126.9" stroke="#333" stroke-width="0.6" fill="none"/><path d="M628.3 128.9 L630.3 127.6" stroke="#333" stroke-width="0.6" fill="none"/><path d="M626.2 126.6 L626.8 128.3" stroke="#222" stroke-width="0.6" fill="none"/><path d="M604.9 128.0 L605.3 129.2" stroke="#555" stroke-width="1.0" fill="none"/><path d="M636.8 123.7 L637.5 125.7" stroke="#333" stroke-width="0.6" fill="none"/><path d="M621.0 116.3 L621.7 118.2" stroke="#222" stroke-width="1.0" fill="none"/><path d="M625.1 117.8 L625.7 119.1" stroke="#333" stroke-width="0.8" fill="none"/><path d="M629.7 124.5 L630.6 127.0" stroke="#333" stroke-width="0.8" fill="none"/><path d="M619.6 127.9 L620.6 130.4" stroke="#333" stroke-width="0.6" fill="none"/><path d="M624.8 126.6 L627.5 124.9" stroke="#333" stroke-width="0.6" fill="none"/><path d="M620.5 135.7 L622.2 136.3" stroke="#555" stroke-width="1.0" fill="none"/><path d="M618.8 135.6 L620.7 136.3" stroke="#222" stroke-width="0.8" fill="none"/><path d="M626.1 133.7 L628.6 132.1" stroke="#222" stroke-width="0.8" fill="none"/><path d="M624.2 123.0 L625.4 122.2" stroke="#222" stroke-width="0.8" fill="none"/><path d="M619.1 122.1 L621.5 120.5" stroke="#555" stroke-width="0.8" fill="none"/><path d="M621.8 130.8 L622.8 133.5" stroke="#333" stroke-width="1.0" fill="none"/><path d="M614.2 134.2 L617.0 135.2" stroke="#555" stroke-width="0.6" fill="none"/><path d="M628.9 128.6 L631.3 129.4" stroke="#222" stroke-width="1.0" fill="none"/><path d="M626.4 124.9 L627.4 124.2" stroke="#222" stroke-width="0.8" fill="none"/><path d="M606.1 127.8 L607.2 130.4" stroke="#555" stroke-width="0.6" fill="none"/><path d="M611.7 131.7 L613.9 132.4" stroke="#222" stroke-width="0.6" fill="none"/><path d="M610.6 133.1 L611.5 135.5" stroke="#555" stroke-width="1.0" fill="none"/><path d="M625.3 132.6 L628.1 133.6" stroke="#222" stroke-width="1.0" fill="none"/><path d="M629.5 118.9 L631.0 119.4" stroke="#333" stroke-width="0.6" fill="none"/><path d="M622.9 130.4 L623.9 133.0" stroke="#333" stroke-width="0.8" fill="none"/><path d="M637.4 121.8 L638.5 124.5" stroke="#555" stroke-width="0.8" fill="none"/><path d="M605.1 125.7 L605.9 127.6" stroke="#333" stroke-width="0.8" fill="none"/><path d="M637.0 120.8 L638.7 119.7" stroke="#222" stroke-width="0.6" fill="none"/><path d="M622.3 131.1 L624.0 129.9" stroke="#555" stroke-width="1.0" fill="none"/><path d="M621.7 130.9 L624.6 131.9" stroke="#555" stroke-width="0.8" fill="none"/><path d="M610.4 127.6 L613.1 128.5" stroke="#555" stroke-width="1.0" fill="none"/><path d="M608.2 127.3 L608.9 128.9" stroke="#333" stroke-width="1.0" fill="none"/><path d="M625.2 122.7 L627.8 121.0" stroke="#333" stroke-width="1.0" fill="none"/><path d="M623.8 120.4 L624.3 121.8" stroke="#555" stroke-width="0.6" fill="none"/><path d="M616.3 127.8 L618.2 126.6" stroke="#555" stroke-width="0.8" fill="none"/><path d="M632.4 128.4 L633.8 128.8" stroke="#222" stroke-width="0.6" fill="none"/><path d="M617.4 121.4 L618.7 121.9" stroke="#333" stroke-width="0.8" fill="none"/><path d="M621.9 118.4 L624.3 119.2" stroke="#222" stroke-width="0.8" fill="none"/><path d="M629.5 121.4 L630.8 121.8" stroke="#555" stroke-width="1.0" fill="none"/><path d="M606.7 127.2 L609.2 128.1" stroke="#555" stroke-width="1.0" fill="none"/><path d="M608.9 125.7 L610.4 125.9" stroke="#1a1a1a" stroke-width="1.8" fill="none"/><path d="M611.4 127.8 L612.9 127.1" stroke="#444" stroke-width="1.2" fill="none"/><path d="M614.4 129.1 L615.6 129.2" stroke="#1a1a1a" stroke-width="1.5" fill="none"/><path d="M617.0 129.9 L618.8 129.2" stroke="#1a1a1a" stroke-width="1.2" fill="none"/><path d="M619.7 131.1 L621.4 130.4" stroke="#2a2a2a" stroke-width="1.2" fill="none"/><path d="M623.3 132.5 L625.0 131.7" stroke="#444" stroke-width="1.5" fill="none"/><path d="M626.1 133.4 L627.3 133.4" stroke="#1a1a1a" stroke-width="1.5" fill="none"/><path d="M606.6 129.5 L607.9 129.9" stroke="#1a1a1a" stroke-width="1.2" fill="none"/><path d="M609.3 130.2 L611.0 130.1" stroke="#2a2a2a" stroke-width="1.8" fill="none"/><path d="M611.8 131.6 L613.0 131.8" stroke="#444" stroke-width="1.5" fill="none"/><path d="M614.7 132.8 L616.6 132.4" stroke="#2a2a2a" stroke-width="1.2" fill="none"/><path d="M617.9 134.4 L619.2 133.7" stroke="#1a1a1a" stroke-width="1.5" fill="none"/><path d="M621.0 135.3 L622.2 134.9" stroke="#444" stroke-width="1.5" fill="none"/><path d="M611.7 122.2 L613.4 121.6" stroke="#444" stroke-width="1.2" fill="none"/><path d="M614.9 124.3 L616.7 124.1" stroke="#444" stroke-width="1.2" fill="none"/><path d="M617.5 125.0 L619.2 124.4" stroke="#444" stroke-width="1.2" fill="none"/><path d="M620.5 126.1 L622.4 125.3" stroke="#444" stroke-width="1.5" fill="none"/><path d="M623.4 128.0 L625.1 127.6" stroke="#1a1a1a" stroke-width="1.8" fill="none"/><path d="M625.7 128.8 L627.1 127.9" stroke="#444" stroke-width="1.5" fill="none"/><path d="M629.4 129.8 L630.6 130.2" stroke="#2a2a2a" stroke-width="1.5" fill="none"/><circle cx="605.4" cy="126.6" r="0.5" fill="#222" stroke="none" stroke-width="0"/><circle cx="623.0" cy="117.0" r="0.5" fill="#222" stroke="none" stroke-width="0"/><circle cx="607.3" cy="125.3" r="0.5" fill="#222" stroke="none" stroke-width="0"/><circle cx="625.1" cy="117.8" r="0.5" fill="#222" stroke="none" stroke-width="0"/><circle cx="609.2" cy="124.0" r="0.5" fill="#222" stroke="none" stroke-width="0"/><circle cx="627.2" cy="118.5" r="0.5" fill="#222" stroke="none" stroke-width="0"/><circle cx="611.2" cy="122.8" r="0.5" fill="#222" stroke="none" stroke-width="0"/><circle cx="629.4" cy="119.2" r="0.5" fill="#222" stroke="none" stroke-width="0"/><circle cx="613.1" cy="121.5" r="0.5" fill="#222" stroke="none" stroke-width="0"/><circle cx="631.5" cy="120.0" r="0.5" fill="#222" stroke="none" stroke-width="0"/><circle cx="615.0" cy="120.2" r="0.5" fill="#222" stroke="none" stroke-width="0"/><circle cx="633.6" cy="120.8" r="0.5" fill="#222" stroke="none" stroke-width="0"/><circle cx="616.9" cy="118.9" r="0.5" fill="#222" stroke="none" stroke-width="0"/><circle cx="635.8" cy="121.5" r="0.5" fill="#222" stroke="none" stroke-width="0"/><circle cx="618.9" cy="117.7" r="0.5" fill="#222" stroke="none" stroke-width="0"/><circle cx="637.9" cy="122.2" r="0.5" fill="#222" stroke="none" stroke-width="0"/><circle cx="620.8" cy="116.4" r="0.5" fill="#222" stroke="none" stroke-width="0"/><circle cx="640.0" cy="123.0" r="0.5" fill="#222" stroke="none" stroke-width="0"/><path d="M606.0 129.5 L623.5 118.2 L638.5 123.4" fill="none" stroke="#1f1f1f" stroke-width="0.5" /><path d="M603.5 131.6 L622.3 139.4" fill="none" stroke="#1f1f1f" stroke-width="0.5" /><path d="M612.0 121.2 L631.0 128.6" fill="none" stroke="#1f1f1f" stroke-width="0.6" /><path d="M608.0 124.6 L626.5 132.8" fill="none" stroke="#1f1f1f" stroke-width="0.6" /><path d="M603.5 139.5 L621.0 146.2" fill="none" stroke="#1f1f1f" stroke-width="0.6" /><path d="M604.4 141.6 L620.4 147.6" fill="none" stroke="#555" stroke-width="1.3" /><circle cx="606.4" cy="144.1" r="0.7" fill="#222" stroke="none" stroke-width="0"/><circle cx="610.7" cy="145.7" r="0.7" fill="#222" stroke="none" stroke-width="0"/><circle cx="615.0" cy="147.2" r="0.7" fill="#222" stroke="none" stroke-width="0"/><circle cx="618.9" cy="148.7" r="0.7" fill="#222" stroke="none" stroke-width="0"/><circle cx="606.6" cy="134.7" r="0.55" fill="#333" stroke="none" stroke-width="0"/><circle cx="612.0" cy="136.7" r="0.55" fill="#333" stroke="none" stroke-width="0"/><circle cx="617.4" cy="138.7" r="0.55" fill="#333" stroke="none" stroke-width="0"/><circle cx="639.2" cy="127.0" r="0.55" fill="#222" stroke="none" stroke-width="0"/><circle cx="636.2" cy="130.0" r="0.5" fill="#333" stroke="none" stroke-width="0"/><circle cx="639.2" cy="130.1" r="0.55" fill="#222" stroke="none" stroke-width="0"/><circle cx="636.2" cy="133.0" r="0.5" fill="#333" stroke="none" stroke-width="0"/><circle cx="639.2" cy="133.2" r="0.55" fill="#222" stroke="none" stroke-width="0"/><circle cx="636.2" cy="136.0" r="0.5" fill="#333" stroke="none" stroke-width="0"/><circle cx="639.2" cy="136.3" r="0.55" fill="#222" stroke="none" stroke-width="0"/><circle cx="636.2" cy="139.0" r="0.5" fill="#333" stroke="none" stroke-width="0"/><circle cx="639.2" cy="139.4" r="0.55" fill="#222" stroke="none" stroke-width="0"/><circle cx="636.2" cy="142.0" r="0.5" fill="#333" stroke="none" stroke-width="0"/><circle cx="639.2" cy="142.5" r="0.55" fill="#222" stroke="none" stroke-width="0"/><circle cx="636.2" cy="145.0" r="0.5" fill="#333" stroke="none" stroke-width="0"/><circle cx="639.2" cy="145.6" r="0.55" fill="#222" stroke="none" stroke-width="0"/><path d="M627.6 138.4 L634.6 135.2 L635.0 142.2 L628.0 145.6 Z" fill="none" stroke="#1f1f1f" stroke-width="1.2" /><path d="M629.4 139.8 L633.2 138.0 L633.4 141.4 L629.6 143.2 Z" fill="#888" stroke="#1f1f1f" stroke-width="0.5" /><circle cx="626.2" cy="137.6" r="0.6" fill="#222" stroke="none" stroke-width="0"/><circle cx="636.4" cy="133.4" r="0.6" fill="#222" stroke="none" stroke-width="0"/><circle cx="626.6" cy="146.6" r="0.6" fill="#222" stroke="none" stroke-width="0"/><circle cx="636.8" cy="143.0" r="0.6" fill="#222" stroke="none" stroke-width="0"/><circle cx="624.0" cy="142.0" r="0.6" fill="#222" stroke="none" stroke-width="0"/><circle cx="631.0" cy="133.6" r="0.6" fill="#222" stroke="none" stroke-width="0"/><circle cx="631.6" cy="147.2" r="0.6" fill="#222" stroke="none" stroke-width="0"/><circle cx="625.0" cy="150.0" r="0.6" fill="#222" stroke="none" stroke-width="0"/><circle cx="644.6" cy="127.6" r="0.55" fill="#222" stroke="none" stroke-width="0"/><circle cx="648.6" cy="129.8" r="0.5" fill="#333" stroke="none" stroke-width="0"/><circle cx="644.6" cy="131.0" r="0.55" fill="#222" stroke="none" stroke-width="0"/><circle cx="648.6" cy="133.1" r="0.5" fill="#333" stroke="none" stroke-width="0"/><circle cx="644.6" cy="134.4" r="0.55" fill="#222" stroke="none" stroke-width="0"/><circle cx="648.6" cy="136.4" r="0.5" fill="#333" stroke="none" stroke-width="0"/><circle cx="644.6" cy="137.8" r="0.55" fill="#222" stroke="none" stroke-width="0"/><circle cx="648.6" cy="139.7" r="0.5" fill="#333" stroke="none" stroke-width="0"/><circle cx="644.6" cy="141.2" r="0.55" fill="#222" stroke="none" stroke-width="0"/><circle cx="648.6" cy="143.0" r="0.5" fill="#333" stroke="none" stroke-width="0"/><circle cx="644.6" cy="144.6" r="0.55" fill="#222" stroke="none" stroke-width="0"/><circle cx="648.6" cy="146.3" r="0.5" fill="#333" stroke="none" stroke-width="0"/><path d="M642.0 124.4 L653.6 129.8" fill="none" stroke="#1f1f1f" stroke-width="0.5" /><path d="M652.4 129.4 L650.6 150.0" fill="none" stroke="#1f1f1f" stroke-width="0.5" /><path d="M643.0 123.6 L644.2 126.4" stroke="#1f1f1f" stroke-width="0.6" fill="none"/><path d="M645.4 124.7 L646.6 127.5" stroke="#1f1f1f" stroke-width="0.6" fill="none"/><path d="M647.8 125.8 L649.0 128.6" stroke="#1f1f1f" stroke-width="0.6" fill="none"/><path d="M650.2 126.9 L651.4 129.7" stroke="#1f1f1f" stroke-width="0.6" fill="none"/><path d="M652.6 128.0 L653.8 130.8" stroke="#1f1f1f" stroke-width="0.6" fill="none"/><ellipse cx="641.8" cy="152.0" rx="6.9" ry="9.2" fill="#161616" stroke="#161616" stroke-width="0.8" transform="rotate(8 641.8 152.0)"/><ellipse cx="643.6" cy="152.0" rx="5.4" ry="8.0" fill="#ddd" stroke="#1f1f1f" stroke-width="0.7" transform="rotate(8 643.6 152.0)"/><ellipse cx="643.9" cy="152.2" rx="3.4" ry="5.2" fill="none" stroke="#1f1f1f" stroke-width="1.0" transform="rotate(8 643.9 152.2)"/><ellipse cx="644.0" cy="152.4" rx="1.4" ry="2.1" fill="#777" stroke="#1f1f1f" stroke-width="0.9" transform="rotate(8 644.0 152.4)"/><path d="M643.8 146.8 L644.0 157.6" stroke="#1f1f1f" stroke-width="0.6" fill="none"/><path d="M640.6 151.4 L647.2 153.2" stroke="#1f1f1f" stroke-width="0.6" fill="none"/><path d="M648.6 146.0 L650.6 150.0 L650.0 159.0" fill="none" stroke="#1f1f1f" stroke-width="0.8" /><path d="M625.2 154.6 L626.8 164.6" stroke="#222" stroke-width="0.9" fill="none"/><path d="M626.8 164.6 L628.1 157.0" stroke="#444" stroke-width="0.6" fill="none"/><path d="M627.9 154.2 L629.5 164.1" stroke="#222" stroke-width="0.9" fill="none"/><path d="M629.5 164.1 L630.8 156.6" stroke="#444" stroke-width="0.6" fill="none"/><path d="M630.6 153.7 L632.2 163.6" stroke="#222" stroke-width="0.9" fill="none"/><path d="M632.2 163.6 L633.5 156.1" stroke="#444" stroke-width="0.6" fill="none"/><path d="M633.3 153.2 L634.9 163.1" stroke="#222" stroke-width="0.9" fill="none"/><path d="M634.9 163.1 L636.2 155.7" stroke="#444" stroke-width="0.6" fill="none"/><path d="M636.0 152.8 L637.6 162.6" stroke="#222" stroke-width="0.9" fill="none"/><path d="M637.6 162.6 L638.9 155.2" stroke="#444" stroke-width="0.6" fill="none"/><path d="M638.7 152.3 L640.3 162.1" stroke="#222" stroke-width="0.9" fill="none"/><path d="M640.3 162.1 L641.6 154.8" stroke="#444" stroke-width="0.6" fill="none"/><path d="M622.4 158.6 L640.0 154.4" fill="none" stroke="#333" stroke-width="0.6" /><path d="M594.0 151.8 L603.4 148.2 L624.4 156.6 L615.0 160.4 Z" fill="#fff" stroke="#1f1f1f" stroke-width="0.7" /><path d="M594.0 151.8 L615.0 160.4 L615.4 164.2 L594.0 155.6 Z" fill="#4a4a4a" stroke="#1f1f1f" stroke-width="0.6" /><path d="M615.0 160.4 L624.4 156.6 L624.6 160.4 L615.4 164.2 Z" fill="#8a8a8a" stroke="#1f1f1f" stroke-width="0.6" /><path d="M597.2 150.6 L618.2 159.1" fill="none" stroke="#2a2a2a" stroke-width="1.0" /><path d="M600.3 149.4 L621.3 157.9" fill="none" stroke="#2a2a2a" stroke-width="1.0" /><path d="M599.2 154.0 L608.6 150.3" fill="none" stroke="#333" stroke-width="0.9" /><path d="M604.5 156.1 L613.9 152.4" fill="none" stroke="#333" stroke-width="0.9" /><path d="M609.8 158.2 L619.1 154.5" fill="none" stroke="#333" stroke-width="0.9" /><path d="M596.5 153.6 L596.6 156.0" fill="none" stroke="#ddd" stroke-width="0.9" /><path d="M601.8 155.8 L601.9 158.2" fill="none" stroke="#ddd" stroke-width="0.9" /><path d="M607.0 157.9 L607.1 160.3" fill="none" stroke="#ddd" stroke-width="0.9" /><path d="M612.3 160.1 L612.4 162.5" fill="none" stroke="#ddd" stroke-width="0.9" /><path d="M594.0 152.6 L594.0 156.0 L613.0 163.4 L624.6 165.6" fill="none" stroke="#1f1f1f" stroke-width="0.9" /><path d="M651.8 160.4 L641.6 163.0 L625.6 165.8" fill="none" stroke="#1f1f1f" stroke-width="0.9" /></g>
<g transform="translate(1248 155) scale(-1 1)"><path d="M641.2 122.0 L654.6 128.2 L651.8 160.4 L641.6 163.0 Z" fill="#fff" stroke="#1f1f1f" stroke-width="0.8" /><path d="M622.0 153.6 L641.6 149.0 L651.8 160.4 L625.6 165.8 Z" fill="#ececec" stroke="#1f1f1f" stroke-width="0.7" /><path d="M594.0 152.6 L604.4 148.6 L624.0 156.2 L624.6 165.6 L613.0 163.4 L594.0 156.0 Z" fill="#fff" stroke="#1f1f1f" stroke-width="0.8" /><path d="M601.6 130.6 L622.0 138.2 L622.0 153.6 L603.2 147.4 Z" fill="#fff" stroke="#1f1f1f" stroke-width="0.8" /><path d="M622.0 138.2 L641.2 122.0 L641.6 149.0 L622.0 153.6 Z" fill="#fff" stroke="#1f1f1f" stroke-width="0.8" /><path d="M604.0 126.4 L621.3 115.0 L641.2 122.0 L622.0 138.2 L601.6 130.6 Z" fill="#f0f0f0" stroke="#1f1f1f" stroke-width="0.9" /><path d="M604.0 126.4 L621.3 115.0 L641.2 122.0 L654.6 128.2" fill="none" stroke="#1f1f1f" stroke-width="1.1" /><path d="M619.2 128.3 L621.2 129.0" stroke="#222" stroke-width="1.0" fill="none"/><path d="M609.0 127.3 L609.9 129.5" stroke="#222" stroke-width="0.6" fill="none"/><path d="M619.0 119.1 L620.0 121.7" stroke="#555" stroke-width="1.0" fill="none"/><path d="M625.4 119.5 L627.8 117.9" stroke="#222" stroke-width="0.6" fill="none"/><path d="M624.8 133.1 L626.8 133.8" stroke="#555" stroke-width="0.6" fill="none"/><path d="M610.9 122.5 L613.0 121.1" stroke="#555" stroke-width="0.8" fill="none"/><path d="M628.9 122.9 L630.8 121.7" stroke="#222" stroke-width="0.6" fill="none"/><path d="M623.4 118.4 L625.8 116.8" stroke="#222" stroke-width="0.8" fill="none"/><path d="M604.8 129.8 L605.4 131.5" stroke="#333" stroke-width="0.6" fill="none"/><path d="M630.8 118.6 L633.0 117.2" stroke="#222" stroke-width="0.6" fill="none"/><path d="M619.7 126.7 L620.5 128.9" stroke="#555" stroke-width="0.8" fill="none"/><path d="M609.2 132.1 L611.0 131.0" stroke="#222" stroke-width="0.8" fill="none"/><path d="M624.9 128.7 L627.5 127.0" stroke="#333" stroke-width="0.6" fill="none"/><path d="M611.8 133.0 L614.5 133.9" stroke="#222" stroke-width="0.8" fill="none"/><path d="M616.0 129.7 L618.6 128.0" stroke="#555" stroke-width="0.8" fill="none"/><path d="M607.2 124.5 L607.7 125.9" stroke="#555" stroke-width="0.6" fill="none"/><path d="M618.0 118.3 L619.9 117.1" stroke="#222" stroke-width="0.8" fill="none"/><path d="M630.1 124.6 L632.8 125.5" stroke="#333" stroke-width="1.0" fill="none"/><path d="M610.7 128.3 L611.6 130.6" stroke="#222" stroke-width="0.8" fill="none"/><path d="M636.9 120.5 L638.0 119.8" stroke="#333" stroke-width="0.8" fill="none"/><path d="M612.7 127.7 L613.9 126.9" stroke="#333" stroke-width="0.6" fill="none"/><path d="M628.3 128.9 L630.3 127.6" stroke="#333" stroke-width="0.6" fill="none"/><path d="M626.2 126.6 L626.8 128.3" stroke="#222" stroke-width="0.6" fill="none"/><path d="M604.9 128.0 L605.3 129.2" stroke="#555" stroke-width="1.0" fill="none"/><path d="M636.8 123.7 L637.5 125.7" stroke="#333" stroke-width="0.6" fill="none"/><path d="M621.0 116.3 L621.7 118.2" stroke="#222" stroke-width="1.0" fill="none"/><path d="M625.1 117.8 L625.7 119.1" stroke="#333" stroke-width="0.8" fill="none"/><path d="M629.7 124.5 L630.6 127.0" stroke="#333" stroke-width="0.8" fill="none"/><path d="M619.6 127.9 L620.6 130.4" stroke="#333" stroke-width="0.6" fill="none"/><path d="M624.8 126.6 L627.5 124.9" stroke="#333" stroke-width="0.6" fill="none"/><path d="M620.5 135.7 L622.2 136.3" stroke="#555" stroke-width="1.0" fill="none"/><path d="M618.8 135.6 L620.7 136.3" stroke="#222" stroke-width="0.8" fill="none"/><path d="M626.1 133.7 L628.6 132.1" stroke="#222" stroke-width="0.8" fill="none"/><path d="M624.2 123.0 L625.4 122.2" stroke="#222" stroke-width="0.8" fill="none"/><path d="M619.1 122.1 L621.5 120.5" stroke="#555" stroke-width="0.8" fill="none"/><path d="M621.8 130.8 L622.8 133.5" stroke="#333" stroke-width="1.0" fill="none"/><path d="M614.2 134.2 L617.0 135.2" stroke="#555" stroke-width="0.6" fill="none"/><path d="M628.9 128.6 L631.3 129.4" stroke="#222" stroke-width="1.0" fill="none"/><path d="M626.4 124.9 L627.4 124.2" stroke="#222" stroke-width="0.8" fill="none"/><path d="M606.1 127.8 L607.2 130.4" stroke="#555" stroke-width="0.6" fill="none"/><path d="M611.7 131.7 L613.9 132.4" stroke="#222" stroke-width="0.6" fill="none"/><path d="M610.6 133.1 L611.5 135.5" stroke="#555" stroke-width="1.0" fill="none"/><path d="M625.3 132.6 L628.1 133.6" stroke="#222" stroke-width="1.0" fill="none"/><path d="M629.5 118.9 L631.0 119.4" stroke="#333" stroke-width="0.6" fill="none"/><path d="M622.9 130.4 L623.9 133.0" stroke="#333" stroke-width="0.8" fill="none"/><path d="M637.4 121.8 L638.5 124.5" stroke="#555" stroke-width="0.8" fill="none"/><path d="M605.1 125.7 L605.9 127.6" stroke="#333" stroke-width="0.8" fill="none"/><path d="M637.0 120.8 L638.7 119.7" stroke="#222" stroke-width="0.6" fill="none"/><path d="M622.3 131.1 L624.0 129.9" stroke="#555" stroke-width="1.0" fill="none"/><path d="M621.7 130.9 L624.6 131.9" stroke="#555" stroke-width="0.8" fill="none"/><path d="M610.4 127.6 L613.1 128.5" stroke="#555" stroke-width="1.0" fill="none"/><path d="M608.2 127.3 L608.9 128.9" stroke="#333" stroke-width="1.0" fill="none"/><path d="M625.2 122.7 L627.8 121.0" stroke="#333" stroke-width="1.0" fill="none"/><path d="M623.8 120.4 L624.3 121.8" stroke="#555" stroke-width="0.6" fill="none"/><path d="M616.3 127.8 L618.2 126.6" stroke="#555" stroke-width="0.8" fill="none"/><path d="M632.4 128.4 L633.8 128.8" stroke="#222" stroke-width="0.6" fill="none"/><path d="M617.4 121.4 L618.7 121.9" stroke="#333" stroke-width="0.8" fill="none"/><path d="M621.9 118.4 L624.3 119.2" stroke="#222" stroke-width="0.8" fill="none"/><path d="M629.5 121.4 L630.8 121.8" stroke="#555" stroke-width="1.0" fill="none"/><path d="M606.7 127.2 L609.2 128.1" stroke="#555" stroke-width="1.0" fill="none"/><path d="M608.9 125.7 L610.4 125.9" stroke="#1a1a1a" stroke-width="1.8" fill="none"/><path d="M611.4 127.8 L612.9 127.1" stroke="#444" stroke-width="1.2" fill="none"/><path d="M614.4 129.1 L615.6 129.2" stroke="#1a1a1a" stroke-width="1.5" fill="none"/><path d="M617.0 129.9 L618.8 129.2" stroke="#1a1a1a" stroke-width="1.2" fill="none"/><path d="M619.7 131.1 L621.4 130.4" stroke="#2a2a2a" stroke-width="1.2" fill="none"/><path d="M623.3 132.5 L625.0 131.7" stroke="#444" stroke-width="1.5" fill="none"/><path d="M626.1 133.4 L627.3 133.4" stroke="#1a1a1a" stroke-width="1.5" fill="none"/><path d="M606.6 129.5 L607.9 129.9" stroke="#1a1a1a" stroke-width="1.2" fill="none"/><path d="M609.3 130.2 L611.0 130.1" stroke="#2a2a2a" stroke-width="1.8" fill="none"/><path d="M611.8 131.6 L613.0 131.8" stroke="#444" stroke-width="1.5" fill="none"/><path d="M614.7 132.8 L616.6 132.4" stroke="#2a2a2a" stroke-width="1.2" fill="none"/><path d="M617.9 134.4 L619.2 133.7" stroke="#1a1a1a" stroke-width="1.5" fill="none"/><path d="M621.0 135.3 L622.2 134.9" stroke="#444" stroke-width="1.5" fill="none"/><path d="M611.7 122.2 L613.4 121.6" stroke="#444" stroke-width="1.2" fill="none"/><path d="M614.9 124.3 L616.7 124.1" stroke="#444" stroke-width="1.2" fill="none"/><path d="M617.5 125.0 L619.2 124.4" stroke="#444" stroke-width="1.2" fill="none"/><path d="M620.5 126.1 L622.4 125.3" stroke="#444" stroke-width="1.5" fill="none"/><path d="M623.4 128.0 L625.1 127.6" stroke="#1a1a1a" stroke-width="1.8" fill="none"/><path d="M625.7 128.8 L627.1 127.9" stroke="#444" stroke-width="1.5" fill="none"/><path d="M629.4 129.8 L630.6 130.2" stroke="#2a2a2a" stroke-width="1.5" fill="none"/><circle cx="605.4" cy="126.6" r="0.5" fill="#222" stroke="none" stroke-width="0"/><circle cx="623.0" cy="117.0" r="0.5" fill="#222" stroke="none" stroke-width="0"/><circle cx="607.3" cy="125.3" r="0.5" fill="#222" stroke="none" stroke-width="0"/><circle cx="625.1" cy="117.8" r="0.5" fill="#222" stroke="none" stroke-width="0"/><circle cx="609.2" cy="124.0" r="0.5" fill="#222" stroke="none" stroke-width="0"/><circle cx="627.2" cy="118.5" r="0.5" fill="#222" stroke="none" stroke-width="0"/><circle cx="611.2" cy="122.8" r="0.5" fill="#222" stroke="none" stroke-width="0"/><circle cx="629.4" cy="119.2" r="0.5" fill="#222" stroke="none" stroke-width="0"/><circle cx="613.1" cy="121.5" r="0.5" fill="#222" stroke="none" stroke-width="0"/><circle cx="631.5" cy="120.0" r="0.5" fill="#222" stroke="none" stroke-width="0"/><circle cx="615.0" cy="120.2" r="0.5" fill="#222" stroke="none" stroke-width="0"/><circle cx="633.6" cy="120.8" r="0.5" fill="#222" stroke="none" stroke-width="0"/><circle cx="616.9" cy="118.9" r="0.5" fill="#222" stroke="none" stroke-width="0"/><circle cx="635.8" cy="121.5" r="0.5" fill="#222" stroke="none" stroke-width="0"/><circle cx="618.9" cy="117.7" r="0.5" fill="#222" stroke="none" stroke-width="0"/><circle cx="637.9" cy="122.2" r="0.5" fill="#222" stroke="none" stroke-width="0"/><circle cx="620.8" cy="116.4" r="0.5" fill="#222" stroke="none" stroke-width="0"/><circle cx="640.0" cy="123.0" r="0.5" fill="#222" stroke="none" stroke-width="0"/><path d="M606.0 129.5 L623.5 118.2 L638.5 123.4" fill="none" stroke="#1f1f1f" stroke-width="0.5" /><path d="M603.5 131.6 L622.3 139.4" fill="none" stroke="#1f1f1f" stroke-width="0.5" /><path d="M612.0 121.2 L631.0 128.6" fill="none" stroke="#1f1f1f" stroke-width="0.6" /><path d="M608.0 124.6 L626.5 132.8" fill="none" stroke="#1f1f1f" stroke-width="0.6" /><path d="M603.5 139.5 L621.0 146.2" fill="none" stroke="#1f1f1f" stroke-width="0.6" /><path d="M604.4 141.6 L620.4 147.6" fill="none" stroke="#555" stroke-width="1.3" /><circle cx="606.4" cy="144.1" r="0.7" fill="#222" stroke="none" stroke-width="0"/><circle cx="610.7" cy="145.7" r="0.7" fill="#222" stroke="none" stroke-width="0"/><circle cx="615.0" cy="147.2" r="0.7" fill="#222" stroke="none" stroke-width="0"/><circle cx="618.9" cy="148.7" r="0.7" fill="#222" stroke="none" stroke-width="0"/><circle cx="606.6" cy="134.7" r="0.55" fill="#333" stroke="none" stroke-width="0"/><circle cx="612.0" cy="136.7" r="0.55" fill="#333" stroke="none" stroke-width="0"/><circle cx="617.4" cy="138.7" r="0.55" fill="#333" stroke="none" stroke-width="0"/><circle cx="639.2" cy="127.0" r="0.55" fill="#222" stroke="none" stroke-width="0"/><circle cx="636.2" cy="130.0" r="0.5" fill="#333" stroke="none" stroke-width="0"/><circle cx="639.2" cy="130.1" r="0.55" fill="#222" stroke="none" stroke-width="0"/><circle cx="636.2" cy="133.0" r="0.5" fill="#333" stroke="none" stroke-width="0"/><circle cx="639.2" cy="133.2" r="0.55" fill="#222" stroke="none" stroke-width="0"/><circle cx="636.2" cy="136.0" r="0.5" fill="#333" stroke="none" stroke-width="0"/><circle cx="639.2" cy="136.3" r="0.55" fill="#222" stroke="none" stroke-width="0"/><circle cx="636.2" cy="139.0" r="0.5" fill="#333" stroke="none" stroke-width="0"/><circle cx="639.2" cy="139.4" r="0.55" fill="#222" stroke="none" stroke-width="0"/><circle cx="636.2" cy="142.0" r="0.5" fill="#333" stroke="none" stroke-width="0"/><circle cx="639.2" cy="142.5" r="0.55" fill="#222" stroke="none" stroke-width="0"/><circle cx="636.2" cy="145.0" r="0.5" fill="#333" stroke="none" stroke-width="0"/><circle cx="639.2" cy="145.6" r="0.55" fill="#222" stroke="none" stroke-width="0"/><path d="M627.6 138.4 L634.6 135.2 L635.0 142.2 L628.0 145.6 Z" fill="none" stroke="#1f1f1f" stroke-width="1.2" /><path d="M629.4 139.8 L633.2 138.0 L633.4 141.4 L629.6 143.2 Z" fill="#888" stroke="#1f1f1f" stroke-width="0.5" /><circle cx="626.2" cy="137.6" r="0.6" fill="#222" stroke="none" stroke-width="0"/><circle cx="636.4" cy="133.4" r="0.6" fill="#222" stroke="none" stroke-width="0"/><circle cx="626.6" cy="146.6" r="0.6" fill="#222" stroke="none" stroke-width="0"/><circle cx="636.8" cy="143.0" r="0.6" fill="#222" stroke="none" stroke-width="0"/><circle cx="624.0" cy="142.0" r="0.6" fill="#222" stroke="none" stroke-width="0"/><circle cx="631.0" cy="133.6" r="0.6" fill="#222" stroke="none" stroke-width="0"/><circle cx="631.6" cy="147.2" r="0.6" fill="#222" stroke="none" stroke-width="0"/><circle cx="625.0" cy="150.0" r="0.6" fill="#222" stroke="none" stroke-width="0"/><circle cx="644.6" cy="127.6" r="0.55" fill="#222" stroke="none" stroke-width="0"/><circle cx="648.6" cy="129.8" r="0.5" fill="#333" stroke="none" stroke-width="0"/><circle cx="644.6" cy="131.0" r="0.55" fill="#222" stroke="none" stroke-width="0"/><circle cx="648.6" cy="133.1" r="0.5" fill="#333" stroke="none" stroke-width="0"/><circle cx="644.6" cy="134.4" r="0.55" fill="#222" stroke="none" stroke-width="0"/><circle cx="648.6" cy="136.4" r="0.5" fill="#333" stroke="none" stroke-width="0"/><circle cx="644.6" cy="137.8" r="0.55" fill="#222" stroke="none" stroke-width="0"/><circle cx="648.6" cy="139.7" r="0.5" fill="#333" stroke="none" stroke-width="0"/><circle cx="644.6" cy="141.2" r="0.55" fill="#222" stroke="none" stroke-width="0"/><circle cx="648.6" cy="143.0" r="0.5" fill="#333" stroke="none" stroke-width="0"/><circle cx="644.6" cy="144.6" r="0.55" fill="#222" stroke="none" stroke-width="0"/><circle cx="648.6" cy="146.3" r="0.5" fill="#333" stroke="none" stroke-width="0"/><path d="M642.0 124.4 L653.6 129.8" fill="none" stroke="#1f1f1f" stroke-width="0.5" /><path d="M652.4 129.4 L650.6 150.0" fill="none" stroke="#1f1f1f" stroke-width="0.5" /><path d="M643.0 123.6 L644.2 126.4" stroke="#1f1f1f" stroke-width="0.6" fill="none"/><path d="M645.4 124.7 L646.6 127.5" stroke="#1f1f1f" stroke-width="0.6" fill="none"/><path d="M647.8 125.8 L649.0 128.6" stroke="#1f1f1f" stroke-width="0.6" fill="none"/><path d="M650.2 126.9 L651.4 129.7" stroke="#1f1f1f" stroke-width="0.6" fill="none"/><path d="M652.6 128.0 L653.8 130.8" stroke="#1f1f1f" stroke-width="0.6" fill="none"/><ellipse cx="641.8" cy="152.0" rx="6.9" ry="9.2" fill="#161616" stroke="#161616" stroke-width="0.8" transform="rotate(8 641.8 152.0)"/><ellipse cx="643.6" cy="152.0" rx="5.4" ry="8.0" fill="#ddd" stroke="#1f1f1f" stroke-width="0.7" transform="rotate(8 643.6 152.0)"/><ellipse cx="643.9" cy="152.2" rx="3.4" ry="5.2" fill="none" stroke="#1f1f1f" stroke-width="1.0" transform="rotate(8 643.9 152.2)"/><ellipse cx="644.0" cy="152.4" rx="1.4" ry="2.1" fill="#777" stroke="#1f1f1f" stroke-width="0.9" transform="rotate(8 644.0 152.4)"/><path d="M643.8 146.8 L644.0 157.6" stroke="#1f1f1f" stroke-width="0.6" fill="none"/><path d="M640.6 151.4 L647.2 153.2" stroke="#1f1f1f" stroke-width="0.6" fill="none"/><path d="M648.6 146.0 L650.6 150.0 L650.0 159.0" fill="none" stroke="#1f1f1f" stroke-width="0.8" /><path d="M625.2 154.6 L626.8 164.6" stroke="#222" stroke-width="0.9" fill="none"/><path d="M626.8 164.6 L628.1 157.0" stroke="#444" stroke-width="0.6" fill="none"/><path d="M627.9 154.2 L629.5 164.1" stroke="#222" stroke-width="0.9" fill="none"/><path d="M629.5 164.1 L630.8 156.6" stroke="#444" stroke-width="0.6" fill="none"/><path d="M630.6 153.7 L632.2 163.6" stroke="#222" stroke-width="0.9" fill="none"/><path d="M632.2 163.6 L633.5 156.1" stroke="#444" stroke-width="0.6" fill="none"/><path d="M633.3 153.2 L634.9 163.1" stroke="#222" stroke-width="0.9" fill="none"/><path d="M634.9 163.1 L636.2 155.7" stroke="#444" stroke-width="0.6" fill="none"/><path d="M636.0 152.8 L637.6 162.6" stroke="#222" stroke-width="0.9" fill="none"/><path d="M637.6 162.6 L638.9 155.2" stroke="#444" stroke-width="0.6" fill="none"/><path d="M638.7 152.3 L640.3 162.1" stroke="#222" stroke-width="0.9" fill="none"/><path d="M640.3 162.1 L641.6 154.8" stroke="#444" stroke-width="0.6" fill="none"/><path d="M622.4 158.6 L640.0 154.4" fill="none" stroke="#333" stroke-width="0.6" /><path d="M594.0 151.8 L603.4 148.2 L624.4 156.6 L615.0 160.4 Z" fill="#fff" stroke="#1f1f1f" stroke-width="0.7" /><path d="M594.0 151.8 L615.0 160.4 L615.4 164.2 L594.0 155.6 Z" fill="#4a4a4a" stroke="#1f1f1f" stroke-width="0.6" /><path d="M615.0 160.4 L624.4 156.6 L624.6 160.4 L615.4 164.2 Z" fill="#8a8a8a" stroke="#1f1f1f" stroke-width="0.6" /><path d="M597.2 150.6 L618.2 159.1" fill="none" stroke="#2a2a2a" stroke-width="1.0" /><path d="M600.3 149.4 L621.3 157.9" fill="none" stroke="#2a2a2a" stroke-width="1.0" /><path d="M599.2 154.0 L608.6 150.3" fill="none" stroke="#333" stroke-width="0.9" /><path d="M604.5 156.1 L613.9 152.4" fill="none" stroke="#333" stroke-width="0.9" /><path d="M609.8 158.2 L619.1 154.5" fill="none" stroke="#333" stroke-width="0.9" /><path d="M596.5 153.6 L596.6 156.0" fill="none" stroke="#ddd" stroke-width="0.9" /><path d="M601.8 155.8 L601.9 158.2" fill="none" stroke="#ddd" stroke-width="0.9" /><path d="M607.0 157.9 L607.1 160.3" fill="none" stroke="#ddd" stroke-width="0.9" /><path d="M612.3 160.1 L612.4 162.5" fill="none" stroke="#ddd" stroke-width="0.9" /><path d="M594.0 152.6 L594.0 156.0 L613.0 163.4 L624.6 165.6" fill="none" stroke="#1f1f1f" stroke-width="0.9" /><path d="M651.8 160.4 L641.6 163.0 L625.6 165.8" fill="none" stroke="#1f1f1f" stroke-width="0.9" /></g>
<g transform="translate(-4 231)"><path d="M641.2 122.0 L654.6 128.2 L651.8 160.4 L641.6 163.0 Z" fill="#fff" stroke="#1f1f1f" stroke-width="0.8" /><path d="M622.0 153.6 L641.6 149.0 L651.8 160.4 L625.6 165.8 Z" fill="#ececec" stroke="#1f1f1f" stroke-width="0.7" /><path d="M594.0 152.6 L604.4 148.6 L624.0 156.2 L624.6 165.6 L613.0 163.4 L594.0 156.0 Z" fill="#fff" stroke="#1f1f1f" stroke-width="0.8" /><path d="M601.6 130.6 L622.0 138.2 L622.0 153.6 L603.2 147.4 Z" fill="#fff" stroke="#1f1f1f" stroke-width="0.8" /><path d="M622.0 138.2 L641.2 122.0 L641.6 149.0 L622.0 153.6 Z" fill="#fff" stroke="#1f1f1f" stroke-width="0.8" /><path d="M604.0 126.4 L621.3 115.0 L641.2 122.0 L622.0 138.2 L601.6 130.6 Z" fill="#f0f0f0" stroke="#1f1f1f" stroke-width="0.9" /><path d="M604.0 126.4 L621.3 115.0 L641.2 122.0 L654.6 128.2" fill="none" stroke="#1f1f1f" stroke-width="1.1" /><path d="M619.2 128.3 L621.2 129.0" stroke="#222" stroke-width="1.0" fill="none"/><path d="M609.0 127.3 L609.9 129.5" stroke="#222" stroke-width="0.6" fill="none"/><path d="M619.0 119.1 L620.0 121.7" stroke="#555" stroke-width="1.0" fill="none"/><path d="M625.4 119.5 L627.8 117.9" stroke="#222" stroke-width="0.6" fill="none"/><path d="M624.8 133.1 L626.8 133.8" stroke="#555" stroke-width="0.6" fill="none"/><path d="M610.9 122.5 L613.0 121.1" stroke="#555" stroke-width="0.8" fill="none"/><path d="M628.9 122.9 L630.8 121.7" stroke="#222" stroke-width="0.6" fill="none"/><path d="M623.4 118.4 L625.8 116.8" stroke="#222" stroke-width="0.8" fill="none"/><path d="M604.8 129.8 L605.4 131.5" stroke="#333" stroke-width="0.6" fill="none"/><path d="M630.8 118.6 L633.0 117.2" stroke="#222" stroke-width="0.6" fill="none"/><path d="M619.7 126.7 L620.5 128.9" stroke="#555" stroke-width="0.8" fill="none"/><path d="M609.2 132.1 L611.0 131.0" stroke="#222" stroke-width="0.8" fill="none"/><path d="M624.9 128.7 L627.5 127.0" stroke="#333" stroke-width="0.6" fill="none"/><path d="M611.8 133.0 L614.5 133.9" stroke="#222" stroke-width="0.8" fill="none"/><path d="M616.0 129.7 L618.6 128.0" stroke="#555" stroke-width="0.8" fill="none"/><path d="M607.2 124.5 L607.7 125.9" stroke="#555" stroke-width="0.6" fill="none"/><path d="M618.0 118.3 L619.9 117.1" stroke="#222" stroke-width="0.8" fill="none"/><path d="M630.1 124.6 L632.8 125.5" stroke="#333" stroke-width="1.0" fill="none"/><path d="M610.7 128.3 L611.6 130.6" stroke="#222" stroke-width="0.8" fill="none"/><path d="M636.9 120.5 L638.0 119.8" stroke="#333" stroke-width="0.8" fill="none"/><path d="M612.7 127.7 L613.9 126.9" stroke="#333" stroke-width="0.6" fill="none"/><path d="M628.3 128.9 L630.3 127.6" stroke="#333" stroke-width="0.6" fill="none"/><path d="M626.2 126.6 L626.8 128.3" stroke="#222" stroke-width="0.6" fill="none"/><path d="M604.9 128.0 L605.3 129.2" stroke="#555" stroke-width="1.0" fill="none"/><path d="M636.8 123.7 L637.5 125.7" stroke="#333" stroke-width="0.6" fill="none"/><path d="M621.0 116.3 L621.7 118.2" stroke="#222" stroke-width="1.0" fill="none"/><path d="M625.1 117.8 L625.7 119.1" stroke="#333" stroke-width="0.8" fill="none"/><path d="M629.7 124.5 L630.6 127.0" stroke="#333" stroke-width="0.8" fill="none"/><path d="M619.6 127.9 L620.6 130.4" stroke="#333" stroke-width="0.6" fill="none"/><path d="M624.8 126.6 L627.5 124.9" stroke="#333" stroke-width="0.6" fill="none"/><path d="M620.5 135.7 L622.2 136.3" stroke="#555" stroke-width="1.0" fill="none"/><path d="M618.8 135.6 L620.7 136.3" stroke="#222" stroke-width="0.8" fill="none"/><path d="M626.1 133.7 L628.6 132.1" stroke="#222" stroke-width="0.8" fill="none"/><path d="M624.2 123.0 L625.4 122.2" stroke="#222" stroke-width="0.8" fill="none"/><path d="M619.1 122.1 L621.5 120.5" stroke="#555" stroke-width="0.8" fill="none"/><path d="M621.8 130.8 L622.8 133.5" stroke="#333" stroke-width="1.0" fill="none"/><path d="M614.2 134.2 L617.0 135.2" stroke="#555" stroke-width="0.6" fill="none"/><path d="M628.9 128.6 L631.3 129.4" stroke="#222" stroke-width="1.0" fill="none"/><path d="M626.4 124.9 L627.4 124.2" stroke="#222" stroke-width="0.8" fill="none"/><path d="M606.1 127.8 L607.2 130.4" stroke="#555" stroke-width="0.6" fill="none"/><path d="M611.7 131.7 L613.9 132.4" stroke="#222" stroke-width="0.6" fill="none"/><path d="M610.6 133.1 L611.5 135.5" stroke="#555" stroke-width="1.0" fill="none"/><path d="M625.3 132.6 L628.1 133.6" stroke="#222" stroke-width="1.0" fill="none"/><path d="M629.5 118.9 L631.0 119.4" stroke="#333" stroke-width="0.6" fill="none"/><path d="M622.9 130.4 L623.9 133.0" stroke="#333" stroke-width="0.8" fill="none"/><path d="M637.4 121.8 L638.5 124.5" stroke="#555" stroke-width="0.8" fill="none"/><path d="M605.1 125.7 L605.9 127.6" stroke="#333" stroke-width="0.8" fill="none"/><path d="M637.0 120.8 L638.7 119.7" stroke="#222" stroke-width="0.6" fill="none"/><path d="M622.3 131.1 L624.0 129.9" stroke="#555" stroke-width="1.0" fill="none"/><path d="M621.7 130.9 L624.6 131.9" stroke="#555" stroke-width="0.8" fill="none"/><path d="M610.4 127.6 L613.1 128.5" stroke="#555" stroke-width="1.0" fill="none"/><path d="M608.2 127.3 L608.9 128.9" stroke="#333" stroke-width="1.0" fill="none"/><path d="M625.2 122.7 L627.8 121.0" stroke="#333" stroke-width="1.0" fill="none"/><path d="M623.8 120.4 L624.3 121.8" stroke="#555" stroke-width="0.6" fill="none"/><path d="M616.3 127.8 L618.2 126.6" stroke="#555" stroke-width="0.8" fill="none"/><path d="M632.4 128.4 L633.8 128.8" stroke="#222" stroke-width="0.6" fill="none"/><path d="M617.4 121.4 L618.7 121.9" stroke="#333" stroke-width="0.8" fill="none"/><path d="M621.9 118.4 L624.3 119.2" stroke="#222" stroke-width="0.8" fill="none"/><path d="M629.5 121.4 L630.8 121.8" stroke="#555" stroke-width="1.0" fill="none"/><path d="M606.7 127.2 L609.2 128.1" stroke="#555" stroke-width="1.0" fill="none"/><path d="M608.9 125.7 L610.4 125.9" stroke="#1a1a1a" stroke-width="1.8" fill="none"/><path d="M611.4 127.8 L612.9 127.1" stroke="#444" stroke-width="1.2" fill="none"/><path d="M614.4 129.1 L615.6 129.2" stroke="#1a1a1a" stroke-width="1.5" fill="none"/><path d="M617.0 129.9 L618.8 129.2" stroke="#1a1a1a" stroke-width="1.2" fill="none"/><path d="M619.7 131.1 L621.4 130.4" stroke="#2a2a2a" stroke-width="1.2" fill="none"/><path d="M623.3 132.5 L625.0 131.7" stroke="#444" stroke-width="1.5" fill="none"/><path d="M626.1 133.4 L627.3 133.4" stroke="#1a1a1a" stroke-width="1.5" fill="none"/><path d="M606.6 129.5 L607.9 129.9" stroke="#1a1a1a" stroke-width="1.2" fill="none"/><path d="M609.3 130.2 L611.0 130.1" stroke="#2a2a2a" stroke-width="1.8" fill="none"/><path d="M611.8 131.6 L613.0 131.8" stroke="#444" stroke-width="1.5" fill="none"/><path d="M614.7 132.8 L616.6 132.4" stroke="#2a2a2a" stroke-width="1.2" fill="none"/><path d="M617.9 134.4 L619.2 133.7" stroke="#1a1a1a" stroke-width="1.5" fill="none"/><path d="M621.0 135.3 L622.2 134.9" stroke="#444" stroke-width="1.5" fill="none"/><path d="M611.7 122.2 L613.4 121.6" stroke="#444" stroke-width="1.2" fill="none"/><path d="M614.9 124.3 L616.7 124.1" stroke="#444" stroke-width="1.2" fill="none"/><path d="M617.5 125.0 L619.2 124.4" stroke="#444" stroke-width="1.2" fill="none"/><path d="M620.5 126.1 L622.4 125.3" stroke="#444" stroke-width="1.5" fill="none"/><path d="M623.4 128.0 L625.1 127.6" stroke="#1a1a1a" stroke-width="1.8" fill="none"/><path d="M625.7 128.8 L627.1 127.9" stroke="#444" stroke-width="1.5" fill="none"/><path d="M629.4 129.8 L630.6 130.2" stroke="#2a2a2a" stroke-width="1.5" fill="none"/><circle cx="605.4" cy="126.6" r="0.5" fill="#222" stroke="none" stroke-width="0"/><circle cx="623.0" cy="117.0" r="0.5" fill="#222" stroke="none" stroke-width="0"/><circle cx="607.3" cy="125.3" r="0.5" fill="#222" stroke="none" stroke-width="0"/><circle cx="625.1" cy="117.8" r="0.5" fill="#222" stroke="none" stroke-width="0"/><circle cx="609.2" cy="124.0" r="0.5" fill="#222" stroke="none" stroke-width="0"/><circle cx="627.2" cy="118.5" r="0.5" fill="#222" stroke="none" stroke-width="0"/><circle cx="611.2" cy="122.8" r="0.5" fill="#222" stroke="none" stroke-width="0"/><circle cx="629.4" cy="119.2" r="0.5" fill="#222" stroke="none" stroke-width="0"/><circle cx="613.1" cy="121.5" r="0.5" fill="#222" stroke="none" stroke-width="0"/><circle cx="631.5" cy="120.0" r="0.5" fill="#222" stroke="none" stroke-width="0"/><circle cx="615.0" cy="120.2" r="0.5" fill="#222" stroke="none" stroke-width="0"/><circle cx="633.6" cy="120.8" r="0.5" fill="#222" stroke="none" stroke-width="0"/><circle cx="616.9" cy="118.9" r="0.5" fill="#222" stroke="none" stroke-width="0"/><circle cx="635.8" cy="121.5" r="0.5" fill="#222" stroke="none" stroke-width="0"/><circle cx="618.9" cy="117.7" r="0.5" fill="#222" stroke="none" stroke-width="0"/><circle cx="637.9" cy="122.2" r="0.5" fill="#222" stroke="none" stroke-width="0"/><circle cx="620.8" cy="116.4" r="0.5" fill="#222" stroke="none" stroke-width="0"/><circle cx="640.0" cy="123.0" r="0.5" fill="#222" stroke="none" stroke-width="0"/><path d="M606.0 129.5 L623.5 118.2 L638.5 123.4" fill="none" stroke="#1f1f1f" stroke-width="0.5" /><path d="M603.5 131.6 L622.3 139.4" fill="none" stroke="#1f1f1f" stroke-width="0.5" /><path d="M612.0 121.2 L631.0 128.6" fill="none" stroke="#1f1f1f" stroke-width="0.6" /><path d="M608.0 124.6 L626.5 132.8" fill="none" stroke="#1f1f1f" stroke-width="0.6" /><path d="M603.5 139.5 L621.0 146.2" fill="none" stroke="#1f1f1f" stroke-width="0.6" /><path d="M604.4 141.6 L620.4 147.6" fill="none" stroke="#555" stroke-width="1.3" /><circle cx="606.4" cy="144.1" r="0.7" fill="#222" stroke="none" stroke-width="0"/><circle cx="610.7" cy="145.7" r="0.7" fill="#222" stroke="none" stroke-width="0"/><circle cx="615.0" cy="147.2" r="0.7" fill="#222" stroke="none" stroke-width="0"/><circle cx="618.9" cy="148.7" r="0.7" fill="#222" stroke="none" stroke-width="0"/><circle cx="606.6" cy="134.7" r="0.55" fill="#333" stroke="none" stroke-width="0"/><circle cx="612.0" cy="136.7" r="0.55" fill="#333" stroke="none" stroke-width="0"/><circle cx="617.4" cy="138.7" r="0.55" fill="#333" stroke="none" stroke-width="0"/><circle cx="639.2" cy="127.0" r="0.55" fill="#222" stroke="none" stroke-width="0"/><circle cx="636.2" cy="130.0" r="0.5" fill="#333" stroke="none" stroke-width="0"/><circle cx="639.2" cy="130.1" r="0.55" fill="#222" stroke="none" stroke-width="0"/><circle cx="636.2" cy="133.0" r="0.5" fill="#333" stroke="none" stroke-width="0"/><circle cx="639.2" cy="133.2" r="0.55" fill="#222" stroke="none" stroke-width="0"/><circle cx="636.2" cy="136.0" r="0.5" fill="#333" stroke="none" stroke-width="0"/><circle cx="639.2" cy="136.3" r="0.55" fill="#222" stroke="none" stroke-width="0"/><circle cx="636.2" cy="139.0" r="0.5" fill="#333" stroke="none" stroke-width="0"/><circle cx="639.2" cy="139.4" r="0.55" fill="#222" stroke="none" stroke-width="0"/><circle cx="636.2" cy="142.0" r="0.5" fill="#333" stroke="none" stroke-width="0"/><circle cx="639.2" cy="142.5" r="0.55" fill="#222" stroke="none" stroke-width="0"/><circle cx="636.2" cy="145.0" r="0.5" fill="#333" stroke="none" stroke-width="0"/><circle cx="639.2" cy="145.6" r="0.55" fill="#222" stroke="none" stroke-width="0"/><path d="M627.6 138.4 L634.6 135.2 L635.0 142.2 L628.0 145.6 Z" fill="none" stroke="#1f1f1f" stroke-width="1.2" /><path d="M629.4 139.8 L633.2 138.0 L633.4 141.4 L629.6 143.2 Z" fill="#888" stroke="#1f1f1f" stroke-width="0.5" /><circle cx="626.2" cy="137.6" r="0.6" fill="#222" stroke="none" stroke-width="0"/><circle cx="636.4" cy="133.4" r="0.6" fill="#222" stroke="none" stroke-width="0"/><circle cx="626.6" cy="146.6" r="0.6" fill="#222" stroke="none" stroke-width="0"/><circle cx="636.8" cy="143.0" r="0.6" fill="#222" stroke="none" stroke-width="0"/><circle cx="624.0" cy="142.0" r="0.6" fill="#222" stroke="none" stroke-width="0"/><circle cx="631.0" cy="133.6" r="0.6" fill="#222" stroke="none" stroke-width="0"/><circle cx="631.6" cy="147.2" r="0.6" fill="#222" stroke="none" stroke-width="0"/><circle cx="625.0" cy="150.0" r="0.6" fill="#222" stroke="none" stroke-width="0"/><circle cx="644.6" cy="127.6" r="0.55" fill="#222" stroke="none" stroke-width="0"/><circle cx="648.6" cy="129.8" r="0.5" fill="#333" stroke="none" stroke-width="0"/><circle cx="644.6" cy="131.0" r="0.55" fill="#222" stroke="none" stroke-width="0"/><circle cx="648.6" cy="133.1" r="0.5" fill="#333" stroke="none" stroke-width="0"/><circle cx="644.6" cy="134.4" r="0.55" fill="#222" stroke="none" stroke-width="0"/><circle cx="648.6" cy="136.4" r="0.5" fill="#333" stroke="none" stroke-width="0"/><circle cx="644.6" cy="137.8" r="0.55" fill="#222" stroke="none" stroke-width="0"/><circle cx="648.6" cy="139.7" r="0.5" fill="#333" stroke="none" stroke-width="0"/><circle cx="644.6" cy="141.2" r="0.55" fill="#222" stroke="none" stroke-width="0"/><circle cx="648.6" cy="143.0" r="0.5" fill="#333" stroke="none" stroke-width="0"/><circle cx="644.6" cy="144.6" r="0.55" fill="#222" stroke="none" stroke-width="0"/><circle cx="648.6" cy="146.3" r="0.5" fill="#333" stroke="none" stroke-width="0"/><path d="M642.0 124.4 L653.6 129.8" fill="none" stroke="#1f1f1f" stroke-width="0.5" /><path d="M652.4 129.4 L650.6 150.0" fill="none" stroke="#1f1f1f" stroke-width="0.5" /><path d="M643.0 123.6 L644.2 126.4" stroke="#1f1f1f" stroke-width="0.6" fill="none"/><path d="M645.4 124.7 L646.6 127.5" stroke="#1f1f1f" stroke-width="0.6" fill="none"/><path d="M647.8 125.8 L649.0 128.6" stroke="#1f1f1f" stroke-width="0.6" fill="none"/><path d="M650.2 126.9 L651.4 129.7" stroke="#1f1f1f" stroke-width="0.6" fill="none"/><path d="M652.6 128.0 L653.8 130.8" stroke="#1f1f1f" stroke-width="0.6" fill="none"/><ellipse cx="641.8" cy="152.0" rx="6.9" ry="9.2" fill="#161616" stroke="#161616" stroke-width="0.8" transform="rotate(8 641.8 152.0)"/><ellipse cx="643.6" cy="152.0" rx="5.4" ry="8.0" fill="#ddd" stroke="#1f1f1f" stroke-width="0.7" transform="rotate(8 643.6 152.0)"/><ellipse cx="643.9" cy="152.2" rx="3.4" ry="5.2" fill="none" stroke="#1f1f1f" stroke-width="1.0" transform="rotate(8 643.9 152.2)"/><ellipse cx="644.0" cy="152.4" rx="1.4" ry="2.1" fill="#777" stroke="#1f1f1f" stroke-width="0.9" transform="rotate(8 644.0 152.4)"/><path d="M643.8 146.8 L644.0 157.6" stroke="#1f1f1f" stroke-width="0.6" fill="none"/><path d="M640.6 151.4 L647.2 153.2" stroke="#1f1f1f" stroke-width="0.6" fill="none"/><path d="M648.6 146.0 L650.6 150.0 L650.0 159.0" fill="none" stroke="#1f1f1f" stroke-width="0.8" /><path d="M625.2 154.6 L626.8 164.6" stroke="#222" stroke-width="0.9" fill="none"/><path d="M626.8 164.6 L628.1 157.0" stroke="#444" stroke-width="0.6" fill="none"/><path d="M627.9 154.2 L629.5 164.1" stroke="#222" stroke-width="0.9" fill="none"/><path d="M629.5 164.1 L630.8 156.6" stroke="#444" stroke-width="0.6" fill="none"/><path d="M630.6 153.7 L632.2 163.6" stroke="#222" stroke-width="0.9" fill="none"/><path d="M632.2 163.6 L633.5 156.1" stroke="#444" stroke-width="0.6" fill="none"/><path d="M633.3 153.2 L634.9 163.1" stroke="#222" stroke-width="0.9" fill="none"/><path d="M634.9 163.1 L636.2 155.7" stroke="#444" stroke-width="0.6" fill="none"/><path d="M636.0 152.8 L637.6 162.6" stroke="#222" stroke-width="0.9" fill="none"/><path d="M637.6 162.6 L638.9 155.2" stroke="#444" stroke-width="0.6" fill="none"/><path d="M638.7 152.3 L640.3 162.1" stroke="#222" stroke-width="0.9" fill="none"/><path d="M640.3 162.1 L641.6 154.8" stroke="#444" stroke-width="0.6" fill="none"/><path d="M622.4 158.6 L640.0 154.4" fill="none" stroke="#333" stroke-width="0.6" /><path d="M594.0 151.8 L603.4 148.2 L624.4 156.6 L615.0 160.4 Z" fill="#fff" stroke="#1f1f1f" stroke-width="0.7" /><path d="M594.0 151.8 L615.0 160.4 L615.4 164.2 L594.0 155.6 Z" fill="#4a4a4a" stroke="#1f1f1f" stroke-width="0.6" /><path d="M615.0 160.4 L624.4 156.6 L624.6 160.4 L615.4 164.2 Z" fill="#8a8a8a" stroke="#1f1f1f" stroke-width="0.6" /><path d="M597.2 150.6 L618.2 159.1" fill="none" stroke="#2a2a2a" stroke-width="1.0" /><path d="M600.3 149.4 L621.3 157.9" fill="none" stroke="#2a2a2a" stroke-width="1.0" /><path d="M599.2 154.0 L608.6 150.3" fill="none" stroke="#333" stroke-width="0.9" /><path d="M604.5 156.1 L613.9 152.4" fill="none" stroke="#333" stroke-width="0.9" /><path d="M609.8 158.2 L619.1 154.5" fill="none" stroke="#333" stroke-width="0.9" /><path d="M596.5 153.6 L596.6 156.0" fill="none" stroke="#ddd" stroke-width="0.9" /><path d="M601.8 155.8 L601.9 158.2" fill="none" stroke="#ddd" stroke-width="0.9" /><path d="M607.0 157.9 L607.1 160.3" fill="none" stroke="#ddd" stroke-width="0.9" /><path d="M612.3 160.1 L612.4 162.5" fill="none" stroke="#ddd" stroke-width="0.9" /><path d="M594.0 152.6 L594.0 156.0 L613.0 163.4 L624.6 165.6" fill="none" stroke="#1f1f1f" stroke-width="0.9" /><path d="M651.8 160.4 L641.6 163.0 L625.6 165.8" fill="none" stroke="#1f1f1f" stroke-width="0.9" /></g>
<g><path d="M846.0 168.0 L872.0 165.5 L928.0 196.6 L929.2 216.0 L903.4 219.4 L848.0 188.2 Z" fill="#fff" stroke="#484848" stroke-width="0.8" /><path d="M846.0 168.0 L901.4 200.0 L903.4 219.4" fill="none" stroke="#484848" stroke-width="1.0" /><path d="M846.0 168.0 L872.0 165.5 L928.0 196.6" fill="none" stroke="#484848" stroke-width="1.0" /><path d="M849.6 171.8 L872.6 170.4 L925.6 200.2" fill="none" stroke="#484848" stroke-width="0.6" /><path d="M872.0 165.5 L872.6 170.4" fill="none" stroke="#484848" stroke-width="0.6" /><path d="M848.0 188.2 L903.4 219.4" fill="none" stroke="#484848" stroke-width="0.9" /><path d="M901.4 200.0 L903.6 203.6 L928.4 200.0" fill="none" stroke="#484848" stroke-width="0.7" /><path d="M903.4 214.4 L929.0 212.8" fill="none" stroke="#484848" stroke-width="0.7" /><path d="M911.0 203.4 L928.6 212.6" fill="none" stroke="#484848" stroke-width="0.55" /><path d="M928.0 196.6 L929.2 216.0" fill="none" stroke="#484848" stroke-width="1.2" /><path d="M899.4 199.4 L901.2 218.0" fill="none" stroke="#484848" stroke-width="0.6" /><path d="M869.0 184.4 L879.2 190.0 L881.0 204.4 L870.8 198.8 Z" fill="none" stroke="#484848" stroke-width="0.7" /><ellipse cx="873.8" cy="193.6" rx="2.6" ry="3.6" fill="none" stroke="#484848" stroke-width="1.0"/><ellipse cx="873.8" cy="193.4" rx="1.1" ry="1.6" fill="none" stroke="#484848" stroke-width="0.6"/><path d="M872.4 197.4 L875.4 199.2" fill="none" stroke="#484848" stroke-width="0.6" /><rect x="848.6" y="183.2" width="5.6" height="6.8" fill="#222"/><path d="M849.2 184.6 L853.6 184.6" stroke="#bbb" stroke-width="0.5" fill="none"/><path d="M849.2 186.8 L853.6 186.8" stroke="#bbb" stroke-width="0.5" fill="none"/><path d="M849.2 189.0 L853.6 189.0" stroke="#bbb" stroke-width="0.5" fill="none"/><rect x="890.4" y="206.4" width="5.8" height="7" fill="#222"/><path d="M891.0 207.8 L895.6 207.8" stroke="#bbb" stroke-width="0.5" fill="none"/><path d="M891.0 210.0 L895.6 210.0" stroke="#bbb" stroke-width="0.5" fill="none"/><path d="M891.0 212.2 L895.6 212.2" stroke="#bbb" stroke-width="0.5" fill="none"/><path d="M850.6 182.6 L851.4 179.6 L853.8 177.4 L855.0 178.6 L853.6 181.0 L853.4 183.0" fill="none" stroke="#484848" stroke-width="0.7" /><path d="M892.2 205.8 L893.4 202.4 L895.6 200.2 L897.0 201.6 L895.6 204.0 L895.4 206.4" fill="none" stroke="#484848" stroke-width="0.7" /></g>
<g transform="translate(9 119.3)"><path d="M846.0 168.0 L872.0 165.5 L928.0 196.6 L929.2 216.0 L903.4 219.4 L848.0 188.2 Z" fill="#fff" stroke="#484848" stroke-width="0.8" /><path d="M846.0 168.0 L901.4 200.0 L903.4 219.4" fill="none" stroke="#484848" stroke-width="1.0" /><path d="M846.0 168.0 L872.0 165.5 L928.0 196.6" fill="none" stroke="#484848" stroke-width="1.0" /><path d="M849.6 171.8 L872.6 170.4 L925.6 200.2" fill="none" stroke="#484848" stroke-width="0.6" /><path d="M872.0 165.5 L872.6 170.4" fill="none" stroke="#484848" stroke-width="0.6" /><path d="M848.0 188.2 L903.4 219.4" fill="none" stroke="#484848" stroke-width="0.9" /><path d="M901.4 200.0 L903.6 203.6 L928.4 200.0" fill="none" stroke="#484848" stroke-width="0.7" /><path d="M903.4 214.4 L929.0 212.8" fill="none" stroke="#484848" stroke-width="0.7" /><path d="M911.0 203.4 L928.6 212.6" fill="none" stroke="#484848" stroke-width="0.55" /><path d="M928.0 196.6 L929.2 216.0" fill="none" stroke="#484848" stroke-width="1.2" /><path d="M899.4 199.4 L901.2 218.0" fill="none" stroke="#484848" stroke-width="0.6" /><path d="M869.0 184.4 L879.2 190.0 L881.0 204.4 L870.8 198.8 Z" fill="none" stroke="#484848" stroke-width="0.7" /><ellipse cx="873.8" cy="193.6" rx="2.6" ry="3.6" fill="none" stroke="#484848" stroke-width="1.0"/><ellipse cx="873.8" cy="193.4" rx="1.1" ry="1.6" fill="none" stroke="#484848" stroke-width="0.6"/><path d="M872.4 197.4 L875.4 199.2" fill="none" stroke="#484848" stroke-width="0.6" /><rect x="848.6" y="183.2" width="5.6" height="6.8" fill="#222"/><path d="M849.2 184.6 L853.6 184.6" stroke="#bbb" stroke-width="0.5" fill="none"/><path d="M849.2 186.8 L853.6 186.8" stroke="#bbb" stroke-width="0.5" fill="none"/><path d="M849.2 189.0 L853.6 189.0" stroke="#bbb" stroke-width="0.5" fill="none"/><rect x="890.4" y="206.4" width="5.8" height="7" fill="#222"/><path d="M891.0 207.8 L895.6 207.8" stroke="#bbb" stroke-width="0.5" fill="none"/><path d="M891.0 210.0 L895.6 210.0" stroke="#bbb" stroke-width="0.5" fill="none"/><path d="M891.0 212.2 L895.6 212.2" stroke="#bbb" stroke-width="0.5" fill="none"/><path d="M850.6 182.6 L851.4 179.6 L853.8 177.4 L855.0 178.6 L853.6 181.0 L853.4 183.0" fill="none" stroke="#484848" stroke-width="0.7" /><path d="M892.2 205.8 L893.4 202.4 L895.6 200.2 L897.0 201.6 L895.6 204.0 L895.4 206.4" fill="none" stroke="#484848" stroke-width="0.7" /></g>
<g><path d="M1058.5 163.5 L1086.0 162.4 L1143.2 193.6 L1146.0 222.0 L1118.0 224.0 L1062.0 194.6 Z" fill="#fff" stroke="#404040" stroke-width="0.8" /><path d="M1058.5 163.5 L1086.0 162.4 L1143.2 193.6" fill="none" stroke="#404040" stroke-width="1.1" /><path d="M1058.5 163.5 L1117.0 196.0 L1118.2 224.0" fill="none" stroke="#404040" stroke-width="1.1" /><path d="M1058.5 163.5 L1062.0 194.6 L1118.2 224.0" fill="none" stroke="#404040" stroke-width="1.0" /><path d="M1062.6 166.0 L1086.6 165.0 L1087.2 167.6 L1140.6 197.0" fill="none" stroke="#404040" stroke-width="0.6" /><path d="M1066.4 168.4 L1087.2 167.6" fill="none" stroke="#404040" stroke-width="0.5" /><path d="M1086.0 162.4 L1086.6 165.0" fill="none" stroke="#404040" stroke-width="0.6" /><path d="M1117.0 196.0 L1118.6 198.8 L1144.0 197.0" fill="none" stroke="#404040" stroke-width="0.8" /><path d="M1118.2 207.4 L1145.0 207.8" fill="none" stroke="#404040" stroke-width="0.8" /><path d="M1118.2 220.4 L1146.0 219.4" fill="none" stroke="#404040" stroke-width="0.9" /><path d="M1143.2 193.6 L1146.0 222.0" fill="none" stroke="#444" stroke-width="1.3" /><path d="M1115.0 195.2 L1116.4 222.6" fill="none" stroke="#404040" stroke-width="0.6" /><path d="M1127.0 198.4 L1144.4 207.2" fill="none" stroke="#404040" stroke-width="0.55" /><path d="M1124.0 207.6 L1145.2 219.0" fill="none" stroke="#404040" stroke-width="0.55" /><path d="M1122.0 188.0 L1143.4 199.0" fill="none" stroke="#404040" stroke-width="0.5" /><rect x="1062.4" y="168.6" width="1.1" height="1.9" fill="#222"/><rect x="1064.6" y="169.8" width="1.1" height="1.9" fill="#222"/><rect x="1066.8" y="171.0" width="1.1" height="1.9" fill="#222"/><rect x="1069.0" y="172.2" width="1.1" height="1.9" fill="#222"/><rect x="1071.2" y="173.4" width="1.1" height="1.9" fill="#222"/><rect x="1073.4" y="174.6" width="1.1" height="1.9" fill="#222"/><rect x="1075.6" y="175.7" width="1.1" height="1.9" fill="#222"/><rect x="1077.8" y="176.9" width="1.1" height="1.9" fill="#222"/><rect x="1080.0" y="178.1" width="1.1" height="1.9" fill="#222"/><rect x="1082.2" y="179.3" width="1.1" height="1.9" fill="#222"/><rect x="1084.4" y="180.5" width="1.1" height="1.9" fill="#222"/><rect x="1086.6" y="181.7" width="1.1" height="1.9" fill="#222"/><rect x="1088.8" y="182.9" width="1.1" height="1.9" fill="#222"/><rect x="1091.0" y="184.1" width="1.1" height="1.9" fill="#222"/><rect x="1093.2" y="185.3" width="1.1" height="1.9" fill="#222"/><rect x="1095.4" y="186.5" width="1.1" height="1.9" fill="#222"/><rect x="1097.6" y="187.7" width="1.1" height="1.9" fill="#222"/><rect x="1099.8" y="188.9" width="1.1" height="1.9" fill="#222"/><rect x="1102.0" y="190.0" width="1.1" height="1.9" fill="#222"/><rect x="1104.2" y="191.2" width="1.1" height="1.9" fill="#222"/><rect x="1106.4" y="192.4" width="1.1" height="1.9" fill="#222"/><rect x="1108.6" y="193.6" width="1.1" height="1.9" fill="#222"/><rect x="1110.8" y="194.8" width="1.1" height="1.9" fill="#222"/><rect x="1113.0" y="196.0" width="1.1" height="1.9" fill="#222"/><rect x="1073.0" y="182.6" width="1" height="1" fill="#222"/><rect x="1074.4" y="183.4" width="1" height="1" fill="#222"/><rect x="1075.9" y="184.2" width="1" height="1" fill="#222"/><rect x="1077.3" y="185.0" width="1" height="1" fill="#222"/><rect x="1078.7" y="185.8" width="1" height="1" fill="#222"/><rect x="1080.1" y="186.6" width="1" height="1" fill="#222"/><rect x="1081.6" y="187.4" width="1" height="1" fill="#222"/><rect x="1083.0" y="188.2" width="1" height="1" fill="#222"/><rect x="1070.4" y="193.6" width="1" height="1.2" fill="#222"/><rect x="1073.1" y="195.0" width="1" height="1.2" fill="#222"/><rect x="1075.7" y="196.4" width="1" height="1.2" fill="#222"/><rect x="1078.4" y="197.8" width="1" height="1.2" fill="#222"/><rect x="1081.1" y="199.2" width="1" height="1.2" fill="#222"/><rect x="1091.7" y="204.8" width="1" height="1.2" fill="#222"/><rect x="1094.4" y="206.2" width="1" height="1.2" fill="#222"/><rect x="1097.1" y="207.6" width="1" height="1.2" fill="#222"/><rect x="1099.7" y="209.0" width="1" height="1.2" fill="#222"/><rect x="1102.4" y="210.4" width="1" height="1.2" fill="#222"/><rect x="1105.1" y="211.8" width="1" height="1.2" fill="#222"/><rect x="1107.7" y="213.2" width="1" height="1.2" fill="#222"/><rect x="1110.4" y="214.6" width="1" height="1.2" fill="#222"/><rect x="1098.0" y="194.4" width="1" height="1.1" fill="#222"/><rect x="1097.6" y="199.4" width="1" height="1" fill="#333"/><rect x="1100.2" y="195.6" width="1" height="1.1" fill="#222"/><rect x="1099.3" y="200.3" width="1" height="1" fill="#333"/><rect x="1102.3" y="196.8" width="1" height="1.1" fill="#222"/><rect x="1100.9" y="201.3" width="1" height="1" fill="#333"/><rect x="1104.5" y="198.0" width="1" height="1.1" fill="#222"/><rect x="1102.6" y="202.2" width="1" height="1" fill="#333"/><rect x="1106.7" y="199.2" width="1" height="1.1" fill="#222"/><rect x="1104.3" y="203.1" width="1" height="1" fill="#333"/><rect x="1108.8" y="200.4" width="1" height="1.1" fill="#222"/><rect x="1105.9" y="204.1" width="1" height="1" fill="#333"/><rect x="1111.0" y="201.6" width="1" height="1.1" fill="#222"/><rect x="1107.6" y="205.0" width="1" height="1" fill="#333"/><rect x="1071.0" y="178.6" width="1" height="1.2" fill="#222"/><rect x="1072.6" y="179.5" width="1" height="1.2" fill="#222"/><rect x="1074.2" y="180.3" width="1" height="1.2" fill="#222"/><rect x="1075.9" y="181.2" width="1" height="1.2" fill="#222"/><rect x="1077.5" y="182.1" width="1" height="1.2" fill="#222"/><rect x="1079.1" y="183.0" width="1" height="1.2" fill="#222"/><rect x="1080.8" y="183.8" width="1" height="1.2" fill="#222"/><rect x="1082.4" y="184.7" width="1" height="1.2" fill="#222"/><rect x="1084.0" y="185.6" width="1" height="1.2" fill="#222"/><rect x="1097.0" y="190.6" width="1.1" height="1.3" fill="#222"/><rect x="1099.1" y="191.7" width="1.1" height="1.3" fill="#222"/><rect x="1101.3" y="192.9" width="1.1" height="1.3" fill="#222"/><rect x="1103.4" y="194.0" width="1.1" height="1.3" fill="#222"/><rect x="1105.6" y="195.2" width="1.1" height="1.3" fill="#222"/><rect x="1107.7" y="196.3" width="1.1" height="1.3" fill="#222"/><rect x="1109.9" y="197.5" width="1.1" height="1.3" fill="#222"/><rect x="1112.0" y="198.6" width="1.1" height="1.3" fill="#222"/><path d="M1117.2 197.0 L1118.2 223.4" fill="none" stroke="#666" stroke-width="2.2" /><path d="M1084.4 188.4 L1094.6 193.4 L1095.4 208.6 L1085.0 203.4 Z" fill="none" stroke="#404040" stroke-width="0.7" /><ellipse cx="1088.2" cy="195.2" rx="2.9" ry="3.8" fill="#bbb" stroke="#404040" stroke-width="1.1"/><ellipse cx="1088.2" cy="195.2" rx="1.2" ry="1.7" fill="none" stroke="#404040" stroke-width="0.7"/><path d="M1086.6 200.0 L1090.8 201.6 L1090.2 205.0 L1087.0 203.6 Z" fill="none" stroke="#404040" stroke-width="0.6" /><circle cx="1091.0" cy="189.8" r="0.8" fill="#222" stroke="none" stroke-width="0"/><rect x="1062" y="187" width="6" height="7.4" fill="#222"/><path d="M1062.6 188.4 L1067.4 188.4" stroke="#bbb" stroke-width="0.5" fill="none"/><path d="M1062.6 190.6 L1067.4 190.6" stroke="#bbb" stroke-width="0.5" fill="none"/><path d="M1062.6 192.8 L1067.4 192.8" stroke="#bbb" stroke-width="0.5" fill="none"/><rect x="1105.4" y="210.8" width="6.4" height="7.6" fill="#222"/><path d="M1106.0 212.2 L1111.2 212.2" stroke="#bbb" stroke-width="0.5" fill="none"/><path d="M1106.0 214.4 L1111.2 214.4" stroke="#bbb" stroke-width="0.5" fill="none"/><path d="M1106.0 216.6 L1111.2 216.6" stroke="#bbb" stroke-width="0.5" fill="none"/><path d="M1064.4 186.4 L1065.2 183.0 L1067.8 180.6 L1069.2 182.0 L1067.6 184.4 L1067.4 187.0" fill="none" stroke="#404040" stroke-width="0.7" /><path d="M1107.4 210.2 L1108.6 206.4 L1111.2 203.6 L1112.8 205.2 L1111.0 207.8 L1110.8 210.8" fill="none" stroke="#404040" stroke-width="0.8" /><path d="M1060.4 179.4 L1062.4 179.8" fill="none" stroke="#404040" stroke-width="0.6" /></g>
<g transform="translate(2 162.5)"><path d="M1058.5 163.5 L1086.0 162.4 L1143.2 193.6 L1146.0 222.0 L1118.0 224.0 L1062.0 194.6 Z" fill="#fff" stroke="#404040" stroke-width="0.8" /><path d="M1058.5 163.5 L1086.0 162.4 L1143.2 193.6" fill="none" stroke="#404040" stroke-width="1.1" /><path d="M1058.5 163.5 L1117.0 196.0 L1118.2 224.0" fill="none" stroke="#404040" stroke-width="1.1" /><path d="M1058.5 163.5 L1062.0 194.6 L1118.2 224.0" fill="none" stroke="#404040" stroke-width="1.0" /><path d="M1062.6 166.0 L1086.6 165.0 L1087.2 167.6 L1140.6 197.0" fill="none" stroke="#404040" stroke-width="0.6" /><path d="M1066.4 168.4 L1087.2 167.6" fill="none" stroke="#404040" stroke-width="0.5" /><path d="M1086.0 162.4 L1086.6 165.0" fill="none" stroke="#404040" stroke-width="0.6" /><path d="M1117.0 196.0 L1118.6 198.8 L1144.0 197.0" fill="none" stroke="#404040" stroke-width="0.8" /><path d="M1118.2 207.4 L1145.0 207.8" fill="none" stroke="#404040" stroke-width="0.8" /><path d="M1118.2 220.4 L1146.0 219.4" fill="none" stroke="#404040" stroke-width="0.9" /><path d="M1143.2 193.6 L1146.0 222.0" fill="none" stroke="#444" stroke-width="1.3" /><path d="M1115.0 195.2 L1116.4 222.6" fill="none" stroke="#404040" stroke-width="0.6" /><path d="M1127.0 198.4 L1144.4 207.2" fill="none" stroke="#404040" stroke-width="0.55" /><path d="M1124.0 207.6 L1145.2 219.0" fill="none" stroke="#404040" stroke-width="0.55" /><path d="M1122.0 188.0 L1143.4 199.0" fill="none" stroke="#404040" stroke-width="0.5" /><rect x="1062.4" y="168.6" width="1.1" height="1.9" fill="#222"/><rect x="1064.6" y="169.8" width="1.1" height="1.9" fill="#222"/><rect x="1066.8" y="171.0" width="1.1" height="1.9" fill="#222"/><rect x="1069.0" y="172.2" width="1.1" height="1.9" fill="#222"/><rect x="1071.2" y="173.4" width="1.1" height="1.9" fill="#222"/><rect x="1073.4" y="174.6" width="1.1" height="1.9" fill="#222"/><rect x="1075.6" y="175.7" width="1.1" height="1.9" fill="#222"/><rect x="1077.8" y="176.9" width="1.1" height="1.9" fill="#222"/><rect x="1080.0" y="178.1" width="1.1" height="1.9" fill="#222"/><rect x="1082.2" y="179.3" width="1.1" height="1.9" fill="#222"/><rect x="1084.4" y="180.5" width="1.1" height="1.9" fill="#222"/><rect x="1086.6" y="181.7" width="1.1" height="1.9" fill="#222"/><rect x="1088.8" y="182.9" width="1.1" height="1.9" fill="#222"/><rect x="1091.0" y="184.1" width="1.1" height="1.9" fill="#222"/><rect x="1093.2" y="185.3" width="1.1" height="1.9" fill="#222"/><rect x="1095.4" y="186.5" width="1.1" height="1.9" fill="#222"/><rect x="1097.6" y="187.7" width="1.1" height="1.9" fill="#222"/><rect x="1099.8" y="188.9" width="1.1" height="1.9" fill="#222"/><rect x="1102.0" y="190.0" width="1.1" height="1.9" fill="#222"/><rect x="1104.2" y="191.2" width="1.1" height="1.9" fill="#222"/><rect x="1106.4" y="192.4" width="1.1" height="1.9" fill="#222"/><rect x="1108.6" y="193.6" width="1.1" height="1.9" fill="#222"/><rect x="1110.8" y="194.8" width="1.1" height="1.9" fill="#222"/><rect x="1113.0" y="196.0" width="1.1" height="1.9" fill="#222"/><rect x="1073.0" y="182.6" width="1" height="1" fill="#222"/><rect x="1074.4" y="183.4" width="1" height="1" fill="#222"/><rect x="1075.9" y="184.2" width="1" height="1" fill="#222"/><rect x="1077.3" y="185.0" width="1" height="1" fill="#222"/><rect x="1078.7" y="185.8" width="1" height="1" fill="#222"/><rect x="1080.1" y="186.6" width="1" height="1" fill="#222"/><rect x="1081.6" y="187.4" width="1" height="1" fill="#222"/><rect x="1083.0" y="188.2" width="1" height="1" fill="#222"/><rect x="1070.4" y="193.6" width="1" height="1.2" fill="#222"/><rect x="1073.1" y="195.0" width="1" height="1.2" fill="#222"/><rect x="1075.7" y="196.4" width="1" height="1.2" fill="#222"/><rect x="1078.4" y="197.8" width="1" height="1.2" fill="#222"/><rect x="1081.1" y="199.2" width="1" height="1.2" fill="#222"/><rect x="1091.7" y="204.8" width="1" height="1.2" fill="#222"/><rect x="1094.4" y="206.2" width="1" height="1.2" fill="#222"/><rect x="1097.1" y="207.6" width="1" height="1.2" fill="#222"/><rect x="1099.7" y="209.0" width="1" height="1.2" fill="#222"/><rect x="1102.4" y="210.4" width="1" height="1.2" fill="#222"/><rect x="1105.1" y="211.8" width="1" height="1.2" fill="#222"/><rect x="1107.7" y="213.2" width="1" height="1.2" fill="#222"/><rect x="1110.4" y="214.6" width="1" height="1.2" fill="#222"/><rect x="1098.0" y="194.4" width="1" height="1.1" fill="#222"/><rect x="1097.6" y="199.4" width="1" height="1" fill="#333"/><rect x="1100.2" y="195.6" width="1" height="1.1" fill="#222"/><rect x="1099.3" y="200.3" width="1" height="1" fill="#333"/><rect x="1102.3" y="196.8" width="1" height="1.1" fill="#222"/><rect x="1100.9" y="201.3" width="1" height="1" fill="#333"/><rect x="1104.5" y="198.0" width="1" height="1.1" fill="#222"/><rect x="1102.6" y="202.2" width="1" height="1" fill="#333"/><rect x="1106.7" y="199.2" width="1" height="1.1" fill="#222"/><rect x="1104.3" y="203.1" width="1" height="1" fill="#333"/><rect x="1108.8" y="200.4" width="1" height="1.1" fill="#222"/><rect x="1105.9" y="204.1" width="1" height="1" fill="#333"/><rect x="1111.0" y="201.6" width="1" height="1.1" fill="#222"/><rect x="1107.6" y="205.0" width="1" height="1" fill="#333"/><rect x="1071.0" y="178.6" width="1" height="1.2" fill="#222"/><rect x="1072.6" y="179.5" width="1" height="1.2" fill="#222"/><rect x="1074.2" y="180.3" width="1" height="1.2" fill="#222"/><rect x="1075.9" y="181.2" width="1" height="1.2" fill="#222"/><rect x="1077.5" y="182.1" width="1" height="1.2" fill="#222"/><rect x="1079.1" y="183.0" width="1" height="1.2" fill="#222"/><rect x="1080.8" y="183.8" width="1" height="1.2" fill="#222"/><rect x="1082.4" y="184.7" width="1" height="1.2" fill="#222"/><rect x="1084.0" y="185.6" width="1" height="1.2" fill="#222"/><rect x="1097.0" y="190.6" width="1.1" height="1.3" fill="#222"/><rect x="1099.1" y="191.7" width="1.1" height="1.3" fill="#222"/><rect x="1101.3" y="192.9" width="1.1" height="1.3" fill="#222"/><rect x="1103.4" y="194.0" width="1.1" height="1.3" fill="#222"/><rect x="1105.6" y="195.2" width="1.1" height="1.3" fill="#222"/><rect x="1107.7" y="196.3" width="1.1" height="1.3" fill="#222"/><rect x="1109.9" y="197.5" width="1.1" height="1.3" fill="#222"/><rect x="1112.0" y="198.6" width="1.1" height="1.3" fill="#222"/><path d="M1117.2 197.0 L1118.2 223.4" fill="none" stroke="#666" stroke-width="2.2" /><path d="M1084.4 188.4 L1094.6 193.4 L1095.4 208.6 L1085.0 203.4 Z" fill="none" stroke="#404040" stroke-width="0.7" /><ellipse cx="1088.2" cy="195.2" rx="2.9" ry="3.8" fill="#bbb" stroke="#404040" stroke-width="1.1"/><ellipse cx="1088.2" cy="195.2" rx="1.2" ry="1.7" fill="none" stroke="#404040" stroke-width="0.7"/><path d="M1086.6 200.0 L1090.8 201.6 L1090.2 205.0 L1087.0 203.6 Z" fill="none" stroke="#404040" stroke-width="0.6" /><circle cx="1091.0" cy="189.8" r="0.8" fill="#222" stroke="none" stroke-width="0"/><rect x="1062" y="187" width="6" height="7.4" fill="#222"/><path d="M1062.6 188.4 L1067.4 188.4" stroke="#bbb" stroke-width="0.5" fill="none"/><path d="M1062.6 190.6 L1067.4 190.6" stroke="#bbb" stroke-width="0.5" fill="none"/><path d="M1062.6 192.8 L1067.4 192.8" stroke="#bbb" stroke-width="0.5" fill="none"/><rect x="1105.4" y="210.8" width="6.4" height="7.6" fill="#222"/><path d="M1106.0 212.2 L1111.2 212.2" stroke="#bbb" stroke-width="0.5" fill="none"/><path d="M1106.0 214.4 L1111.2 214.4" stroke="#bbb" stroke-width="0.5" fill="none"/><path d="M1106.0 216.6 L1111.2 216.6" stroke="#bbb" stroke-width="0.5" fill="none"/><path d="M1064.4 186.4 L1065.2 183.0 L1067.8 180.6 L1069.2 182.0 L1067.6 184.4 L1067.4 187.0" fill="none" stroke="#404040" stroke-width="0.7" /><path d="M1107.4 210.2 L1108.6 206.4 L1111.2 203.6 L1112.8 205.2 L1111.0 207.8 L1110.8 210.8" fill="none" stroke="#404040" stroke-width="0.8" /><path d="M1060.4 179.4 L1062.4 179.8" fill="none" stroke="#404040" stroke-width="0.6" /></g>
<g><path d="M1184.6 237.6 L1222.0 237.6" fill="none" stroke="#1f1f1f" stroke-width="1.0" /><path d="M1184.6 237.6 L1184.8 241.0 L1202.0 241.0 L1202.0 238.0" fill="none" stroke="#1f1f1f" stroke-width="0.7" /><path d="M1185.0 241.0 L1189.2 255.6" fill="none" stroke="#1f1f1f" stroke-width="0.9" /><path d="M1186.6 241.4 L1192.0 253.0" fill="none" stroke="#1f1f1f" stroke-width="0.5" /><path d="M1188.0 256.4 L1280.4 231.4" fill="none" stroke="#1f1f1f" stroke-width="1.0" /><path d="M1189.0 252.4 L1278.4 228.2" fill="none" stroke="#1f1f1f" stroke-width="0.7" /><path d="M1202.0 241.2 L1224.0 237.0 L1270.0 223.0" fill="none" stroke="#1f1f1f" stroke-width="0.8" /><path d="M1190.0 246.0 L1224.0 239.4 L1268.0 226.0" fill="none" stroke="#1f1f1f" stroke-width="0.5" /><path d="M1192.0 255.0 L1192.9 246.4" stroke="#2a2a2a" stroke-width="0.8" fill="none"/><path d="M1192.9 247.0 L1195.3 250.8" stroke="#3a3a3a" stroke-width="0.6" fill="none"/><path d="M1190.6 248.8 L1192.9 247.0" stroke="#3a3a3a" stroke-width="0.6" fill="none"/><circle cx="1192.9" cy="246.4" r="0.65" fill="#1a1a1a" stroke="none" stroke-width="0"/><path d="M1196.3 253.8 L1197.2 244.6" stroke="#2a2a2a" stroke-width="0.8" fill="none"/><path d="M1197.2 245.2 L1199.6 249.6" stroke="#3a3a3a" stroke-width="0.6" fill="none"/><path d="M1194.9 247.0 L1197.2 245.2" stroke="#3a3a3a" stroke-width="0.6" fill="none"/><circle cx="1197.2" cy="244.6" r="0.65" fill="#1a1a1a" stroke="none" stroke-width="0"/><path d="M1200.7 252.6 L1201.6 242.7" stroke="#2a2a2a" stroke-width="0.8" fill="none"/><path d="M1201.6 243.3 L1204.0 248.4" stroke="#3a3a3a" stroke-width="0.6" fill="none"/><path d="M1199.3 245.1 L1201.6 243.3" stroke="#3a3a3a" stroke-width="0.6" fill="none"/><circle cx="1201.6" cy="242.7" r="0.65" fill="#1a1a1a" stroke="none" stroke-width="0"/><path d="M1205.0 251.5 L1205.9 241.1" stroke="#2a2a2a" stroke-width="0.8" fill="none"/><path d="M1205.9 241.7 L1208.3 247.3" stroke="#3a3a3a" stroke-width="0.6" fill="none"/><path d="M1203.6 243.5 L1205.9 241.7" stroke="#3a3a3a" stroke-width="0.6" fill="none"/><circle cx="1205.9" cy="241.1" r="0.65" fill="#1a1a1a" stroke="none" stroke-width="0"/><path d="M1209.3 250.3 L1210.2 239.9" stroke="#2a2a2a" stroke-width="0.8" fill="none"/><path d="M1210.2 240.5 L1212.6 246.1" stroke="#3a3a3a" stroke-width="0.6" fill="none"/><path d="M1207.9 242.3 L1210.2 240.5" stroke="#3a3a3a" stroke-width="0.6" fill="none"/><circle cx="1210.2" cy="239.9" r="0.65" fill="#1a1a1a" stroke="none" stroke-width="0"/><path d="M1213.7 249.1 L1214.6 238.7" stroke="#2a2a2a" stroke-width="0.8" fill="none"/><path d="M1214.6 239.3 L1217.0 244.9" stroke="#3a3a3a" stroke-width="0.6" fill="none"/><path d="M1212.3 241.1 L1214.6 239.3" stroke="#3a3a3a" stroke-width="0.6" fill="none"/><circle cx="1214.6" cy="238.7" r="0.65" fill="#1a1a1a" stroke="none" stroke-width="0"/><path d="M1218.0 247.9 L1218.9 237.5" stroke="#2a2a2a" stroke-width="0.8" fill="none"/><path d="M1218.9 238.1 L1221.3 243.7" stroke="#3a3a3a" stroke-width="0.6" fill="none"/><path d="M1216.6 239.9 L1218.9 238.1" stroke="#3a3a3a" stroke-width="0.6" fill="none"/><circle cx="1218.9" cy="237.5" r="0.65" fill="#1a1a1a" stroke="none" stroke-width="0"/><path d="M1222.3 246.8 L1223.2 236.4" stroke="#2a2a2a" stroke-width="0.8" fill="none"/><path d="M1223.2 237.0 L1225.6 242.6" stroke="#3a3a3a" stroke-width="0.6" fill="none"/><path d="M1220.9 238.8 L1223.2 237.0" stroke="#3a3a3a" stroke-width="0.6" fill="none"/><circle cx="1223.2" cy="236.4" r="0.65" fill="#1a1a1a" stroke="none" stroke-width="0"/><path d="M1226.7 245.6 L1227.6 235.2" stroke="#2a2a2a" stroke-width="0.8" fill="none"/><path d="M1227.6 235.8 L1230.0 241.4" stroke="#3a3a3a" stroke-width="0.6" fill="none"/><path d="M1225.3 237.6 L1227.6 235.8" stroke="#3a3a3a" stroke-width="0.6" fill="none"/><circle cx="1227.6" cy="235.2" r="0.65" fill="#1a1a1a" stroke="none" stroke-width="0"/><path d="M1231.0 244.4 L1231.9 234.0" stroke="#2a2a2a" stroke-width="0.8" fill="none"/><path d="M1231.9 234.6 L1234.3 240.2" stroke="#3a3a3a" stroke-width="0.6" fill="none"/><path d="M1229.6 236.4 L1231.9 234.6" stroke="#3a3a3a" stroke-width="0.6" fill="none"/><circle cx="1231.9" cy="234.0" r="0.65" fill="#1a1a1a" stroke="none" stroke-width="0"/><path d="M1235.3 243.2 L1236.2 232.8" stroke="#2a2a2a" stroke-width="0.8" fill="none"/><path d="M1236.2 233.4 L1238.6 239.0" stroke="#3a3a3a" stroke-width="0.6" fill="none"/><path d="M1233.9 235.2 L1236.2 233.4" stroke="#3a3a3a" stroke-width="0.6" fill="none"/><circle cx="1236.2" cy="232.8" r="0.65" fill="#1a1a1a" stroke="none" stroke-width="0"/><path d="M1239.7 242.0 L1240.6 231.6" stroke="#2a2a2a" stroke-width="0.8" fill="none"/><path d="M1240.6 232.2 L1243.0 237.8" stroke="#3a3a3a" stroke-width="0.6" fill="none"/><path d="M1238.3 234.0 L1240.6 232.2" stroke="#3a3a3a" stroke-width="0.6" fill="none"/><circle cx="1240.6" cy="231.6" r="0.65" fill="#1a1a1a" stroke="none" stroke-width="0"/><path d="M1244.0 240.9 L1244.9 230.5" stroke="#2a2a2a" stroke-width="0.8" fill="none"/><path d="M1244.9 231.1 L1247.3 236.7" stroke="#3a3a3a" stroke-width="0.6" fill="none"/><path d="M1242.6 232.9 L1244.9 231.1" stroke="#3a3a3a" stroke-width="0.6" fill="none"/><circle cx="1244.9" cy="230.5" r="0.65" fill="#1a1a1a" stroke="none" stroke-width="0"/><path d="M1248.3 239.7 L1249.2 229.3" stroke="#2a2a2a" stroke-width="0.8" fill="none"/><path d="M1249.2 229.9 L1251.6 235.5" stroke="#3a3a3a" stroke-width="0.6" fill="none"/><path d="M1246.9 231.7 L1249.2 229.9" stroke="#3a3a3a" stroke-width="0.6" fill="none"/><circle cx="1249.2" cy="229.3" r="0.65" fill="#1a1a1a" stroke="none" stroke-width="0"/><path d="M1252.7 238.5 L1253.6 228.1" stroke="#2a2a2a" stroke-width="0.8" fill="none"/><path d="M1253.6 228.7 L1256.0 234.3" stroke="#3a3a3a" stroke-width="0.6" fill="none"/><path d="M1251.3 230.5 L1253.6 228.7" stroke="#3a3a3a" stroke-width="0.6" fill="none"/><circle cx="1253.6" cy="228.1" r="0.65" fill="#1a1a1a" stroke="none" stroke-width="0"/><path d="M1257.0 237.3 L1257.9 226.9" stroke="#2a2a2a" stroke-width="0.8" fill="none"/><path d="M1257.9 227.5 L1260.3 233.1" stroke="#3a3a3a" stroke-width="0.6" fill="none"/><path d="M1255.6 229.3 L1257.9 227.5" stroke="#3a3a3a" stroke-width="0.6" fill="none"/><circle cx="1257.9" cy="226.9" r="0.65" fill="#1a1a1a" stroke="none" stroke-width="0"/><path d="M1261.3 236.2 L1262.2 225.8" stroke="#2a2a2a" stroke-width="0.8" fill="none"/><path d="M1262.2 226.4 L1264.6 232.0" stroke="#3a3a3a" stroke-width="0.6" fill="none"/><path d="M1259.9 228.2 L1262.2 226.4" stroke="#3a3a3a" stroke-width="0.6" fill="none"/><circle cx="1262.2" cy="225.8" r="0.65" fill="#1a1a1a" stroke="none" stroke-width="0"/><path d="M1265.7 235.0 L1266.6 224.6" stroke="#2a2a2a" stroke-width="0.8" fill="none"/><path d="M1266.6 225.2 L1269.0 230.8" stroke="#3a3a3a" stroke-width="0.6" fill="none"/><path d="M1264.3 227.0 L1266.6 225.2" stroke="#3a3a3a" stroke-width="0.6" fill="none"/><circle cx="1266.6" cy="224.6" r="0.65" fill="#1a1a1a" stroke="none" stroke-width="0"/><path d="M1270.0 233.8 L1270.9 223.4" stroke="#2a2a2a" stroke-width="0.8" fill="none"/><path d="M1270.9 224.0 L1273.3 229.6" stroke="#3a3a3a" stroke-width="0.6" fill="none"/><path d="M1268.6 225.8 L1270.9 224.0" stroke="#3a3a3a" stroke-width="0.6" fill="none"/><circle cx="1270.9" cy="223.4" r="0.65" fill="#1a1a1a" stroke="none" stroke-width="0"/><path d="M1224.2 231.6 L1224.6 240.6" stroke="#1f1f1f" stroke-width="1.4" fill="none"/><path d="M1222.4 239.6 L1227.0 238.6" stroke="#1f1f1f" stroke-width="0.8" fill="none"/><path d="M1186.4 250.0 L1188.4 249.4 L1190.0 255.0 L1188.0 255.8 Z" fill="#222" stroke="#1f1f1f" stroke-width="0.5" /><path d="M1188.6 256.6 L1193.0 257.4" stroke="#1f1f1f" stroke-width="0.9" fill="none"/><path d="M1266.6 224.6 L1269.0 217.4 L1276.0 216.4 L1279.4 229.4 L1274.0 232.2 L1268.0 230.0 Z" fill="#777" stroke="#1f1f1f" stroke-width="0.7" /><path d="M1268.4 222.0 L1277.0 219.6" stroke="#1f1f1f" stroke-width="1.2" fill="none"/><path d="M1269.0 226.4 L1278.4 224.6" stroke="#1f1f1f" stroke-width="1.2" fill="none"/><path d="M1272.4 217.4 L1274.4 231.0" stroke="#1f1f1f" stroke-width="1.0" fill="none"/><circle cx="1271.2" cy="220.6" r="1.3" fill="#fff" stroke="none" stroke-width="0"/><circle cx="1275.0" cy="224.6" r="1.1" fill="#ddd" stroke="none" stroke-width="0"/><path d="M1264.0 226.6 L1270.0 224.6 L1271.0 229.0" fill="none" stroke="#1f1f1f" stroke-width="0.7" /><path d="M1276.8 217.0 L1280.2 230.6" stroke="#1f1f1f" stroke-width="1.3" fill="none"/><path d="M1261.4 236.4 L1266.4 235.2 L1266.8 236.6 L1261.8 237.8 Z" fill="#bbb" stroke="#1f1f1f" stroke-width="0.5" /></g>
<g transform="translate(5 154.6)"><path d="M1184.6 237.6 L1222.0 237.6" fill="none" stroke="#1f1f1f" stroke-width="1.0" /><path d="M1184.6 237.6 L1184.8 241.0 L1202.0 241.0 L1202.0 238.0" fill="none" stroke="#1f1f1f" stroke-width="0.7" /><path d="M1185.0 241.0 L1189.2 255.6" fill="none" stroke="#1f1f1f" stroke-width="0.9" /><path d="M1186.6 241.4 L1192.0 253.0" fill="none" stroke="#1f1f1f" stroke-width="0.5" /><path d="M1188.0 256.4 L1280.4 231.4" fill="none" stroke="#1f1f1f" stroke-width="1.0" /><path d="M1189.0 252.4 L1278.4 228.2" fill="none" stroke="#1f1f1f" stroke-width="0.7" /><path d="M1202.0 241.2 L1224.0 237.0 L1270.0 223.0" fill="none" stroke="#1f1f1f" stroke-width="0.8" /><path d="M1190.0 246.0 L1224.0 239.4 L1268.0 226.0" fill="none" stroke="#1f1f1f" stroke-width="0.5" /><path d="M1192.0 255.0 L1192.9 246.4" stroke="#2a2a2a" stroke-width="0.8" fill="none"/><path d="M1192.9 247.0 L1195.3 250.8" stroke="#3a3a3a" stroke-width="0.6" fill="none"/><path d="M1190.6 248.8 L1192.9 247.0" stroke="#3a3a3a" stroke-width="0.6" fill="none"/><circle cx="1192.9" cy="246.4" r="0.65" fill="#1a1a1a" stroke="none" stroke-width="0"/><path d="M1196.3 253.8 L1197.2 244.6" stroke="#2a2a2a" stroke-width="0.8" fill="none"/><path d="M1197.2 245.2 L1199.6 249.6" stroke="#3a3a3a" stroke-width="0.6" fill="none"/><path d="M1194.9 247.0 L1197.2 245.2" stroke="#3a3a3a" stroke-width="0.6" fill="none"/><circle cx="1197.2" cy="244.6" r="0.65" fill="#1a1a1a" stroke="none" stroke-width="0"/><path d="M1200.7 252.6 L1201.6 242.7" stroke="#2a2a2a" stroke-width="0.8" fill="none"/><path d="M1201.6 243.3 L1204.0 248.4" stroke="#3a3a3a" stroke-width="0.6" fill="none"/><path d="M1199.3 245.1 L1201.6 243.3" stroke="#3a3a3a" stroke-width="0.6" fill="none"/><circle cx="1201.6" cy="242.7" r="0.65" fill="#1a1a1a" stroke="none" stroke-width="0"/><path d="M1205.0 251.5 L1205.9 241.1" stroke="#2a2a2a" stroke-width="0.8" fill="none"/><path d="M1205.9 241.7 L1208.3 247.3" stroke="#3a3a3a" stroke-width="0.6" fill="none"/><path d="M1203.6 243.5 L1205.9 241.7" stroke="#3a3a3a" stroke-width="0.6" fill="none"/><circle cx="1205.9" cy="241.1" r="0.65" fill="#1a1a1a" stroke="none" stroke-width="0"/><path d="M1209.3 250.3 L1210.2 239.9" stroke="#2a2a2a" stroke-width="0.8" fill="none"/><path d="M1210.2 240.5 L1212.6 246.1" stroke="#3a3a3a" stroke-width="0.6" fill="none"/><path d="M1207.9 242.3 L1210.2 240.5" stroke="#3a3a3a" stroke-width="0.6" fill="none"/><circle cx="1210.2" cy="239.9" r="0.65" fill="#1a1a1a" stroke="none" stroke-width="0"/><path d="M1213.7 249.1 L1214.6 238.7" stroke="#2a2a2a" stroke-width="0.8" fill="none"/><path d="M1214.6 239.3 L1217.0 244.9" stroke="#3a3a3a" stroke-width="0.6" fill="none"/><path d="M1212.3 241.1 L1214.6 239.3" stroke="#3a3a3a" stroke-width="0.6" fill="none"/><circle cx="1214.6" cy="238.7" r="0.65" fill="#1a1a1a" stroke="none" stroke-width="0"/><path d="M1218.0 247.9 L1218.9 237.5" stroke="#2a2a2a" stroke-width="0.8" fill="none"/><path d="M1218.9 238.1 L1221.3 243.7" stroke="#3a3a3a" stroke-width="0.6" fill="none"/><path d="M1216.6 239.9 L1218.9 238.1" stroke="#3a3a3a" stroke-width="0.6" fill="none"/><circle cx="1218.9" cy="237.5" r="0.65" fill="#1a1a1a" stroke="none" stroke-width="0"/><path d="M1222.3 246.8 L1223.2 236.4" stroke="#2a2a2a" stroke-width="0.8" fill="none"/><path d="M1223.2 237.0 L1225.6 242.6" stroke="#3a3a3a" stroke-width="0.6" fill="none"/><path d="M1220.9 238.8 L1223.2 237.0" stroke="#3a3a3a" stroke-width="0.6" fill="none"/><circle cx="1223.2" cy="236.4" r="0.65" fill="#1a1a1a" stroke="none" stroke-width="0"/><path d="M1226.7 245.6 L1227.6 235.2" stroke="#2a2a2a" stroke-width="0.8" fill="none"/><path d="M1227.6 235.8 L1230.0 241.4" stroke="#3a3a3a" stroke-width="0.6" fill="none"/><path d="M1225.3 237.6 L1227.6 235.8" stroke="#3a3a3a" stroke-width="0.6" fill="none"/><circle cx="1227.6" cy="235.2" r="0.65" fill="#1a1a1a" stroke="none" stroke-width="0"/><path d="M1231.0 244.4 L1231.9 234.0" stroke="#2a2a2a" stroke-width="0.8" fill="none"/><path d="M1231.9 234.6 L1234.3 240.2" stroke="#3a3a3a" stroke-width="0.6" fill="none"/><path d="M1229.6 236.4 L1231.9 234.6" stroke="#3a3a3a" stroke-width="0.6" fill="none"/><circle cx="1231.9" cy="234.0" r="0.65" fill="#1a1a1a" stroke="none" stroke-width="0"/><path d="M1235.3 243.2 L1236.2 232.8" stroke="#2a2a2a" stroke-width="0.8" fill="none"/><path d="M1236.2 233.4 L1238.6 239.0" stroke="#3a3a3a" stroke-width="0.6" fill="none"/><path d="M1233.9 235.2 L1236.2 233.4" stroke="#3a3a3a" stroke-width="0.6" fill="none"/><circle cx="1236.2" cy="232.8" r="0.65" fill="#1a1a1a" stroke="none" stroke-width="0"/><path d="M1239.7 242.0 L1240.6 231.6" stroke="#2a2a2a" stroke-width="0.8" fill="none"/><path d="M1240.6 232.2 L1243.0 237.8" stroke="#3a3a3a" stroke-width="0.6" fill="none"/><path d="M1238.3 234.0 L1240.6 232.2" stroke="#3a3a3a" stroke-width="0.6" fill="none"/><circle cx="1240.6" cy="231.6" r="0.65" fill="#1a1a1a" stroke="none" stroke-width="0"/><path d="M1244.0 240.9 L1244.9 230.5" stroke="#2a2a2a" stroke-width="0.8" fill="none"/><path d="M1244.9 231.1 L1247.3 236.7" stroke="#3a3a3a" stroke-width="0.6" fill="none"/><path d="M1242.6 232.9 L1244.9 231.1" stroke="#3a3a3a" stroke-width="0.6" fill="none"/><circle cx="1244.9" cy="230.5" r="0.65" fill="#1a1a1a" stroke="none" stroke-width="0"/><path d="M1248.3 239.7 L1249.2 229.3" stroke="#2a2a2a" stroke-width="0.8" fill="none"/><path d="M1249.2 229.9 L1251.6 235.5" stroke="#3a3a3a" stroke-width="0.6" fill="none"/><path d="M1246.9 231.7 L1249.2 229.9" stroke="#3a3a3a" stroke-width="0.6" fill="none"/><circle cx="1249.2" cy="229.3" r="0.65" fill="#1a1a1a" stroke="none" stroke-width="0"/><path d="M1252.7 238.5 L1253.6 228.1" stroke="#2a2a2a" stroke-width="0.8" fill="none"/><path d="M1253.6 228.7 L1256.0 234.3" stroke="#3a3a3a" stroke-width="0.6" fill="none"/><path d="M1251.3 230.5 L1253.6 228.7" stroke="#3a3a3a" stroke-width="0.6" fill="none"/><circle cx="1253.6" cy="228.1" r="0.65" fill="#1a1a1a" stroke="none" stroke-width="0"/><path d="M1257.0 237.3 L1257.9 226.9" stroke="#2a2a2a" stroke-width="0.8" fill="none"/><path d="M1257.9 227.5 L1260.3 233.1" stroke="#3a3a3a" stroke-width="0.6" fill="none"/><path d="M1255.6 229.3 L1257.9 227.5" stroke="#3a3a3a" stroke-width="0.6" fill="none"/><circle cx="1257.9" cy="226.9" r="0.65" fill="#1a1a1a" stroke="none" stroke-width="0"/><path d="M1261.3 236.2 L1262.2 225.8" stroke="#2a2a2a" stroke-width="0.8" fill="none"/><path d="M1262.2 226.4 L1264.6 232.0" stroke="#3a3a3a" stroke-width="0.6" fill="none"/><path d="M1259.9 228.2 L1262.2 226.4" stroke="#3a3a3a" stroke-width="0.6" fill="none"/><circle cx="1262.2" cy="225.8" r="0.65" fill="#1a1a1a" stroke="none" stroke-width="0"/><path d="M1265.7 235.0 L1266.6 224.6" stroke="#2a2a2a" stroke-width="0.8" fill="none"/><path d="M1266.6 225.2 L1269.0 230.8" stroke="#3a3a3a" stroke-width="0.6" fill="none"/><path d="M1264.3 227.0 L1266.6 225.2" stroke="#3a3a3a" stroke-width="0.6" fill="none"/><circle cx="1266.6" cy="224.6" r="0.65" fill="#1a1a1a" stroke="none" stroke-width="0"/><path d="M1270.0 233.8 L1270.9 223.4" stroke="#2a2a2a" stroke-width="0.8" fill="none"/><path d="M1270.9 224.0 L1273.3 229.6" stroke="#3a3a3a" stroke-width="0.6" fill="none"/><path d="M1268.6 225.8 L1270.9 224.0" stroke="#3a3a3a" stroke-width="0.6" fill="none"/><circle cx="1270.9" cy="223.4" r="0.65" fill="#1a1a1a" stroke="none" stroke-width="0"/><path d="M1224.2 231.6 L1224.6 240.6" stroke="#1f1f1f" stroke-width="1.4" fill="none"/><path d="M1222.4 239.6 L1227.0 238.6" stroke="#1f1f1f" stroke-width="0.8" fill="none"/><path d="M1186.4 250.0 L1188.4 249.4 L1190.0 255.0 L1188.0 255.8 Z" fill="#222" stroke="#1f1f1f" stroke-width="0.5" /><path d="M1188.6 256.6 L1193.0 257.4" stroke="#1f1f1f" stroke-width="0.9" fill="none"/><path d="M1266.6 224.6 L1269.0 217.4 L1276.0 216.4 L1279.4 229.4 L1274.0 232.2 L1268.0 230.0 Z" fill="#777" stroke="#1f1f1f" stroke-width="0.7" /><path d="M1268.4 222.0 L1277.0 219.6" stroke="#1f1f1f" stroke-width="1.2" fill="none"/><path d="M1269.0 226.4 L1278.4 224.6" stroke="#1f1f1f" stroke-width="1.2" fill="none"/><path d="M1272.4 217.4 L1274.4 231.0" stroke="#1f1f1f" stroke-width="1.0" fill="none"/><circle cx="1271.2" cy="220.6" r="1.3" fill="#fff" stroke="none" stroke-width="0"/><circle cx="1275.0" cy="224.6" r="1.1" fill="#ddd" stroke="none" stroke-width="0"/><path d="M1264.0 226.6 L1270.0 224.6 L1271.0 229.0" fill="none" stroke="#1f1f1f" stroke-width="0.7" /><path d="M1276.8 217.0 L1280.2 230.6" stroke="#1f1f1f" stroke-width="1.3" fill="none"/><path d="M1261.4 236.4 L1266.4 235.2 L1266.8 236.6 L1261.8 237.8 Z" fill="#bbb" stroke="#1f1f1f" stroke-width="0.5" /></g>
<defs><clipPath id="scclip"><path d="M0 -0.2 L-10 16.6 A10 3 0 0 0 10 16.6 Z"/></clipPath></defs>
<g transform="translate(1282.9 122.5)"><path d="M0 -0.2 L-10 16.6 A10 3 0 0 0 10 16.6 Z" fill="#585858" stroke="#585858" stroke-width="0.5" stroke-linejoin="round"/><g clip-path="url(#scclip)" fill="#fff"><circle cx="-1.85" cy="2.90" r="0.56"/><circle cx="0.00" cy="2.90" r="0.56"/><circle cx="1.85" cy="2.90" r="0.56"/><circle cx="-2.78" cy="4.40" r="0.56"/><circle cx="-0.93" cy="4.40" r="0.56"/><circle cx="0.93" cy="4.40" r="0.56"/><circle cx="2.78" cy="4.40" r="0.56"/><circle cx="-3.70" cy="5.90" r="0.56"/><circle cx="-1.85" cy="5.90" r="0.56"/><circle cx="0.00" cy="5.90" r="0.56"/><circle cx="1.85" cy="5.90" r="0.56"/><circle cx="3.70" cy="5.90" r="0.56"/><circle cx="-4.63" cy="7.40" r="0.56"/><circle cx="-2.78" cy="7.40" r="0.56"/><circle cx="-0.93" cy="7.40" r="0.56"/><circle cx="0.93" cy="7.40" r="0.56"/><circle cx="2.78" cy="7.40" r="0.56"/><circle cx="4.62" cy="7.40" r="0.56"/><circle cx="-5.55" cy="8.90" r="0.56"/><circle cx="-3.70" cy="8.90" r="0.56"/><circle cx="-1.85" cy="8.90" r="0.56"/><circle cx="0.00" cy="8.90" r="0.56"/><circle cx="1.85" cy="8.90" r="0.56"/><circle cx="3.70" cy="8.90" r="0.56"/><circle cx="5.55" cy="8.90" r="0.56"/><circle cx="-6.48" cy="10.40" r="0.56"/><circle cx="-4.63" cy="10.40" r="0.56"/><circle cx="-2.78" cy="10.40" r="0.56"/><circle cx="-0.93" cy="10.40" r="0.56"/><circle cx="0.93" cy="10.40" r="0.56"/><circle cx="2.78" cy="10.40" r="0.56"/><circle cx="4.62" cy="10.40" r="0.56"/><circle cx="6.48" cy="10.40" r="0.56"/><circle cx="-7.40" cy="11.90" r="0.56"/><circle cx="-5.55" cy="11.90" r="0.56"/><circle cx="-3.70" cy="11.90" r="0.56"/><circle cx="-1.85" cy="11.90" r="0.56"/><circle cx="0.00" cy="11.90" r="0.56"/><circle cx="1.85" cy="11.90" r="0.56"/><circle cx="3.70" cy="11.90" r="0.56"/><circle cx="5.55" cy="11.90" r="0.56"/><circle cx="7.40" cy="11.90" r="0.56"/><circle cx="-8.32" cy="13.40" r="0.56"/><circle cx="-6.48" cy="13.40" r="0.56"/><circle cx="-4.63" cy="13.40" r="0.56"/><circle cx="-2.78" cy="13.40" r="0.56"/><circle cx="-0.93" cy="13.40" r="0.56"/><circle cx="0.93" cy="13.40" r="0.56"/><circle cx="2.78" cy="13.40" r="0.56"/><circle cx="4.62" cy="13.40" r="0.56"/><circle cx="6.48" cy="13.40" r="0.56"/><circle cx="8.33" cy="13.40" r="0.56"/><circle cx="-9.25" cy="14.90" r="0.56"/><circle cx="-7.40" cy="14.90" r="0.56"/><circle cx="-5.55" cy="14.90" r="0.56"/><circle cx="-3.70" cy="14.90" r="0.56"/><circle cx="-1.85" cy="14.90" r="0.56"/><circle cx="0.00" cy="14.90" r="0.56"/><circle cx="1.85" cy="14.90" r="0.56"/><circle cx="3.70" cy="14.90" r="0.56"/><circle cx="5.55" cy="14.90" r="0.56"/><circle cx="7.40" cy="14.90" r="0.56"/><circle cx="9.25" cy="14.90" r="0.56"/><circle cx="-10.18" cy="16.40" r="0.56"/><circle cx="-8.32" cy="16.40" r="0.56"/><circle cx="-6.48" cy="16.40" r="0.56"/><circle cx="-4.63" cy="16.40" r="0.56"/><circle cx="-2.78" cy="16.40" r="0.56"/><circle cx="-0.93" cy="16.40" r="0.56"/><circle cx="0.93" cy="16.40" r="0.56"/><circle cx="2.78" cy="16.40" r="0.56"/><circle cx="4.62" cy="16.40" r="0.56"/><circle cx="6.48" cy="16.40" r="0.56"/><circle cx="8.33" cy="16.40" r="0.56"/><circle cx="10.18" cy="16.40" r="0.56"/><circle cx="-11.10" cy="17.90" r="0.56"/><circle cx="-9.25" cy="17.90" r="0.56"/><circle cx="-7.40" cy="17.90" r="0.56"/><circle cx="-5.55" cy="17.90" r="0.56"/><circle cx="-3.70" cy="17.90" r="0.56"/><circle cx="-1.85" cy="17.90" r="0.56"/><circle cx="0.00" cy="17.90" r="0.56"/><circle cx="1.85" cy="17.90" r="0.56"/><circle cx="3.70" cy="17.90" r="0.56"/><circle cx="5.55" cy="17.90" r="0.56"/><circle cx="7.40" cy="17.90" r="0.56"/><circle cx="9.25" cy="17.90" r="0.56"/><circle cx="11.10" cy="17.90" r="0.56"/><circle cx="-12.03" cy="19.40" r="0.56"/><circle cx="-10.18" cy="19.40" r="0.56"/><circle cx="-8.32" cy="19.40" r="0.56"/><circle cx="-6.48" cy="19.40" r="0.56"/><circle cx="-4.63" cy="19.40" r="0.56"/><circle cx="-2.78" cy="19.40" r="0.56"/><circle cx="-0.93" cy="19.40" r="0.56"/><circle cx="0.93" cy="19.40" r="0.56"/><circle cx="2.78" cy="19.40" r="0.56"/><circle cx="4.62" cy="19.40" r="0.56"/><circle cx="6.48" cy="19.40" r="0.56"/><circle cx="8.33" cy="19.40" r="0.56"/><circle cx="10.18" cy="19.40" r="0.56"/><circle cx="12.03" cy="19.40" r="0.56"/></g><path d="M-7.8 13 Q0 15 7.8 13" fill="none" stroke="#666" stroke-width="0.45"/></g>
<g transform="translate(1282.9 149.5)"><path d="M0 -0.2 L-10 16.6 A10 3 0 0 0 10 16.6 Z" fill="#585858" stroke="#585858" stroke-width="0.5" stroke-linejoin="round"/><g clip-path="url(#scclip)" fill="#fff"><circle cx="-1.85" cy="2.90" r="0.56"/><circle cx="0.00" cy="2.90" r="0.56"/><circle cx="1.85" cy="2.90" r="0.56"/><circle cx="-2.78" cy="4.40" r="0.56"/><circle cx="-0.93" cy="4.40" r="0.56"/><circle cx="0.93" cy="4.40" r="0.56"/><circle cx="2.78" cy="4.40" r="0.56"/><circle cx="-3.70" cy="5.90" r="0.56"/><circle cx="-1.85" cy="5.90" r="0.56"/><circle cx="0.00" cy="5.90" r="0.56"/><circle cx="1.85" cy="5.90" r="0.56"/><circle cx="3.70" cy="5.90" r="0.56"/><circle cx="-4.63" cy="7.40" r="0.56"/><circle cx="-2.78" cy="7.40" r="0.56"/><circle cx="-0.93" cy="7.40" r="0.56"/><circle cx="0.93" cy="7.40" r="0.56"/><circle cx="2.78" cy="7.40" r="0.56"/><circle cx="4.62" cy="7.40" r="0.56"/><circle cx="-5.55" cy="8.90" r="0.56"/><circle cx="-3.70" cy="8.90" r="0.56"/><circle cx="-1.85" cy="8.90" r="0.56"/><circle cx="0.00" cy="8.90" r="0.56"/><circle cx="1.85" cy="8.90" r="0.56"/><circle cx="3.70" cy="8.90" r="0.56"/><circle cx="5.55" cy="8.90" r="0.56"/><circle cx="-6.48" cy="10.40" r="0.56"/><circle cx="-4.63" cy="10.40" r="0.56"/><circle cx="-2.78" cy="10.40" r="0.56"/><circle cx="-0.93" cy="10.40" r="0.56"/><circle cx="0.93" cy="10.40" r="0.56"/><circle cx="2.78" cy="10.40" r="0.56"/><circle cx="4.62" cy="10.40" r="0.56"/><circle cx="6.48" cy="10.40" r="0.56"/><circle cx="-7.40" cy="11.90" r="0.56"/><circle cx="-5.55" cy="11.90" r="0.56"/><circle cx="-3.70" cy="11.90" r="0.56"/><circle cx="-1.85" cy="11.90" r="0.56"/><circle cx="0.00" cy="11.90" r="0.56"/><circle cx="1.85" cy="11.90" r="0.56"/><circle cx="3.70" cy="11.90" r="0.56"/><circle cx="5.55" cy="11.90" r="0.56"/><circle cx="7.40" cy="11.90" r="0.56"/><circle cx="-8.32" cy="13.40" r="0.56"/><circle cx="-6.48" cy="13.40" r="0.56"/><circle cx="-4.63" cy="13.40" r="0.56"/><circle cx="-2.78" cy="13.40" r="0.56"/><circle cx="-0.93" cy="13.40" r="0.56"/><circle cx="0.93" cy="13.40" r="0.56"/><circle cx="2.78" cy="13.40" r="0.56"/><circle cx="4.62" cy="13.40" r="0.56"/><circle cx="6.48" cy="13.40" r="0.56"/><circle cx="8.33" cy="13.40" r="0.56"/><circle cx="-9.25" cy="14.90" r="0.56"/><circle cx="-7.40" cy="14.90" r="0.56"/><circle cx="-5.55" cy="14.90" r="0.56"/><circle cx="-3.70" cy="14.90" r="0.56"/><circle cx="-1.85" cy="14.90" r="0.56"/><circle cx="0.00" cy="14.90" r="0.56"/><circle cx="1.85" cy="14.90" r="0.56"/><circle cx="3.70" cy="14.90" r="0.56"/><circle cx="5.55" cy="14.90" r="0.56"/><circle cx="7.40" cy="14.90" r="0.56"/><circle cx="9.25" cy="14.90" r="0.56"/><circle cx="-10.18" cy="16.40" r="0.56"/><circle cx="-8.32" cy="16.40" r="0.56"/><circle cx="-6.48" cy="16.40" r="0.56"/><circle cx="-4.63" cy="16.40" r="0.56"/><circle cx="-2.78" cy="16.40" r="0.56"/><circle cx="-0.93" cy="16.40" r="0.56"/><circle cx="0.93" cy="16.40" r="0.56"/><circle cx="2.78" cy="16.40" r="0.56"/><circle cx="4.62" cy="16.40" r="0.56"/><circle cx="6.48" cy="16.40" r="0.56"/><circle cx="8.33" cy="16.40" r="0.56"/><circle cx="10.18" cy="16.40" r="0.56"/><circle cx="-11.10" cy="17.90" r="0.56"/><circle cx="-9.25" cy="17.90" r="0.56"/><circle cx="-7.40" cy="17.90" r="0.56"/><circle cx="-5.55" cy="17.90" r="0.56"/><circle cx="-3.70" cy="17.90" r="0.56"/><circle cx="-1.85" cy="17.90" r="0.56"/><circle cx="0.00" cy="17.90" r="0.56"/><circle cx="1.85" cy="17.90" r="0.56"/><circle cx="3.70" cy="17.90" r="0.56"/><circle cx="5.55" cy="17.90" r="0.56"/><circle cx="7.40" cy="17.90" r="0.56"/><circle cx="9.25" cy="17.90" r="0.56"/><circle cx="11.10" cy="17.90" r="0.56"/><circle cx="-12.03" cy="19.40" r="0.56"/><circle cx="-10.18" cy="19.40" r="0.56"/><circle cx="-8.32" cy="19.40" r="0.56"/><circle cx="-6.48" cy="19.40" r="0.56"/><circle cx="-4.63" cy="19.40" r="0.56"/><circle cx="-2.78" cy="19.40" r="0.56"/><circle cx="-0.93" cy="19.40" r="0.56"/><circle cx="0.93" cy="19.40" r="0.56"/><circle cx="2.78" cy="19.40" r="0.56"/><circle cx="4.62" cy="19.40" r="0.56"/><circle cx="6.48" cy="19.40" r="0.56"/><circle cx="8.33" cy="19.40" r="0.56"/><circle cx="10.18" cy="19.40" r="0.56"/><circle cx="12.03" cy="19.40" r="0.56"/></g><path d="M-7.8 13 Q0 15 7.8 13" fill="none" stroke="#666" stroke-width="0.45"/></g>
<g transform="translate(1282.9 181.4)"><path d="M0 -0.2 L-10 16.6 A10 3 0 0 0 10 16.6 Z" fill="#585858" stroke="#585858" stroke-width="0.5" stroke-linejoin="round"/><g clip-path="url(#scclip)" fill="#fff"><circle cx="-1.85" cy="2.90" r="0.56"/><circle cx="0.00" cy="2.90" r="0.56"/><circle cx="1.85" cy="2.90" r="0.56"/><circle cx="-2.78" cy="4.40" r="0.56"/><circle cx="-0.93" cy="4.40" r="0.56"/><circle cx="0.93" cy="4.40" r="0.56"/><circle cx="2.78" cy="4.40" r="0.56"/><circle cx="-3.70" cy="5.90" r="0.56"/><circle cx="-1.85" cy="5.90" r="0.56"/><circle cx="0.00" cy="5.90" r="0.56"/><circle cx="1.85" cy="5.90" r="0.56"/><circle cx="3.70" cy="5.90" r="0.56"/><circle cx="-4.63" cy="7.40" r="0.56"/><circle cx="-2.78" cy="7.40" r="0.56"/><circle cx="-0.93" cy="7.40" r="0.56"/><circle cx="0.93" cy="7.40" r="0.56"/><circle cx="2.78" cy="7.40" r="0.56"/><circle cx="4.62" cy="7.40" r="0.56"/><circle cx="-5.55" cy="8.90" r="0.56"/><circle cx="-3.70" cy="8.90" r="0.56"/><circle cx="-1.85" cy="8.90" r="0.56"/><circle cx="0.00" cy="8.90" r="0.56"/><circle cx="1.85" cy="8.90" r="0.56"/><circle cx="3.70" cy="8.90" r="0.56"/><circle cx="5.55" cy="8.90" r="0.56"/><circle cx="-6.48" cy="10.40" r="0.56"/><circle cx="-4.63" cy="10.40" r="0.56"/><circle cx="-2.78" cy="10.40" r="0.56"/><circle cx="-0.93" cy="10.40" r="0.56"/><circle cx="0.93" cy="10.40" r="0.56"/><circle cx="2.78" cy="10.40" r="0.56"/><circle cx="4.62" cy="10.40" r="0.56"/><circle cx="6.48" cy="10.40" r="0.56"/><circle cx="-7.40" cy="11.90" r="0.56"/><circle cx="-5.55" cy="11.90" r="0.56"/><circle cx="-3.70" cy="11.90" r="0.56"/><circle cx="-1.85" cy="11.90" r="0.56"/><circle cx="0.00" cy="11.90" r="0.56"/><circle cx="1.85" cy="11.90" r="0.56"/><circle cx="3.70" cy="11.90" r="0.56"/><circle cx="5.55" cy="11.90" r="0.56"/><circle cx="7.40" cy="11.90" r="0.56"/><circle cx="-8.32" cy="13.40" r="0.56"/><circle cx="-6.48" cy="13.40" r="0.56"/><circle cx="-4.63" cy="13.40" r="0.56"/><circle cx="-2.78" cy="13.40" r="0.56"/><circle cx="-0.93" cy="13.40" r="0.56"/><circle cx="0.93" cy="13.40" r="0.56"/><circle cx="2.78" cy="13.40" r="0.56"/><circle cx="4.62" cy="13.40" r="0.56"/><circle cx="6.48" cy="13.40" r="0.56"/><circle cx="8.33" cy="13.40" r="0.56"/><circle cx="-9.25" cy="14.90" r="0.56"/><circle cx="-7.40" cy="14.90" r="0.56"/><circle cx="-5.55" cy="14.90" r="0.56"/><circle cx="-3.70" cy="14.90" r="0.56"/><circle cx="-1.85" cy="14.90" r="0.56"/><circle cx="0.00" cy="14.90" r="0.56"/><circle cx="1.85" cy="14.90" r="0.56"/><circle cx="3.70" cy="14.90" r="0.56"/><circle cx="5.55" cy="14.90" r="0.56"/><circle cx="7.40" cy="14.90" r="0.56"/><circle cx="9.25" cy="14.90" r="0.56"/><circle cx="-10.18" cy="16.40" r="0.56"/><circle cx="-8.32" cy="16.40" r="0.56"/><circle cx="-6.48" cy="16.40" r="0.56"/><circle cx="-4.63" cy="16.40" r="0.56"/><circle cx="-2.78" cy="16.40" r="0.56"/><circle cx="-0.93" cy="16.40" r="0.56"/><circle cx="0.93" cy="16.40" r="0.56"/><circle cx="2.78" cy="16.40" r="0.56"/><circle cx="4.62" cy="16.40" r="0.56"/><circle cx="6.48" cy="16.40" r="0.56"/><circle cx="8.33" cy="16.40" r="0.56"/><circle cx="10.18" cy="16.40" r="0.56"/><circle cx="-11.10" cy="17.90" r="0.56"/><circle cx="-9.25" cy="17.90" r="0.56"/><circle cx="-7.40" cy="17.90" r="0.56"/><circle cx="-5.55" cy="17.90" r="0.56"/><circle cx="-3.70" cy="17.90" r="0.56"/><circle cx="-1.85" cy="17.90" r="0.56"/><circle cx="0.00" cy="17.90" r="0.56"/><circle cx="1.85" cy="17.90" r="0.56"/><circle cx="3.70" cy="17.90" r="0.56"/><circle cx="5.55" cy="17.90" r="0.56"/><circle cx="7.40" cy="17.90" r="0.56"/><circle cx="9.25" cy="17.90" r="0.56"/><circle cx="11.10" cy="17.90" r="0.56"/><circle cx="-12.03" cy="19.40" r="0.56"/><circle cx="-10.18" cy="19.40" r="0.56"/><circle cx="-8.32" cy="19.40" r="0.56"/><circle cx="-6.48" cy="19.40" r="0.56"/><circle cx="-4.63" cy="19.40" r="0.56"/><circle cx="-2.78" cy="19.40" r="0.56"/><circle cx="-0.93" cy="19.40" r="0.56"/><circle cx="0.93" cy="19.40" r="0.56"/><circle cx="2.78" cy="19.40" r="0.56"/><circle cx="4.62" cy="19.40" r="0.56"/><circle cx="6.48" cy="19.40" r="0.56"/><circle cx="8.33" cy="19.40" r="0.56"/><circle cx="10.18" cy="19.40" r="0.56"/><circle cx="12.03" cy="19.40" r="0.56"/></g><path d="M-7.8 13 Q0 15 7.8 13" fill="none" stroke="#666" stroke-width="0.45"/></g>
<g transform="translate(1285.9 239.4)"><path d="M0 -0.2 L-10 16.6 A10 3 0 0 0 10 16.6 Z" fill="#585858" stroke="#585858" stroke-width="0.5" stroke-linejoin="round"/><g clip-path="url(#scclip)" fill="#fff"><circle cx="-1.85" cy="2.90" r="0.56"/><circle cx="0.00" cy="2.90" r="0.56"/><circle cx="1.85" cy="2.90" r="0.56"/><circle cx="-2.78" cy="4.40" r="0.56"/><circle cx="-0.93" cy="4.40" r="0.56"/><circle cx="0.93" cy="4.40" r="0.56"/><circle cx="2.78" cy="4.40" r="0.56"/><circle cx="-3.70" cy="5.90" r="0.56"/><circle cx="-1.85" cy="5.90" r="0.56"/><circle cx="0.00" cy="5.90" r="0.56"/><circle cx="1.85" cy="5.90" r="0.56"/><circle cx="3.70" cy="5.90" r="0.56"/><circle cx="-4.63" cy="7.40" r="0.56"/><circle cx="-2.78" cy="7.40" r="0.56"/><circle cx="-0.93" cy="7.40" r="0.56"/><circle cx="0.93" cy="7.40" r="0.56"/><circle cx="2.78" cy="7.40" r="0.56"/><circle cx="4.62" cy="7.40" r="0.56"/><circle cx="-5.55" cy="8.90" r="0.56"/><circle cx="-3.70" cy="8.90" r="0.56"/><circle cx="-1.85" cy="8.90" r="0.56"/><circle cx="0.00" cy="8.90" r="0.56"/><circle cx="1.85" cy="8.90" r="0.56"/><circle cx="3.70" cy="8.90" r="0.56"/><circle cx="5.55" cy="8.90" r="0.56"/><circle cx="-6.48" cy="10.40" r="0.56"/><circle cx="-4.63" cy="10.40" r="0.56"/><circle cx="-2.78" cy="10.40" r="0.56"/><circle cx="-0.93" cy="10.40" r="0.56"/><circle cx="0.93" cy="10.40" r="0.56"/><circle cx="2.78" cy="10.40" r="0.56"/><circle cx="4.62" cy="10.40" r="0.56"/><circle cx="6.48" cy="10.40" r="0.56"/><circle cx="-7.40" cy="11.90" r="0.56"/><circle cx="-5.55" cy="11.90" r="0.56"/><circle cx="-3.70" cy="11.90" r="0.56"/><circle cx="-1.85" cy="11.90" r="0.56"/><circle cx="0.00" cy="11.90" r="0.56"/><circle cx="1.85" cy="11.90" r="0.56"/><circle cx="3.70" cy="11.90" r="0.56"/><circle cx="5.55" cy="11.90" r="0.56"/><circle cx="7.40" cy="11.90" r="0.56"/><circle cx="-8.32" cy="13.40" r="0.56"/><circle cx="-6.48" cy="13.40" r="0.56"/><circle cx="-4.63" cy="13.40" r="0.56"/><circle cx="-2.78" cy="13.40" r="0.56"/><circle cx="-0.93" cy="13.40" r="0.56"/><circle cx="0.93" cy="13.40" r="0.56"/><circle cx="2.78" cy="13.40" r="0.56"/><circle cx="4.62" cy="13.40" r="0.56"/><circle cx="6.48" cy="13.40" r="0.56"/><circle cx="8.33" cy="13.40" r="0.56"/><circle cx="-9.25" cy="14.90" r="0.56"/><circle cx="-7.40" cy="14.90" r="0.56"/><circle cx="-5.55" cy="14.90" r="0.56"/><circle cx="-3.70" cy="14.90" r="0.56"/><circle cx="-1.85" cy="14.90" r="0.56"/><circle cx="0.00" cy="14.90" r="0.56"/><circle cx="1.85" cy="14.90" r="0.56"/><circle cx="3.70" cy="14.90" r="0.56"/><circle cx="5.55" cy="14.90" r="0.56"/><circle cx="7.40" cy="14.90" r="0.56"/><circle cx="9.25" cy="14.90" r="0.56"/><circle cx="-10.18" cy="16.40" r="0.56"/><circle cx="-8.32" cy="16.40" r="0.56"/><circle cx="-6.48" cy="16.40" r="0.56"/><circle cx="-4.63" cy="16.40" r="0.56"/><circle cx="-2.78" cy="16.40" r="0.56"/><circle cx="-0.93" cy="16.40" r="0.56"/><circle cx="0.93" cy="16.40" r="0.56"/><circle cx="2.78" cy="16.40" r="0.56"/><circle cx="4.62" cy="16.40" r="0.56"/><circle cx="6.48" cy="16.40" r="0.56"/><circle cx="8.33" cy="16.40" r="0.56"/><circle cx="10.18" cy="16.40" r="0.56"/><circle cx="-11.10" cy="17.90" r="0.56"/><circle cx="-9.25" cy="17.90" r="0.56"/><circle cx="-7.40" cy="17.90" r="0.56"/><circle cx="-5.55" cy="17.90" r="0.56"/><circle cx="-3.70" cy="17.90" r="0.56"/><circle cx="-1.85" cy="17.90" r="0.56"/><circle cx="0.00" cy="17.90" r="0.56"/><circle cx="1.85" cy="17.90" r="0.56"/><circle cx="3.70" cy="17.90" r="0.56"/><circle cx="5.55" cy="17.90" r="0.56"/><circle cx="7.40" cy="17.90" r="0.56"/><circle cx="9.25" cy="17.90" r="0.56"/><circle cx="11.10" cy="17.90" r="0.56"/><circle cx="-12.03" cy="19.40" r="0.56"/><circle cx="-10.18" cy="19.40" r="0.56"/><circle cx="-8.32" cy="19.40" r="0.56"/><circle cx="-6.48" cy="19.40" r="0.56"/><circle cx="-4.63" cy="19.40" r="0.56"/><circle cx="-2.78" cy="19.40" r="0.56"/><circle cx="-0.93" cy="19.40" r="0.56"/><circle cx="0.93" cy="19.40" r="0.56"/><circle cx="2.78" cy="19.40" r="0.56"/><circle cx="4.62" cy="19.40" r="0.56"/><circle cx="6.48" cy="19.40" r="0.56"/><circle cx="8.33" cy="19.40" r="0.56"/><circle cx="10.18" cy="19.40" r="0.56"/><circle cx="12.03" cy="19.40" r="0.56"/></g><path d="M-7.8 13 Q0 15 7.8 13" fill="none" stroke="#666" stroke-width="0.45"/></g>
<g transform="translate(1286.8 286.4)"><path d="M0 -0.2 L-10 16.6 A10 3 0 0 0 10 16.6 Z" fill="#585858" stroke="#585858" stroke-width="0.5" stroke-linejoin="round"/><g clip-path="url(#scclip)" fill="#fff"><circle cx="-1.85" cy="2.90" r="0.56"/><circle cx="0.00" cy="2.90" r="0.56"/><circle cx="1.85" cy="2.90" r="0.56"/><circle cx="-2.78" cy="4.40" r="0.56"/><circle cx="-0.93" cy="4.40" r="0.56"/><circle cx="0.93" cy="4.40" r="0.56"/><circle cx="2.78" cy="4.40" r="0.56"/><circle cx="-3.70" cy="5.90" r="0.56"/><circle cx="-1.85" cy="5.90" r="0.56"/><circle cx="0.00" cy="5.90" r="0.56"/><circle cx="1.85" cy="5.90" r="0.56"/><circle cx="3.70" cy="5.90" r="0.56"/><circle cx="-4.63" cy="7.40" r="0.56"/><circle cx="-2.78" cy="7.40" r="0.56"/><circle cx="-0.93" cy="7.40" r="0.56"/><circle cx="0.93" cy="7.40" r="0.56"/><circle cx="2.78" cy="7.40" r="0.56"/><circle cx="4.62" cy="7.40" r="0.56"/><circle cx="-5.55" cy="8.90" r="0.56"/><circle cx="-3.70" cy="8.90" r="0.56"/><circle cx="-1.85" cy="8.90" r="0.56"/><circle cx="0.00" cy="8.90" r="0.56"/><circle cx="1.85" cy="8.90" r="0.56"/><circle cx="3.70" cy="8.90" r="0.56"/><circle cx="5.55" cy="8.90" r="0.56"/><circle cx="-6.48" cy="10.40" r="0.56"/><circle cx="-4.63" cy="10.40" r="0.56"/><circle cx="-2.78" cy="10.40" r="0.56"/><circle cx="-0.93" cy="10.40" r="0.56"/><circle cx="0.93" cy="10.40" r="0.56"/><circle cx="2.78" cy="10.40" r="0.56"/><circle cx="4.62" cy="10.40" r="0.56"/><circle cx="6.48" cy="10.40" r="0.56"/><circle cx="-7.40" cy="11.90" r="0.56"/><circle cx="-5.55" cy="11.90" r="0.56"/><circle cx="-3.70" cy="11.90" r="0.56"/><circle cx="-1.85" cy="11.90" r="0.56"/><circle cx="0.00" cy="11.90" r="0.56"/><circle cx="1.85" cy="11.90" r="0.56"/><circle cx="3.70" cy="11.90" r="0.56"/><circle cx="5.55" cy="11.90" r="0.56"/><circle cx="7.40" cy="11.90" r="0.56"/><circle cx="-8.32" cy="13.40" r="0.56"/><circle cx="-6.48" cy="13.40" r="0.56"/><circle cx="-4.63" cy="13.40" r="0.56"/><circle cx="-2.78" cy="13.40" r="0.56"/><circle cx="-0.93" cy="13.40" r="0.56"/><circle cx="0.93" cy="13.40" r="0.56"/><circle cx="2.78" cy="13.40" r="0.56"/><circle cx="4.62" cy="13.40" r="0.56"/><circle cx="6.48" cy="13.40" r="0.56"/><circle cx="8.33" cy="13.40" r="0.56"/><circle cx="-9.25" cy="14.90" r="0.56"/><circle cx="-7.40" cy="14.90" r="0.56"/><circle cx="-5.55" cy="14.90" r="0.56"/><circle cx="-3.70" cy="14.90" r="0.56"/><circle cx="-1.85" cy="14.90" r="0.56"/><circle cx="0.00" cy="14.90" r="0.56"/><circle cx="1.85" cy="14.90" r="0.56"/><circle cx="3.70" cy="14.90" r="0.56"/><circle cx="5.55" cy="14.90" r="0.56"/><circle cx="7.40" cy="14.90" r="0.56"/><circle cx="9.25" cy="14.90" r="0.56"/><circle cx="-10.18" cy="16.40" r="0.56"/><circle cx="-8.32" cy="16.40" r="0.56"/><circle cx="-6.48" cy="16.40" r="0.56"/><circle cx="-4.63" cy="16.40" r="0.56"/><circle cx="-2.78" cy="16.40" r="0.56"/><circle cx="-0.93" cy="16.40" r="0.56"/><circle cx="0.93" cy="16.40" r="0.56"/><circle cx="2.78" cy="16.40" r="0.56"/><circle cx="4.62" cy="16.40" r="0.56"/><circle cx="6.48" cy="16.40" r="0.56"/><circle cx="8.33" cy="16.40" r="0.56"/><circle cx="10.18" cy="16.40" r="0.56"/><circle cx="-11.10" cy="17.90" r="0.56"/><circle cx="-9.25" cy="17.90" r="0.56"/><circle cx="-7.40" cy="17.90" r="0.56"/><circle cx="-5.55" cy="17.90" r="0.56"/><circle cx="-3.70" cy="17.90" r="0.56"/><circle cx="-1.85" cy="17.90" r="0.56"/><circle cx="0.00" cy="17.90" r="0.56"/><circle cx="1.85" cy="17.90" r="0.56"/><circle cx="3.70" cy="17.90" r="0.56"/><circle cx="5.55" cy="17.90" r="0.56"/><circle cx="7.40" cy="17.90" r="0.56"/><circle cx="9.25" cy="17.90" r="0.56"/><circle cx="11.10" cy="17.90" r="0.56"/><circle cx="-12.03" cy="19.40" r="0.56"/><circle cx="-10.18" cy="19.40" r="0.56"/><circle cx="-8.32" cy="19.40" r="0.56"/><circle cx="-6.48" cy="19.40" r="0.56"/><circle cx="-4.63" cy="19.40" r="0.56"/><circle cx="-2.78" cy="19.40" r="0.56"/><circle cx="-0.93" cy="19.40" r="0.56"/><circle cx="0.93" cy="19.40" r="0.56"/><circle cx="2.78" cy="19.40" r="0.56"/><circle cx="4.62" cy="19.40" r="0.56"/><circle cx="6.48" cy="19.40" r="0.56"/><circle cx="8.33" cy="19.40" r="0.56"/><circle cx="10.18" cy="19.40" r="0.56"/><circle cx="12.03" cy="19.40" r="0.56"/></g><path d="M-7.8 13 Q0 15 7.8 13" fill="none" stroke="#666" stroke-width="0.45"/></g>
<g transform="translate(1286.8 312.6)"><path d="M0 -0.2 L-10 16.6 A10 3 0 0 0 10 16.6 Z" fill="#585858" stroke="#585858" stroke-width="0.5" stroke-linejoin="round"/><g clip-path="url(#scclip)" fill="#fff"><circle cx="-1.85" cy="2.90" r="0.56"/><circle cx="0.00" cy="2.90" r="0.56"/><circle cx="1.85" cy="2.90" r="0.56"/><circle cx="-2.78" cy="4.40" r="0.56"/><circle cx="-0.93" cy="4.40" r="0.56"/><circle cx="0.93" cy="4.40" r="0.56"/><circle cx="2.78" cy="4.40" r="0.56"/><circle cx="-3.70" cy="5.90" r="0.56"/><circle cx="-1.85" cy="5.90" r="0.56"/><circle cx="0.00" cy="5.90" r="0.56"/><circle cx="1.85" cy="5.90" r="0.56"/><circle cx="3.70" cy="5.90" r="0.56"/><circle cx="-4.63" cy="7.40" r="0.56"/><circle cx="-2.78" cy="7.40" r="0.56"/><circle cx="-0.93" cy="7.40" r="0.56"/><circle cx="0.93" cy="7.40" r="0.56"/><circle cx="2.78" cy="7.40" r="0.56"/><circle cx="4.62" cy="7.40" r="0.56"/><circle cx="-5.55" cy="8.90" r="0.56"/><circle cx="-3.70" cy="8.90" r="0.56"/><circle cx="-1.85" cy="8.90" r="0.56"/><circle cx="0.00" cy="8.90" r="0.56"/><circle cx="1.85" cy="8.90" r="0.56"/><circle cx="3.70" cy="8.90" r="0.56"/><circle cx="5.55" cy="8.90" r="0.56"/><circle cx="-6.48" cy="10.40" r="0.56"/><circle cx="-4.63" cy="10.40" r="0.56"/><circle cx="-2.78" cy="10.40" r="0.56"/><circle cx="-0.93" cy="10.40" r="0.56"/><circle cx="0.93" cy="10.40" r="0.56"/><circle cx="2.78" cy="10.40" r="0.56"/><circle cx="4.62" cy="10.40" r="0.56"/><circle cx="6.48" cy="10.40" r="0.56"/><circle cx="-7.40" cy="11.90" r="0.56"/><circle cx="-5.55" cy="11.90" r="0.56"/><circle cx="-3.70" cy="11.90" r="0.56"/><circle cx="-1.85" cy="11.90" r="0.56"/><circle cx="0.00" cy="11.90" r="0.56"/><circle cx="1.85" cy="11.90" r="0.56"/><circle cx="3.70" cy="11.90" r="0.56"/><circle cx="5.55" cy="11.90" r="0.56"/><circle cx="7.40" cy="11.90" r="0.56"/><circle cx="-8.32" cy="13.40" r="0.56"/><circle cx="-6.48" cy="13.40" r="0.56"/><circle cx="-4.63" cy="13.40" r="0.56"/><circle cx="-2.78" cy="13.40" r="0.56"/><circle cx="-0.93" cy="13.40" r="0.56"/><circle cx="0.93" cy="13.40" r="0.56"/><circle cx="2.78" cy="13.40" r="0.56"/><circle cx="4.62" cy="13.40" r="0.56"/><circle cx="6.48" cy="13.40" r="0.56"/><circle cx="8.33" cy="13.40" r="0.56"/><circle cx="-9.25" cy="14.90" r="0.56"/><circle cx="-7.40" cy="14.90" r="0.56"/><circle cx="-5.55" cy="14.90" r="0.56"/><circle cx="-3.70" cy="14.90" r="0.56"/><circle cx="-1.85" cy="14.90" r="0.56"/><circle cx="0.00" cy="14.90" r="0.56"/><circle cx="1.85" cy="14.90" r="0.56"/><circle cx="3.70" cy="14.90" r="0.56"/><circle cx="5.55" cy="14.90" r="0.56"/><circle cx="7.40" cy="14.90" r="0.56"/><circle cx="9.25" cy="14.90" r="0.56"/><circle cx="-10.18" cy="16.40" r="0.56"/><circle cx="-8.32" cy="16.40" r="0.56"/><circle cx="-6.48" cy="16.40" r="0.56"/><circle cx="-4.63" cy="16.40" r="0.56"/><circle cx="-2.78" cy="16.40" r="0.56"/><circle cx="-0.93" cy="16.40" r="0.56"/><circle cx="0.93" cy="16.40" r="0.56"/><circle cx="2.78" cy="16.40" r="0.56"/><circle cx="4.62" cy="16.40" r="0.56"/><circle cx="6.48" cy="16.40" r="0.56"/><circle cx="8.33" cy="16.40" r="0.56"/><circle cx="10.18" cy="16.40" r="0.56"/><circle cx="-11.10" cy="17.90" r="0.56"/><circle cx="-9.25" cy="17.90" r="0.56"/><circle cx="-7.40" cy="17.90" r="0.56"/><circle cx="-5.55" cy="17.90" r="0.56"/><circle cx="-3.70" cy="17.90" r="0.56"/><circle cx="-1.85" cy="17.90" r="0.56"/><circle cx="0.00" cy="17.90" r="0.56"/><circle cx="1.85" cy="17.90" r="0.56"/><circle cx="3.70" cy="17.90" r="0.56"/><circle cx="5.55" cy="17.90" r="0.56"/><circle cx="7.40" cy="17.90" r="0.56"/><circle cx="9.25" cy="17.90" r="0.56"/><circle cx="11.10" cy="17.90" r="0.56"/><circle cx="-12.03" cy="19.40" r="0.56"/><circle cx="-10.18" cy="19.40" r="0.56"/><circle cx="-8.32" cy="19.40" r="0.56"/><circle cx="-6.48" cy="19.40" r="0.56"/><circle cx="-4.63" cy="19.40" r="0.56"/><circle cx="-2.78" cy="19.40" r="0.56"/><circle cx="-0.93" cy="19.40" r="0.56"/><circle cx="0.93" cy="19.40" r="0.56"/><circle cx="2.78" cy="19.40" r="0.56"/><circle cx="4.62" cy="19.40" r="0.56"/><circle cx="6.48" cy="19.40" r="0.56"/><circle cx="8.33" cy="19.40" r="0.56"/><circle cx="10.18" cy="19.40" r="0.56"/><circle cx="12.03" cy="19.40" r="0.56"/></g><path d="M-7.8 13 Q0 15 7.8 13" fill="none" stroke="#666" stroke-width="0.45"/></g>
<g transform="translate(1286.8 344.6)"><path d="M0 -0.2 L-10 16.6 A10 3 0 0 0 10 16.6 Z" fill="#585858" stroke="#585858" stroke-width="0.5" stroke-linejoin="round"/><g clip-path="url(#scclip)" fill="#fff"><circle cx="-1.85" cy="2.90" r="0.56"/><circle cx="0.00" cy="2.90" r="0.56"/><circle cx="1.85" cy="2.90" r="0.56"/><circle cx="-2.78" cy="4.40" r="0.56"/><circle cx="-0.93" cy="4.40" r="0.56"/><circle cx="0.93" cy="4.40" r="0.56"/><circle cx="2.78" cy="4.40" r="0.56"/><circle cx="-3.70" cy="5.90" r="0.56"/><circle cx="-1.85" cy="5.90" r="0.56"/><circle cx="0.00" cy="5.90" r="0.56"/><circle cx="1.85" cy="5.90" r="0.56"/><circle cx="3.70" cy="5.90" r="0.56"/><circle cx="-4.63" cy="7.40" r="0.56"/><circle cx="-2.78" cy="7.40" r="0.56"/><circle cx="-0.93" cy="7.40" r="0.56"/><circle cx="0.93" cy="7.40" r="0.56"/><circle cx="2.78" cy="7.40" r="0.56"/><circle cx="4.62" cy="7.40" r="0.56"/><circle cx="-5.55" cy="8.90" r="0.56"/><circle cx="-3.70" cy="8.90" r="0.56"/><circle cx="-1.85" cy="8.90" r="0.56"/><circle cx="0.00" cy="8.90" r="0.56"/><circle cx="1.85" cy="8.90" r="0.56"/><circle cx="3.70" cy="8.90" r="0.56"/><circle cx="5.55" cy="8.90" r="0.56"/><circle cx="-6.48" cy="10.40" r="0.56"/><circle cx="-4.63" cy="10.40" r="0.56"/><circle cx="-2.78" cy="10.40" r="0.56"/><circle cx="-0.93" cy="10.40" r="0.56"/><circle cx="0.93" cy="10.40" r="0.56"/><circle cx="2.78" cy="10.40" r="0.56"/><circle cx="4.62" cy="10.40" r="0.56"/><circle cx="6.48" cy="10.40" r="0.56"/><circle cx="-7.40" cy="11.90" r="0.56"/><circle cx="-5.55" cy="11.90" r="0.56"/><circle cx="-3.70" cy="11.90" r="0.56"/><circle cx="-1.85" cy="11.90" r="0.56"/><circle cx="0.00" cy="11.90" r="0.56"/><circle cx="1.85" cy="11.90" r="0.56"/><circle cx="3.70" cy="11.90" r="0.56"/><circle cx="5.55" cy="11.90" r="0.56"/><circle cx="7.40" cy="11.90" r="0.56"/><circle cx="-8.32" cy="13.40" r="0.56"/><circle cx="-6.48" cy="13.40" r="0.56"/><circle cx="-4.63" cy="13.40" r="0.56"/><circle cx="-2.78" cy="13.40" r="0.56"/><circle cx="-0.93" cy="13.40" r="0.56"/><circle cx="0.93" cy="13.40" r="0.56"/><circle cx="2.78" cy="13.40" r="0.56"/><circle cx="4.62" cy="13.40" r="0.56"/><circle cx="6.48" cy="13.40" r="0.56"/><circle cx="8.33" cy="13.40" r="0.56"/><circle cx="-9.25" cy="14.90" r="0.56"/><circle cx="-7.40" cy="14.90" r="0.56"/><circle cx="-5.55" cy="14.90" r="0.56"/><circle cx="-3.70" cy="14.90" r="0.56"/><circle cx="-1.85" cy="14.90" r="0.56"/><circle cx="0.00" cy="14.90" r="0.56"/><circle cx="1.85" cy="14.90" r="0.56"/><circle cx="3.70" cy="14.90" r="0.56"/><circle cx="5.55" cy="14.90" r="0.56"/><circle cx="7.40" cy="14.90" r="0.56"/><circle cx="9.25" cy="14.90" r="0.56"/><circle cx="-10.18" cy="16.40" r="0.56"/><circle cx="-8.32" cy="16.40" r="0.56"/><circle cx="-6.48" cy="16.40" r="0.56"/><circle cx="-4.63" cy="16.40" r="0.56"/><circle cx="-2.78" cy="16.40" r="0.56"/><circle cx="-0.93" cy="16.40" r="0.56"/><circle cx="0.93" cy="16.40" r="0.56"/><circle cx="2.78" cy="16.40" r="0.56"/><circle cx="4.62" cy="16.40" r="0.56"/><circle cx="6.48" cy="16.40" r="0.56"/><circle cx="8.33" cy="16.40" r="0.56"/><circle cx="10.18" cy="16.40" r="0.56"/><circle cx="-11.10" cy="17.90" r="0.56"/><circle cx="-9.25" cy="17.90" r="0.56"/><circle cx="-7.40" cy="17.90" r="0.56"/><circle cx="-5.55" cy="17.90" r="0.56"/><circle cx="-3.70" cy="17.90" r="0.56"/><circle cx="-1.85" cy="17.90" r="0.56"/><circle cx="0.00" cy="17.90" r="0.56"/><circle cx="1.85" cy="17.90" r="0.56"/><circle cx="3.70" cy="17.90" r="0.56"/><circle cx="5.55" cy="17.90" r="0.56"/><circle cx="7.40" cy="17.90" r="0.56"/><circle cx="9.25" cy="17.90" r="0.56"/><circle cx="11.10" cy="17.90" r="0.56"/><circle cx="-12.03" cy="19.40" r="0.56"/><circle cx="-10.18" cy="19.40" r="0.56"/><circle cx="-8.32" cy="19.40" r="0.56"/><circle cx="-6.48" cy="19.40" r="0.56"/><circle cx="-4.63" cy="19.40" r="0.56"/><circle cx="-2.78" cy="19.40" r="0.56"/><circle cx="-0.93" cy="19.40" r="0.56"/><circle cx="0.93" cy="19.40" r="0.56"/><circle cx="2.78" cy="19.40" r="0.56"/><circle cx="4.62" cy="19.40" r="0.56"/><circle cx="6.48" cy="19.40" r="0.56"/><circle cx="8.33" cy="19.40" r="0.56"/><circle cx="10.18" cy="19.40" r="0.56"/><circle cx="12.03" cy="19.40" r="0.56"/></g><path d="M-7.8 13 Q0 15 7.8 13" fill="none" stroke="#666" stroke-width="0.45"/></g>
<g transform="translate(1289.8 392)"><path d="M0 -0.2 L-10 16.6 A10 3 0 0 0 10 16.6 Z" fill="#585858" stroke="#585858" stroke-width="0.5" stroke-linejoin="round"/><g clip-path="url(#scclip)" fill="#fff"><circle cx="-1.85" cy="2.90" r="0.56"/><circle cx="0.00" cy="2.90" r="0.56"/><circle cx="1.85" cy="2.90" r="0.56"/><circle cx="-2.78" cy="4.40" r="0.56"/><circle cx="-0.93" cy="4.40" r="0.56"/><circle cx="0.93" cy="4.40" r="0.56"/><circle cx="2.78" cy="4.40" r="0.56"/><circle cx="-3.70" cy="5.90" r="0.56"/><circle cx="-1.85" cy="5.90" r="0.56"/><circle cx="0.00" cy="5.90" r="0.56"/><circle cx="1.85" cy="5.90" r="0.56"/><circle cx="3.70" cy="5.90" r="0.56"/><circle cx="-4.63" cy="7.40" r="0.56"/><circle cx="-2.78" cy="7.40" r="0.56"/><circle cx="-0.93" cy="7.40" r="0.56"/><circle cx="0.93" cy="7.40" r="0.56"/><circle cx="2.78" cy="7.40" r="0.56"/><circle cx="4.62" cy="7.40" r="0.56"/><circle cx="-5.55" cy="8.90" r="0.56"/><circle cx="-3.70" cy="8.90" r="0.56"/><circle cx="-1.85" cy="8.90" r="0.56"/><circle cx="0.00" cy="8.90" r="0.56"/><circle cx="1.85" cy="8.90" r="0.56"/><circle cx="3.70" cy="8.90" r="0.56"/><circle cx="5.55" cy="8.90" r="0.56"/><circle cx="-6.48" cy="10.40" r="0.56"/><circle cx="-4.63" cy="10.40" r="0.56"/><circle cx="-2.78" cy="10.40" r="0.56"/><circle cx="-0.93" cy="10.40" r="0.56"/><circle cx="0.93" cy="10.40" r="0.56"/><circle cx="2.78" cy="10.40" r="0.56"/><circle cx="4.62" cy="10.40" r="0.56"/><circle cx="6.48" cy="10.40" r="0.56"/><circle cx="-7.40" cy="11.90" r="0.56"/><circle cx="-5.55" cy="11.90" r="0.56"/><circle cx="-3.70" cy="11.90" r="0.56"/><circle cx="-1.85" cy="11.90" r="0.56"/><circle cx="0.00" cy="11.90" r="0.56"/><circle cx="1.85" cy="11.90" r="0.56"/><circle cx="3.70" cy="11.90" r="0.56"/><circle cx="5.55" cy="11.90" r="0.56"/><circle cx="7.40" cy="11.90" r="0.56"/><circle cx="-8.32" cy="13.40" r="0.56"/><circle cx="-6.48" cy="13.40" r="0.56"/><circle cx="-4.63" cy="13.40" r="0.56"/><circle cx="-2.78" cy="13.40" r="0.56"/><circle cx="-0.93" cy="13.40" r="0.56"/><circle cx="0.93" cy="13.40" r="0.56"/><circle cx="2.78" cy="13.40" r="0.56"/><circle cx="4.62" cy="13.40" r="0.56"/><circle cx="6.48" cy="13.40" r="0.56"/><circle cx="8.33" cy="13.40" r="0.56"/><circle cx="-9.25" cy="14.90" r="0.56"/><circle cx="-7.40" cy="14.90" r="0.56"/><circle cx="-5.55" cy="14.90" r="0.56"/><circle cx="-3.70" cy="14.90" r="0.56"/><circle cx="-1.85" cy="14.90" r="0.56"/><circle cx="0.00" cy="14.90" r="0.56"/><circle cx="1.85" cy="14.90" r="0.56"/><circle cx="3.70" cy="14.90" r="0.56"/><circle cx="5.55" cy="14.90" r="0.56"/><circle cx="7.40" cy="14.90" r="0.56"/><circle cx="9.25" cy="14.90" r="0.56"/><circle cx="-10.18" cy="16.40" r="0.56"/><circle cx="-8.32" cy="16.40" r="0.56"/><circle cx="-6.48" cy="16.40" r="0.56"/><circle cx="-4.63" cy="16.40" r="0.56"/><circle cx="-2.78" cy="16.40" r="0.56"/><circle cx="-0.93" cy="16.40" r="0.56"/><circle cx="0.93" cy="16.40" r="0.56"/><circle cx="2.78" cy="16.40" r="0.56"/><circle cx="4.62" cy="16.40" r="0.56"/><circle cx="6.48" cy="16.40" r="0.56"/><circle cx="8.33" cy="16.40" r="0.56"/><circle cx="10.18" cy="16.40" r="0.56"/><circle cx="-11.10" cy="17.90" r="0.56"/><circle cx="-9.25" cy="17.90" r="0.56"/><circle cx="-7.40" cy="17.90" r="0.56"/><circle cx="-5.55" cy="17.90" r="0.56"/><circle cx="-3.70" cy="17.90" r="0.56"/><circle cx="-1.85" cy="17.90" r="0.56"/><circle cx="0.00" cy="17.90" r="0.56"/><circle cx="1.85" cy="17.90" r="0.56"/><circle cx="3.70" cy="17.90" r="0.56"/><circle cx="5.55" cy="17.90" r="0.56"/><circle cx="7.40" cy="17.90" r="0.56"/><circle cx="9.25" cy="17.90" r="0.56"/><circle cx="11.10" cy="17.90" r="0.56"/><circle cx="-12.03" cy="19.40" r="0.56"/><circle cx="-10.18" cy="19.40" r="0.56"/><circle cx="-8.32" cy="19.40" r="0.56"/><circle cx="-6.48" cy="19.40" r="0.56"/><circle cx="-4.63" cy="19.40" r="0.56"/><circle cx="-2.78" cy="19.40" r="0.56"/><circle cx="-0.93" cy="19.40" r="0.56"/><circle cx="0.93" cy="19.40" r="0.56"/><circle cx="2.78" cy="19.40" r="0.56"/><circle cx="4.62" cy="19.40" r="0.56"/><circle cx="6.48" cy="19.40" r="0.56"/><circle cx="8.33" cy="19.40" r="0.56"/><circle cx="10.18" cy="19.40" r="0.56"/><circle cx="12.03" cy="19.40" r="0.56"/></g><path d="M-7.8 13 Q0 15 7.8 13" fill="none" stroke="#666" stroke-width="0.45"/></g>
</svg>
</body></html>
